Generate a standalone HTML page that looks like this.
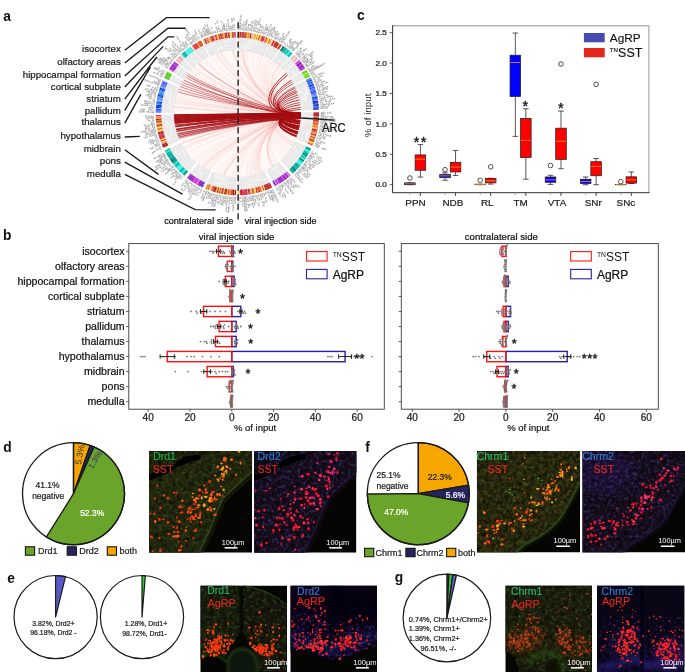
<!DOCTYPE html>
<html><head><meta charset="utf-8"><title>figure</title>
<style>
html,body{margin:0;padding:0;background:#fff;overflow:hidden}
svg{display:block}
text{font-family:"Liberation Sans",sans-serif}
</style></head><body>
<svg width="685" height="672" viewBox="0 0 685 672">
<rect width="685" height="672" fill="#fff"/>
<g opacity="0.999">
<g id="panel_a">
<g font-size="10" fill="#222" opacity="0.85"><text transform="translate(238.56 30.31) rotate(-89.2) scale(0.24)" text-anchor="start" y="3.5">jC3d</text><text transform="translate(238.65 23.91) rotate(-89.2) scale(0.24)" text-anchor="start" y="3.5">zV</text><text transform="translate(240.19 30.35) rotate(-88.08) scale(0.24)" text-anchor="start" y="3.5">ncfEDe</text><text transform="translate(240.49 21.35) rotate(-88.08) scale(0.24)" text-anchor="start" y="3.5">dTho2</text><text transform="translate(242.11 30.43) rotate(-86.76) scale(0.24)" text-anchor="start" y="3.5">TV</text><text transform="translate(242.32 26.64) rotate(-86.76) scale(0.24)" text-anchor="start" y="3.5">cSi</text><text transform="translate(243.85 30.55) rotate(-85.56) scale(0.24)" text-anchor="start" y="3.5">RhT</text><text transform="translate(244.25 25.47) rotate(-85.56) scale(0.24)" text-anchor="start" y="3.5">gVT</text><text transform="translate(245.77 30.72) rotate(-84.24) scale(0.24)" text-anchor="start" y="3.5">gSeT</text><text transform="translate(246.41 24.35) rotate(-84.24) scale(0.24)" text-anchor="start" y="3.5">MRE</text><text transform="translate(247.75 30.95) rotate(-82.86) scale(0.24)" text-anchor="start" y="3.5">VHzup</text><text transform="translate(249.69 31.21) rotate(-81.52) scale(0.24)" text-anchor="start" y="3.5">fTu</text><text transform="translate(250.44 26.17) rotate(-81.52) scale(0.24)" text-anchor="start" y="3.5">Gt-e</text><text transform="translate(251.32 31.47) rotate(-80.38) scale(0.24)" text-anchor="start" y="3.5">kxjMD</text><text transform="translate(252.61 23.88) rotate(-80.38) scale(0.24)" text-anchor="start" y="3.5">ST</text><text transform="translate(253.29 31.83) rotate(-79) scale(0.24)" text-anchor="start" y="3.5">xy-M</text><text transform="translate(254.51 25.55) rotate(-79) scale(0.24)" text-anchor="start" y="3.5">efsL5</text><text transform="translate(254.89 32.16) rotate(-77.88) scale(0.24)" text-anchor="start" y="3.5">3TGt</text><text transform="translate(256.24 25.9) rotate(-77.88) scale(0.24)" text-anchor="start" y="3.5">bHyk</text><text transform="translate(256.76 32.58) rotate(-76.56) scale(0.24)" text-anchor="start" y="3.5">dntip</text><text transform="translate(258.54 25.09) rotate(-76.56) scale(0.24)" text-anchor="start" y="3.5">fkGCS</text><text transform="translate(258.44 33) rotate(-75.37) scale(0.24)" text-anchor="start" y="3.5">ESs</text><text transform="translate(259.73 28.07) rotate(-75.37) scale(0.24)" text-anchor="start" y="3.5">Aojf</text><text transform="translate(260.07 33.45) rotate(-74.21) scale(0.24)" text-anchor="start" y="3.5">5oa</text><text transform="translate(261.46 28.54) rotate(-74.21) scale(0.24)" text-anchor="start" y="3.5">rta</text><text transform="translate(261.68 33.92) rotate(-73.05) scale(0.24)" text-anchor="start" y="3.5">z1TviN</text><text transform="translate(263.52 34.5) rotate(-71.73) scale(0.24)" text-anchor="start" y="3.5">HS</text><text transform="translate(264.71 30.89) rotate(-71.73) scale(0.24)" text-anchor="start" y="3.5">CgL2C</text><text transform="translate(265.06 35.03) rotate(-70.6) scale(0.24)" text-anchor="start" y="3.5">nG</text><text transform="translate(266.33 31.44) rotate(-70.6) scale(0.24)" text-anchor="start" y="3.5">-dga</text><text transform="translate(266.84 35.67) rotate(-69.31) scale(0.24)" text-anchor="start" y="3.5">gz1ben</text><text transform="translate(270.02 27.26) rotate(-69.31) scale(0.24)" text-anchor="start" y="3.5">2ry</text><text transform="translate(268.61 36.37) rotate(-67.99) scale(0.24)" text-anchor="start" y="3.5">hhMHL</text><text transform="translate(271.5 29.23) rotate(-67.99) scale(0.24)" text-anchor="start" y="3.5">jg</text><text transform="translate(270.44 37.13) rotate(-66.63) scale(0.24)" text-anchor="start" y="3.5">LkPb</text><text transform="translate(272.98 31.26) rotate(-66.63) scale(0.24)" text-anchor="start" y="3.5">jRbP</text><text transform="translate(272.04 37.84) rotate(-65.43) scale(0.24)" text-anchor="start" y="3.5">rP</text><text transform="translate(273.62 34.39) rotate(-65.43) scale(0.24)" text-anchor="start" y="3.5">yoR</text><text transform="translate(273.79 38.67) rotate(-64.1) scale(0.24)" text-anchor="start" y="3.5">x2o1mp</text><text transform="translate(275.55 39.55) rotate(-62.74) scale(0.24)" text-anchor="start" y="3.5">mPM</text><text transform="translate(277.89 35.02) rotate(-62.74) scale(0.24)" text-anchor="start" y="3.5">bs</text><text transform="translate(277.18 40.41) rotate(-61.48) scale(0.24)" text-anchor="start" y="3.5">-yG</text><text transform="translate(278.9 41.37) rotate(-60.12) scale(0.24)" text-anchor="start" y="3.5">zfog</text><text transform="translate(282.08 35.82) rotate(-60.12) scale(0.24)" text-anchor="start" y="3.5">xnL</text><text transform="translate(280.55 42.34) rotate(-58.8) scale(0.24)" text-anchor="start" y="3.5">aL3y3f</text><text transform="translate(281.96 43.22) rotate(-57.66) scale(0.24)" text-anchor="start" y="3.5">mLlE2</text><text transform="translate(286.08 36.71) rotate(-57.66) scale(0.24)" text-anchor="start" y="3.5">HCfkk</text><text transform="translate(284.34 44.79) rotate(-55.7) scale(0.24)" text-anchor="start" y="3.5">jV</text><text transform="translate(285.99 45.94) rotate(-54.32) scale(0.24)" text-anchor="start" y="3.5">1-L</text><text transform="translate(288.96 41.8) rotate(-54.32) scale(0.24)" text-anchor="start" y="3.5">jSSi</text><text transform="translate(287.29 46.89) rotate(-53.21) scale(0.24)" text-anchor="start" y="3.5">Pi</text><text transform="translate(289.56 43.85) rotate(-53.21) scale(0.24)" text-anchor="start" y="3.5">nbr</text><text transform="translate(288.64 47.93) rotate(-52.04) scale(0.24)" text-anchor="start" y="3.5">pVvrRD</text><text transform="translate(289.92 48.94) rotate(-50.91) scale(0.24)" text-anchor="start" y="3.5">H5VP</text><text transform="translate(293.95 43.97) rotate(-50.91) scale(0.24)" text-anchor="start" y="3.5">RjP</text><text transform="translate(291.35 50.13) rotate(-49.64) scale(0.24)" text-anchor="start" y="3.5">l-ajl</text><text transform="translate(296.34 44.26) rotate(-49.64) scale(0.24)" text-anchor="start" y="3.5">Sd</text><text transform="translate(292.68 51.29) rotate(-48.42) scale(0.24)" text-anchor="start" y="3.5">PSLgSd</text><text transform="translate(298.65 44.56) rotate(-48.42) scale(0.24)" text-anchor="start" y="3.5">cgNG</text><text transform="translate(295.37 53.78) rotate(-45.9) scale(0.24)" text-anchor="start" y="3.5">Gv</text><text transform="translate(298.01 51.05) rotate(-45.9) scale(0.24)" text-anchor="start" y="3.5">sGN</text><text transform="translate(296.7 55.1) rotate(-44.61) scale(0.24)" text-anchor="start" y="3.5">NpPrS</text><text transform="translate(297.88 56.32) rotate(-43.44) scale(0.24)" text-anchor="start" y="3.5">iDhCG</text><text transform="translate(303.47 51.03) rotate(-43.44) scale(0.24)" text-anchor="start" y="3.5">Een</text><text transform="translate(299.2 57.74) rotate(-42.11) scale(0.24)" text-anchor="start" y="3.5">j3</text><text transform="translate(302.02 55.2) rotate(-42.11) scale(0.24)" text-anchor="start" y="3.5">riH</text><text transform="translate(300.74 59.5) rotate(-40.5) scale(0.24)" text-anchor="start" y="3.5">CM</text><text transform="translate(303.63 57.03) rotate(-40.5) scale(0.24)" text-anchor="start" y="3.5">kEN</text><text transform="translate(301.9 60.89) rotate(-39.26) scale(0.24)" text-anchor="start" y="3.5">myvfz</text><text transform="translate(307.86 56.01) rotate(-39.26) scale(0.24)" text-anchor="start" y="3.5">GbAxP</text><text transform="translate(303.09 62.38) rotate(-37.94) scale(0.24)" text-anchor="start" y="3.5">ehogfr</text><text transform="translate(310.19 56.85) rotate(-37.94) scale(0.24)" text-anchor="start" y="3.5">siE</text><text transform="translate(304.32 64) rotate(-36.54) scale(0.24)" text-anchor="start" y="3.5">CjRN</text><text transform="translate(309.47 60.19) rotate(-36.54) scale(0.24)" text-anchor="start" y="3.5">fsdl</text><text transform="translate(305.39 65.47) rotate(-35.29) scale(0.24)" text-anchor="start" y="3.5">sb</text><text transform="translate(308.49 63.28) rotate(-35.29) scale(0.24)" text-anchor="start" y="3.5">f-oe</text><text transform="translate(306.38 66.9) rotate(-34.1) scale(0.24)" text-anchor="start" y="3.5">Ha</text><text transform="translate(309.52 64.77) rotate(-34.1) scale(0.24)" text-anchor="start" y="3.5">s1icP</text><text transform="translate(307.81 69.09) rotate(-32.3) scale(0.24)" text-anchor="start" y="3.5">kr</text><text transform="translate(311.02 67.06) rotate(-32.3) scale(0.24)" text-anchor="start" y="3.5">u2u</text><text transform="translate(308.79 70.68) rotate(-31.01) scale(0.24)" text-anchor="start" y="3.5">tGN</text><text transform="translate(313.16 68.05) rotate(-31.01) scale(0.24)" text-anchor="start" y="3.5">ybrc</text><text transform="translate(309.61 72.06) rotate(-29.91) scale(0.24)" text-anchor="start" y="3.5">SmNLpG</text><text transform="translate(317.41 67.58) rotate(-29.91) scale(0.24)" text-anchor="start" y="3.5">5MRCN</text><text transform="translate(310.47 73.6) rotate(-28.7) scale(0.24)" text-anchor="start" y="3.5">oxm</text><text transform="translate(311.39 75.33) rotate(-27.35) scale(0.24)" text-anchor="start" y="3.5">Cyd</text><text transform="translate(312.52 77.61) rotate(-25.6) scale(0.24)" text-anchor="start" y="3.5">Ekdf</text><text transform="translate(318.29 74.84) rotate(-25.6) scale(0.24)" text-anchor="start" y="3.5">N5t-p</text><text transform="translate(313.35 79.38) rotate(-24.26) scale(0.24)" text-anchor="start" y="3.5">Hl</text><text transform="translate(316.81 77.82) rotate(-24.26) scale(0.24)" text-anchor="start" y="3.5">arzxS</text><text transform="translate(314.05 80.99) rotate(-23.04) scale(0.24)" text-anchor="start" y="3.5">un</text><text transform="translate(317.55 79.51) rotate(-23.04) scale(0.24)" text-anchor="start" y="3.5">xA</text><text transform="translate(314.68 82.51) rotate(-21.91) scale(0.24)" text-anchor="start" y="3.5">N3mp</text><text transform="translate(320.62 80.12) rotate(-21.91) scale(0.24)" text-anchor="start" y="3.5">fr</text><text transform="translate(315.41 84.39) rotate(-20.53) scale(0.24)" text-anchor="start" y="3.5">CVc</text><text transform="translate(320.19 82.6) rotate(-20.53) scale(0.24)" text-anchor="start" y="3.5">u2of</text><text transform="translate(316.06 86.17) rotate(-19.22) scale(0.24)" text-anchor="start" y="3.5">j5-AvM</text><text transform="translate(324.55 83.21) rotate(-19.22) scale(0.24)" text-anchor="start" y="3.5">cN2</text><text transform="translate(316.63 87.9) rotate(-17.97) scale(0.24)" text-anchor="start" y="3.5">iPNTbV</text><text transform="translate(317.22 89.77) rotate(-16.62) scale(0.24)" text-anchor="start" y="3.5">fbc</text><text transform="translate(322.1 88.31) rotate(-16.62) scale(0.24)" text-anchor="start" y="3.5">gAGS</text><text transform="translate(317.67 91.33) rotate(-15.51) scale(0.24)" text-anchor="start" y="3.5">2R</text><text transform="translate(321.33 90.31) rotate(-15.51) scale(0.24)" text-anchor="start" y="3.5">raHeN</text><text transform="translate(318.19 93.32) rotate(-14.09) scale(0.24)" text-anchor="start" y="3.5">5P</text><text transform="translate(321.88 92.39) rotate(-14.09) scale(0.24)" text-anchor="start" y="3.5">rerpn</text><text transform="translate(318.59 94.99) rotate(-12.91) scale(0.24)" text-anchor="start" y="3.5">MAeLt</text><text transform="translate(319 96.86) rotate(-11.6) scale(0.24)" text-anchor="start" y="3.5">e-j</text><text transform="translate(324 95.83) rotate(-11.6) scale(0.24)" text-anchor="start" y="3.5">1Tia</text><text transform="translate(319.35 98.67) rotate(-10.33) scale(0.24)" text-anchor="start" y="3.5">sgnMt</text><text transform="translate(326.93 97.29) rotate(-10.33) scale(0.24)" text-anchor="start" y="3.5">HHHh</text><text transform="translate(319.7 100.74) rotate(-8.88) scale(0.24)" text-anchor="start" y="3.5">mufLbt</text><text transform="translate(328.59 99.35) rotate(-8.88) scale(0.24)" text-anchor="start" y="3.5">sAnne</text><text transform="translate(319.97 102.62) rotate(-7.58) scale(0.24)" text-anchor="start" y="3.5">Prz</text><text transform="translate(325.03 101.95) rotate(-7.58) scale(0.24)" text-anchor="start" y="3.5">hzoM</text><text transform="translate(320.22 104.66) rotate(-6.16) scale(0.24)" text-anchor="start" y="3.5">CbkaM</text><text transform="translate(327.87 103.83) rotate(-6.16) scale(0.24)" text-anchor="start" y="3.5">ujDyA</text><text transform="translate(320.39 106.41) rotate(-4.95) scale(0.24)" text-anchor="start" y="3.5">avxC</text><text transform="translate(326.77 105.86) rotate(-4.95) scale(0.24)" text-anchor="start" y="3.5">atr</text><text transform="translate(320.52 108.19) rotate(-3.72) scale(0.24)" text-anchor="start" y="3.5">AVezE</text><text transform="translate(320.7 112.73) rotate(-0.6) scale(0.24)" text-anchor="start" y="3.5">gd5t</text><text transform="translate(327.1 112.66) rotate(-0.6) scale(0.24)" text-anchor="start" y="3.5">psE</text><text transform="translate(320.69 114.59) rotate(0.68) scale(0.24)" text-anchor="start" y="3.5">zEb</text><text transform="translate(320.65 116.51) rotate(2) scale(0.24)" text-anchor="start" y="3.5">SnfdDG</text><text transform="translate(329.64 116.82) rotate(2) scale(0.24)" text-anchor="start" y="3.5">3tM</text><text transform="translate(320.58 118.13) rotate(3.12) scale(0.24)" text-anchor="start" y="3.5">ikLDxt</text><text transform="translate(329.56 118.62) rotate(3.12) scale(0.24)" text-anchor="start" y="3.5">C3pu</text><text transform="translate(320.46 119.97) rotate(4.39) scale(0.24)" text-anchor="start" y="3.5">hk3ke</text><text transform="translate(328.13 120.56) rotate(4.39) scale(0.24)" text-anchor="start" y="3.5">SoGxG</text><text transform="translate(320.3 121.78) rotate(5.64) scale(0.24)" text-anchor="start" y="3.5">mpflxS</text><text transform="translate(329.25 122.66) rotate(5.64) scale(0.24)" text-anchor="start" y="3.5">zrT</text><text transform="translate(320.11 123.47) rotate(6.81) scale(0.24)" text-anchor="start" y="3.5">DA</text><text transform="translate(323.89 123.92) rotate(6.81) scale(0.24)" text-anchor="start" y="3.5">Asx</text><text transform="translate(319.85 125.44) rotate(8.17) scale(0.24)" text-anchor="start" y="3.5">sTziN</text><text transform="translate(327.48 126.53) rotate(8.17) scale(0.24)" text-anchor="start" y="3.5">fsp</text><text transform="translate(319.58 127.21) rotate(9.4) scale(0.24)" text-anchor="start" y="3.5">Eubic</text><text transform="translate(327.18 128.47) rotate(9.4) scale(0.24)" text-anchor="start" y="3.5">VMaeC</text><text transform="translate(319.22 129.25) rotate(10.83) scale(0.24)" text-anchor="start" y="3.5">HGpgoj</text><text transform="translate(328.06 130.94) rotate(10.83) scale(0.24)" text-anchor="start" y="3.5">3H</text><text transform="translate(318.89 130.86) rotate(11.96) scale(0.24)" text-anchor="start" y="3.5">ai</text><text transform="translate(322.61 131.65) rotate(11.96) scale(0.24)" text-anchor="start" y="3.5">3u</text><text transform="translate(318.43 132.9) rotate(13.4) scale(0.24)" text-anchor="start" y="3.5">P2Eh</text><text transform="translate(324.66 134.38) rotate(13.4) scale(0.24)" text-anchor="start" y="3.5">PVmA</text><text transform="translate(318.01 134.58) rotate(14.59) scale(0.24)" text-anchor="start" y="3.5">aaRuHs</text><text transform="translate(317.51 136.44) rotate(15.91) scale(0.24)" text-anchor="start" y="3.5">LPp</text><text transform="translate(322.41 137.84) rotate(15.91) scale(0.24)" text-anchor="start" y="3.5">D3</text><text transform="translate(317.01 138.12) rotate(17.12) scale(0.24)" text-anchor="start" y="3.5">mM</text><text transform="translate(316.42 139.96) rotate(18.45) scale(0.24)" text-anchor="start" y="3.5">ro</text><text transform="translate(320.02 141.16) rotate(18.45) scale(0.24)" text-anchor="start" y="3.5">oMcx</text><text transform="translate(315.78 141.82) rotate(19.8) scale(0.24)" text-anchor="start" y="3.5">Cmat</text><text transform="translate(315.13 143.55) rotate(21.08) scale(0.24)" text-anchor="start" y="3.5">Mmu</text><text transform="translate(314.5 145.13) rotate(22.24) scale(0.24)" text-anchor="start" y="3.5">ortg1</text><text transform="translate(321.63 148.05) rotate(22.24) scale(0.24)" text-anchor="start" y="3.5">oMD</text><text transform="translate(312.4 149.85) rotate(25.8) scale(0.24)" text-anchor="start" y="3.5">-j</text><text transform="translate(311.67 151.31) rotate(26.92) scale(0.24)" text-anchor="start" y="3.5">-j</text><text transform="translate(315.06 153.03) rotate(26.92) scale(0.24)" text-anchor="start" y="3.5">lC</text><text transform="translate(310.83 152.93) rotate(28.18) scale(0.24)" text-anchor="start" y="3.5">hfkx</text><text transform="translate(316.47 155.96) rotate(28.18) scale(0.24)" text-anchor="start" y="3.5">cu5Az</text><text transform="translate(309.81 154.77) rotate(29.62) scale(0.24)" text-anchor="start" y="3.5">kgafs</text><text transform="translate(316.51 158.58) rotate(29.62) scale(0.24)" text-anchor="start" y="3.5">hSnAy</text><text transform="translate(308.81 156.49) rotate(30.99) scale(0.24)" text-anchor="start" y="3.5">EfdL</text><text transform="translate(314.3 159.79) rotate(30.99) scale(0.24)" text-anchor="start" y="3.5">mvzLb</text><text transform="translate(307.8 158.13) rotate(32.31) scale(0.24)" text-anchor="start" y="3.5">2Cc</text><text transform="translate(312.11 160.85) rotate(32.31) scale(0.24)" text-anchor="start" y="3.5">edrme</text><text transform="translate(306.68 159.85) rotate(33.73) scale(0.24)" text-anchor="start" y="3.5">zsx1</text><text transform="translate(312 163.4) rotate(33.73) scale(0.24)" text-anchor="start" y="3.5">sua-</text><text transform="translate(305.51 161.55) rotate(35.15) scale(0.24)" text-anchor="start" y="3.5">bo</text><text transform="translate(308.62 163.74) rotate(35.15) scale(0.24)" text-anchor="start" y="3.5">ArEMi</text><text transform="translate(304.3 163.23) rotate(36.57) scale(0.24)" text-anchor="start" y="3.5">auj</text><text transform="translate(308.4 166.27) rotate(36.57) scale(0.24)" text-anchor="start" y="3.5">vHz-</text><text transform="translate(303.31 164.54) rotate(37.7) scale(0.24)" text-anchor="start" y="3.5">Ckp</text><text transform="translate(307.35 167.66) rotate(37.7) scale(0.24)" text-anchor="start" y="3.5">LS</text><text transform="translate(302.15 166.01) rotate(38.99) scale(0.24)" text-anchor="start" y="3.5">Ege</text><text transform="translate(306.11 169.22) rotate(38.99) scale(0.24)" text-anchor="start" y="3.5">ng</text><text transform="translate(300.99 167.41) rotate(40.24) scale(0.24)" text-anchor="start" y="3.5">loiDH</text><text transform="translate(306.87 172.38) rotate(40.24) scale(0.24)" text-anchor="start" y="3.5">R5h</text><text transform="translate(299.68 168.92) rotate(41.61) scale(0.24)" text-anchor="start" y="3.5">tsTs</text><text transform="translate(304.47 173.17) rotate(41.61) scale(0.24)" text-anchor="start" y="3.5">mGpl</text><text transform="translate(298.52 170.19) rotate(42.8) scale(0.24)" text-anchor="start" y="3.5">tVm</text><text transform="translate(302.27 173.66) rotate(42.8) scale(0.24)" text-anchor="start" y="3.5">rpNPo</text><text transform="translate(297.2 171.59) rotate(44.12) scale(0.24)" text-anchor="start" y="3.5">3H</text><text transform="translate(296.04 172.77) rotate(45.26) scale(0.24)" text-anchor="start" y="3.5">oGzct</text><text transform="translate(301.46 178.24) rotate(45.26) scale(0.24)" text-anchor="start" y="3.5">m-</text><text transform="translate(294.53 174.22) rotate(46.7) scale(0.24)" text-anchor="start" y="3.5">mezNlG</text><text transform="translate(300.7 180.77) rotate(46.7) scale(0.24)" text-anchor="start" y="3.5">g2</text><text transform="translate(291.17 177.22) rotate(49.8) scale(0.24)" text-anchor="start" y="3.5">ynczxj</text><text transform="translate(296.98 184.1) rotate(49.8) scale(0.24)" text-anchor="start" y="3.5">c-3n</text><text transform="translate(289.61 178.51) rotate(51.19) scale(0.24)" text-anchor="start" y="3.5">Dzl1</text><text transform="translate(293.62 183.49) rotate(51.19) scale(0.24)" text-anchor="start" y="3.5">cMS</text><text transform="translate(288.16 179.65) rotate(52.45) scale(0.24)" text-anchor="start" y="3.5">gC5Sj</text><text transform="translate(292.85 185.75) rotate(52.45) scale(0.24)" text-anchor="start" y="3.5">3k</text><text transform="translate(286.72 180.73) rotate(53.69) scale(0.24)" text-anchor="start" y="3.5">Dt5u</text><text transform="translate(290.51 185.89) rotate(53.69) scale(0.24)" text-anchor="start" y="3.5">uT</text><text transform="translate(285.06 181.92) rotate(55.1) scale(0.24)" text-anchor="start" y="3.5">Dbz3m</text><text transform="translate(289.46 188.24) rotate(55.1) scale(0.24)" text-anchor="start" y="3.5">naEkE</text><text transform="translate(283.69 182.86) rotate(56.24) scale(0.24)" text-anchor="start" y="3.5">CT</text><text transform="translate(282.15 183.86) rotate(57.5) scale(0.24)" text-anchor="start" y="3.5">iad</text><text transform="translate(284.89 188.16) rotate(57.5) scale(0.24)" text-anchor="start" y="3.5">fT1zN</text><text transform="translate(280.72 184.75) rotate(58.66) scale(0.24)" text-anchor="start" y="3.5">tkPk</text><text transform="translate(279.3 185.6) rotate(59.8) scale(0.24)" text-anchor="start" y="3.5">muicL</text><text transform="translate(283.17 192.25) rotate(59.8) scale(0.24)" text-anchor="start" y="3.5">f1k2o</text><text transform="translate(277.63 186.54) rotate(61.12) scale(0.24)" text-anchor="start" y="3.5">mLlTnc</text><text transform="translate(281.98 194.42) rotate(61.12) scale(0.24)" text-anchor="start" y="3.5">Ayh</text><text transform="translate(276.16 187.33) rotate(62.27) scale(0.24)" text-anchor="start" y="3.5">cSc</text><text transform="translate(278.53 191.85) rotate(62.27) scale(0.24)" text-anchor="start" y="3.5">hA-H</text><text transform="translate(272.34 189.22) rotate(65.2) scale(0.24)" text-anchor="start" y="3.5">3DuV</text><text transform="translate(275.02 195.03) rotate(65.2) scale(0.24)" text-anchor="start" y="3.5">5zGNG</text><text transform="translate(270.8 189.91) rotate(66.36) scale(0.24)" text-anchor="start" y="3.5">1M</text><text transform="translate(272.32 193.39) rotate(66.36) scale(0.24)" text-anchor="start" y="3.5">1HlLC</text><text transform="translate(269.28 190.56) rotate(67.5) scale(0.24)" text-anchor="start" y="3.5">yEz</text><text transform="translate(271.23 195.27) rotate(67.5) scale(0.24)" text-anchor="start" y="3.5">NN5cc</text><text transform="translate(267.49 191.27) rotate(68.82) scale(0.24)" text-anchor="start" y="3.5">vN</text><text transform="translate(268.87 194.82) rotate(68.82) scale(0.24)" text-anchor="start" y="3.5">3ibe1</text><text transform="translate(265.65 191.97) rotate(70.18) scale(0.24)" text-anchor="start" y="3.5">mi</text><text transform="translate(263.9 192.57) rotate(71.45) scale(0.24)" text-anchor="start" y="3.5">oey</text><text transform="translate(265.52 197.41) rotate(71.45) scale(0.24)" text-anchor="start" y="3.5">kv1s</text><text transform="translate(261.94 193.2) rotate(72.87) scale(0.24)" text-anchor="start" y="3.5">jrNLn</text><text transform="translate(264.21 200.56) rotate(72.87) scale(0.24)" text-anchor="start" y="3.5">vzc</text><text transform="translate(260.31 193.69) rotate(74.04) scale(0.24)" text-anchor="start" y="3.5">k2svA</text><text transform="translate(262.43 201.09) rotate(74.04) scale(0.24)" text-anchor="start" y="3.5">hPd2</text><text transform="translate(258.34 194.22) rotate(75.44) scale(0.24)" text-anchor="start" y="3.5">SPVgr</text><text transform="translate(256.48 194.69) rotate(76.76) scale(0.24)" text-anchor="start" y="3.5">zrAzT</text><text transform="translate(258.24 202.18) rotate(76.76) scale(0.24)" text-anchor="start" y="3.5">fGol</text><text transform="translate(254.61 195.1) rotate(78.07) scale(0.24)" text-anchor="start" y="3.5">tP</text><text transform="translate(255.4 198.82) rotate(78.07) scale(0.24)" text-anchor="start" y="3.5">acoj</text><text transform="translate(252.9 195.45) rotate(79.28) scale(0.24)" text-anchor="start" y="3.5">DNzdi</text><text transform="translate(254.33 203.01) rotate(79.28) scale(0.24)" text-anchor="start" y="3.5">bd</text><text transform="translate(251.33 195.73) rotate(80.38) scale(0.24)" text-anchor="start" y="3.5">ugPy</text><text transform="translate(252.4 202.04) rotate(80.38) scale(0.24)" text-anchor="start" y="3.5">VuVin</text><text transform="translate(249.56 196.01) rotate(81.6) scale(0.24)" text-anchor="start" y="3.5">kiapj</text><text transform="translate(250.69 203.62) rotate(81.6) scale(0.24)" text-anchor="start" y="3.5">2j</text><text transform="translate(247.54 196.28) rotate(83.01) scale(0.24)" text-anchor="start" y="3.5">Crad</text><text transform="translate(248.32 202.63) rotate(83.01) scale(0.24)" text-anchor="start" y="3.5">-3VG</text><text transform="translate(245.64 196.49) rotate(84.32) scale(0.24)" text-anchor="start" y="3.5">Mpkacd</text><text transform="translate(246.53 205.45) rotate(84.32) scale(0.24)" text-anchor="start" y="3.5">lpkdg</text><text transform="translate(244.04 196.63) rotate(85.42) scale(0.24)" text-anchor="start" y="3.5">5mjDmP</text><text transform="translate(244.76 205.61) rotate(85.42) scale(0.24)" text-anchor="start" y="3.5">1lNue</text><text transform="translate(242.3 196.76) rotate(86.63) scale(0.24)" text-anchor="start" y="3.5">LR</text><text transform="translate(242.52 200.55) rotate(86.63) scale(0.24)" text-anchor="start" y="3.5">Hf3Gl</text><text transform="translate(240.58 196.84) rotate(87.81) scale(0.24)" text-anchor="start" y="3.5">ro</text><text transform="translate(240.73 200.64) rotate(87.81) scale(0.24)" text-anchor="start" y="3.5">xr</text><text transform="translate(238.62 196.89) rotate(89.16) scale(0.24)" text-anchor="start" y="3.5">2SEP</text><text transform="translate(202.33 38.04) rotate(425.1) scale(0.24)" text-anchor="end" y="3.5">fNa</text><text transform="translate(200.18 33.42) rotate(425.1) scale(0.24)" text-anchor="end" y="3.5">mkv</text><text transform="translate(203.87 37.34) rotate(426.27) scale(0.24)" text-anchor="end" y="3.5">x-pA2</text><text transform="translate(205.81 36.52) rotate(427.71) scale(0.24)" text-anchor="end" y="3.5">LLPabE</text><text transform="translate(207.4 35.89) rotate(428.89) scale(0.24)" text-anchor="end" y="3.5">nC1V</text><text transform="translate(205.1 29.92) rotate(428.89) scale(0.24)" text-anchor="end" y="3.5">jcb</text><text transform="translate(208.95 35.31) rotate(430.03) scale(0.24)" text-anchor="end" y="3.5">kyjbbc</text><text transform="translate(205.88 26.85) rotate(430.03) scale(0.24)" text-anchor="end" y="3.5">ec</text><text transform="translate(210.49 34.77) rotate(431.15) scale(0.24)" text-anchor="end" y="3.5">zmR5eA</text><text transform="translate(207.59 26.25) rotate(431.15) scale(0.24)" text-anchor="end" y="3.5">nhc</text><text transform="translate(212.03 34.26) rotate(432.27) scale(0.24)" text-anchor="end" y="3.5">22</text><text transform="translate(210.87 30.64) rotate(432.27) scale(0.24)" text-anchor="end" y="3.5">ig</text><text transform="translate(213.94 33.67) rotate(433.64) scale(0.24)" text-anchor="end" y="3.5">tvx</text><text transform="translate(212.51 28.78) rotate(433.64) scale(0.24)" text-anchor="end" y="3.5">yr</text><text transform="translate(215.94 33.11) rotate(435.07) scale(0.24)" text-anchor="end" y="3.5">zv</text><text transform="translate(217.78 32.64) rotate(436.38) scale(0.24)" text-anchor="end" y="3.5">t1bDb</text><text transform="translate(215.97 25.16) rotate(436.38) scale(0.24)" text-anchor="end" y="3.5">yL</text><text transform="translate(219.69 32.2) rotate(437.73) scale(0.24)" text-anchor="end" y="3.5">TnfTtk</text><text transform="translate(217.78 23.41) rotate(437.73) scale(0.24)" text-anchor="end" y="3.5">tda</text><text transform="translate(221.43 31.84) rotate(438.95) scale(0.24)" text-anchor="end" y="3.5">Ml</text><text transform="translate(223.3 31.5) rotate(440.26) scale(0.24)" text-anchor="end" y="3.5">rTktno</text><text transform="translate(221.78 22.63) rotate(440.26) scale(0.24)" text-anchor="end" y="3.5">2f</text><text transform="translate(225.13 31.21) rotate(441.53) scale(0.24)" text-anchor="end" y="3.5">g2vygC</text><text transform="translate(227.16 30.93) rotate(442.94) scale(0.24)" text-anchor="end" y="3.5">E3</text><text transform="translate(226.69 27.16) rotate(442.94) scale(0.24)" text-anchor="end" y="3.5">urE</text><text transform="translate(229.21 30.7) rotate(444.36) scale(0.24)" text-anchor="end" y="3.5">kA2oHi</text><text transform="translate(228.32 21.75) rotate(444.36) scale(0.24)" text-anchor="end" y="3.5">yV</text><text transform="translate(230.97 30.55) rotate(445.57) scale(0.24)" text-anchor="end" y="3.5">G5S</text><text transform="translate(232.65 30.44) rotate(446.73) scale(0.24)" text-anchor="end" y="3.5">rVoix</text><text transform="translate(232.21 22.75) rotate(446.73) scale(0.24)" text-anchor="end" y="3.5">Nms</text><text transform="translate(234.4 30.35) rotate(447.93) scale(0.24)" text-anchor="end" y="3.5">jjpv-P</text><text transform="translate(234.07 21.36) rotate(447.93) scale(0.24)" text-anchor="end" y="3.5">vmr</text><text transform="translate(191.06 44.38) rotate(416.2) scale(0.24)" text-anchor="end" y="3.5">k5</text><text transform="translate(188.95 41.22) rotate(416.2) scale(0.24)" text-anchor="end" y="3.5">jjuuE</text><text transform="translate(192.52 43.43) rotate(417.4) scale(0.24)" text-anchor="end" y="3.5">2g</text><text transform="translate(190.47 40.23) rotate(417.4) scale(0.24)" text-anchor="end" y="3.5">HcaCE</text><text transform="translate(194.17 42.39) rotate(418.74) scale(0.24)" text-anchor="end" y="3.5">2tHbjr</text><text transform="translate(189.5 34.7) rotate(418.74) scale(0.24)" text-anchor="end" y="3.5">apETV</text><text transform="translate(195.88 41.39) rotate(420.1) scale(0.24)" text-anchor="end" y="3.5">o533V</text><text transform="translate(197.57 40.44) rotate(421.44) scale(0.24)" text-anchor="end" y="3.5">HE</text><text transform="translate(195.76 37.1) rotate(421.44) scale(0.24)" text-anchor="end" y="3.5">Dp</text><text transform="translate(199.34 39.5) rotate(422.81) scale(0.24)" text-anchor="end" y="3.5">rEL</text><text transform="translate(197.01 34.97) rotate(422.81) scale(0.24)" text-anchor="end" y="3.5">P5l3v</text><text transform="translate(180.06 53.18) rotate(406.5) scale(0.24)" text-anchor="end" y="3.5">MgcrR</text><text transform="translate(174.76 47.59) rotate(406.5) scale(0.24)" text-anchor="end" y="3.5">Pyg</text><text transform="translate(181.55 51.8) rotate(407.9) scale(0.24)" text-anchor="end" y="3.5">RnLNb</text><text transform="translate(176.39 46.08) rotate(407.9) scale(0.24)" text-anchor="end" y="3.5">PxDH</text><text transform="translate(182.83 50.67) rotate(409.07) scale(0.24)" text-anchor="end" y="3.5">CNh</text><text transform="translate(184.29 49.43) rotate(410.38) scale(0.24)" text-anchor="end" y="3.5">rs</text><text transform="translate(181.86 46.5) rotate(410.38) scale(0.24)" text-anchor="end" y="3.5">ae</text><text transform="translate(185.69 48.29) rotate(411.63) scale(0.24)" text-anchor="end" y="3.5">2yVrg</text><text transform="translate(180.91 42.25) rotate(411.63) scale(0.24)" text-anchor="end" y="3.5">PoCHn</text><text transform="translate(187.02 47.26) rotate(412.79) scale(0.24)" text-anchor="end" y="3.5">2m</text><text transform="translate(184.73 44.23) rotate(412.79) scale(0.24)" text-anchor="end" y="3.5">jy5</text><text transform="translate(188.57 46.11) rotate(414.11) scale(0.24)" text-anchor="end" y="3.5">HtS3i</text><text transform="translate(174.63 58.84) rotate(401.1) scale(0.24)" text-anchor="end" y="3.5">sAr</text><text transform="translate(175.92 57.39) rotate(402.44) scale(0.24)" text-anchor="end" y="3.5">asyp3</text><text transform="translate(170.24 52.19) rotate(402.44) scale(0.24)" text-anchor="end" y="3.5">ME12f</text><text transform="translate(177.25 55.98) rotate(403.77) scale(0.24)" text-anchor="end" y="3.5">juAd</text><text transform="translate(172.62 51.55) rotate(403.77) scale(0.24)" text-anchor="end" y="3.5">iPy2</text><text transform="translate(178.57 54.62) rotate(405.07) scale(0.24)" text-anchor="end" y="3.5">ne</text><text transform="translate(175.89 51.93) rotate(405.07) scale(0.24)" text-anchor="end" y="3.5">-gVj</text><text transform="translate(167.62 68.11) rotate(393.1) scale(0.24)" text-anchor="end" y="3.5">Gyj</text><text transform="translate(163.35 65.32) rotate(393.1) scale(0.24)" text-anchor="end" y="3.5">Rk1-f</text><text transform="translate(168.7 66.5) rotate(394.43) scale(0.24)" text-anchor="end" y="3.5">2umMnP</text><text transform="translate(161.27 61.41) rotate(394.43) scale(0.24)" text-anchor="end" y="3.5">5hShr</text><text transform="translate(169.74 65.01) rotate(395.68) scale(0.24)" text-anchor="end" y="3.5">LMS</text><text transform="translate(165.59 62.04) rotate(395.68) scale(0.24)" text-anchor="end" y="3.5">jMpMk</text><text transform="translate(170.85 63.5) rotate(396.97) scale(0.24)" text-anchor="end" y="3.5">kv</text><text transform="translate(167.81 61.22) rotate(396.97) scale(0.24)" text-anchor="end" y="3.5">5tHzE</text><text transform="translate(171.95 62.07) rotate(398.22) scale(0.24)" text-anchor="end" y="3.5">l2</text><text transform="translate(168.97 59.72) rotate(398.22) scale(0.24)" text-anchor="end" y="3.5">b1</text><text transform="translate(172.97 60.8) rotate(399.33) scale(0.24)" text-anchor="end" y="3.5">gNLM</text><text transform="translate(162.66 76.82) rotate(386.2) scale(0.24)" text-anchor="end" y="3.5">D2i</text><text transform="translate(158.08 74.57) rotate(386.2) scale(0.24)" text-anchor="end" y="3.5">xLPS</text><text transform="translate(163.56 75.05) rotate(387.57) scale(0.24)" text-anchor="end" y="3.5">tEx</text><text transform="translate(159.04 72.69) rotate(387.57) scale(0.24)" text-anchor="end" y="3.5">tt</text><text transform="translate(164.4 73.48) rotate(388.79) scale(0.24)" text-anchor="end" y="3.5">CxNsN</text><text transform="translate(157.65 69.77) rotate(388.79) scale(0.24)" text-anchor="end" y="3.5">3Mh</text><text transform="translate(165.27 71.94) rotate(390.01) scale(0.24)" text-anchor="end" y="3.5">uiV2</text><text transform="translate(159.73 68.74) rotate(390.01) scale(0.24)" text-anchor="end" y="3.5">CS</text><text transform="translate(154.12 111.86) rotate(361.2) scale(0.24)" text-anchor="end" y="3.5">TdCuga</text><text transform="translate(145.12 111.67) rotate(361.2) scale(0.24)" text-anchor="end" y="3.5">-5dNR</text><text transform="translate(154.18 109.95) rotate(362.51) scale(0.24)" text-anchor="end" y="3.5">j2-fnc</text><text transform="translate(145.19 109.55) rotate(362.51) scale(0.24)" text-anchor="end" y="3.5">2lg5l</text><text transform="translate(154.29 107.91) rotate(363.92) scale(0.24)" text-anchor="end" y="3.5">g3azi</text><text transform="translate(154.44 106.03) rotate(365.22) scale(0.24)" text-anchor="end" y="3.5">ulDc</text><text transform="translate(148.07 105.45) rotate(365.22) scale(0.24)" text-anchor="end" y="3.5">T3VdM</text><text transform="translate(154.64 104.15) rotate(366.51) scale(0.24)" text-anchor="end" y="3.5">hD</text><text transform="translate(150.86 103.72) rotate(366.51) scale(0.24)" text-anchor="end" y="3.5">GeaA-</text><text transform="translate(154.87 102.26) rotate(367.82) scale(0.24)" text-anchor="end" y="3.5">LDS</text><text transform="translate(149.82 101.57) rotate(367.82) scale(0.24)" text-anchor="end" y="3.5">nj2aE</text><text transform="translate(155.11 100.68) rotate(368.92) scale(0.24)" text-anchor="end" y="3.5">fn</text><text transform="translate(155.38 99.04) rotate(370.07) scale(0.24)" text-anchor="end" y="3.5">sT</text><text transform="translate(151.64 98.37) rotate(370.07) scale(0.24)" text-anchor="end" y="3.5">dzj</text><text transform="translate(155.75 97.1) rotate(371.42) scale(0.24)" text-anchor="end" y="3.5">t2</text><text transform="translate(152.03 96.35) rotate(371.42) scale(0.24)" text-anchor="end" y="3.5">H5rdc</text><text transform="translate(156.08 95.53) rotate(372.53) scale(0.24)" text-anchor="end" y="3.5">31</text><text transform="translate(152.37 94.71) rotate(372.53) scale(0.24)" text-anchor="end" y="3.5">u-kM</text><text transform="translate(156.52 93.67) rotate(373.84) scale(0.24)" text-anchor="end" y="3.5">zTGL</text><text transform="translate(150.3 92.14) rotate(373.84) scale(0.24)" text-anchor="end" y="3.5">hz3</text><text transform="translate(156.94 92.04) rotate(375) scale(0.24)" text-anchor="end" y="3.5">LAGsT</text><text transform="translate(149.5 90.05) rotate(375) scale(0.24)" text-anchor="end" y="3.5">d13-</text><text transform="translate(157.41 90.34) rotate(376.21) scale(0.24)" text-anchor="end" y="3.5">aj-uVE</text><text transform="translate(157.91 88.69) rotate(377.4) scale(0.24)" text-anchor="end" y="3.5">A-oGt</text><text transform="translate(150.56 86.39) rotate(377.4) scale(0.24)" text-anchor="end" y="3.5">rsEk</text><text transform="translate(158.5 86.89) rotate(378.71) scale(0.24)" text-anchor="end" y="3.5">tj</text><text transform="translate(159.18 84.96) rotate(380.11) scale(0.24)" text-anchor="end" y="3.5">jsSMyR</text><text transform="translate(150.73 81.87) rotate(380.11) scale(0.24)" text-anchor="end" y="3.5">Amou-</text><text transform="translate(159.75 83.44) rotate(381.23) scale(0.24)" text-anchor="end" y="3.5">HnrVa</text><text transform="translate(160.44 81.74) rotate(382.49) scale(0.24)" text-anchor="end" y="3.5">Ry</text><text transform="translate(161.11 80.16) rotate(383.67) scale(0.24)" text-anchor="end" y="3.5">PrPvLN</text><text transform="translate(152.87 76.54) rotate(383.67) scale(0.24)" text-anchor="end" y="3.5">nmf</text><text transform="translate(161.6 148.14) rotate(335.5) scale(0.24)" text-anchor="end" y="3.5">zTTy</text><text transform="translate(155.78 150.8) rotate(335.5) scale(0.24)" text-anchor="end" y="3.5">pcM</text><text transform="translate(160.88 146.51) rotate(336.73) scale(0.24)" text-anchor="end" y="3.5">z2</text><text transform="translate(157.38 148.01) rotate(336.73) scale(0.24)" text-anchor="end" y="3.5">jv</text><text transform="translate(160.14 144.75) rotate(338.04) scale(0.24)" text-anchor="end" y="3.5">sP-b</text><text transform="translate(154.21 147.14) rotate(338.04) scale(0.24)" text-anchor="end" y="3.5">TMV</text><text transform="translate(159.46 142.99) rotate(339.34) scale(0.24)" text-anchor="end" y="3.5">sEgG</text><text transform="translate(158.77 141.1) rotate(340.73) scale(0.24)" text-anchor="end" y="3.5">rcx</text><text transform="translate(153.96 142.78) rotate(340.73) scale(0.24)" text-anchor="end" y="3.5">Afb</text><text transform="translate(158.25 139.56) rotate(341.84) scale(0.24)" text-anchor="end" y="3.5">zHMe-2</text><text transform="translate(149.7 142.36) rotate(341.84) scale(0.24)" text-anchor="end" y="3.5">fr</text><text transform="translate(157.72 137.88) rotate(343.05) scale(0.24)" text-anchor="end" y="3.5">3f5</text><text transform="translate(152.84 139.37) rotate(343.05) scale(0.24)" text-anchor="end" y="3.5">Gkz</text><text transform="translate(157.13 135.87) rotate(344.49) scale(0.24)" text-anchor="end" y="3.5">lcr</text><text transform="translate(156.71 134.3) rotate(345.61) scale(0.24)" text-anchor="end" y="3.5">bdrN3L</text><text transform="translate(147.99 136.53) rotate(345.61) scale(0.24)" text-anchor="end" y="3.5">vam</text><text transform="translate(156.25 132.41) rotate(346.95) scale(0.24)" text-anchor="end" y="3.5">VVG3</text><text transform="translate(150.02 133.85) rotate(346.95) scale(0.24)" text-anchor="end" y="3.5">zrAh</text><text transform="translate(155.87 130.66) rotate(348.18) scale(0.24)" text-anchor="end" y="3.5">kGpja</text><text transform="translate(148.33 132.24) rotate(348.18) scale(0.24)" text-anchor="end" y="3.5">cko</text><text transform="translate(155.55 129.05) rotate(349.31) scale(0.24)" text-anchor="end" y="3.5">ziGgAb</text><text transform="translate(146.7 130.72) rotate(349.31) scale(0.24)" text-anchor="end" y="3.5">xvoLh</text><text transform="translate(155.21 127.16) rotate(350.63) scale(0.24)" text-anchor="end" y="3.5">xod</text><text transform="translate(150.18 127.99) rotate(350.63) scale(0.24)" text-anchor="end" y="3.5">SjGjs</text><text transform="translate(154.94 125.37) rotate(351.87) scale(0.24)" text-anchor="end" y="3.5">jbs</text><text transform="translate(149.89 126.09) rotate(351.87) scale(0.24)" text-anchor="end" y="3.5">xkrM</text><text transform="translate(154.72 123.73) rotate(353.01) scale(0.24)" text-anchor="end" y="3.5">LhjNd</text><text transform="translate(147.08 124.67) rotate(353.01) scale(0.24)" text-anchor="end" y="3.5">SLt</text><text transform="translate(154.53 122.08) rotate(354.15) scale(0.24)" text-anchor="end" y="3.5">zEr</text><text transform="translate(154.35 120.02) rotate(355.58) scale(0.24)" text-anchor="end" y="3.5">At</text><text transform="translate(150.56 120.31) rotate(355.58) scale(0.24)" text-anchor="end" y="3.5">dtj</text><text transform="translate(154.21 117.93) rotate(357.02) scale(0.24)" text-anchor="end" y="3.5">GN</text><text transform="translate(150.42 118.13) rotate(357.02) scale(0.24)" text-anchor="end" y="3.5">GaP</text><text transform="translate(154.14 116.19) rotate(358.22) scale(0.24)" text-anchor="end" y="3.5">EcDn</text><text transform="translate(147.74 116.38) rotate(358.22) scale(0.24)" text-anchor="end" y="3.5">ilP</text><text transform="translate(182.97 176.66) rotate(310.8) scale(0.24)" text-anchor="end" y="3.5">m-f</text><text transform="translate(181.43 175.3) rotate(312.21) scale(0.24)" text-anchor="end" y="3.5">slni1</text><text transform="translate(176.26 181) rotate(312.21) scale(0.24)" text-anchor="end" y="3.5">Vum</text><text transform="translate(180.26 174.21) rotate(313.31) scale(0.24)" text-anchor="end" y="3.5">DdPyxt</text><text transform="translate(178.79 172.79) rotate(314.72) scale(0.24)" text-anchor="end" y="3.5">faDLi</text><text transform="translate(177.57 171.56) rotate(315.91) scale(0.24)" text-anchor="end" y="3.5">Tzc</text><text transform="translate(173.91 175.11) rotate(315.91) scale(0.24)" text-anchor="end" y="3.5">T-ay</text><text transform="translate(176.29 170.21) rotate(317.19) scale(0.24)" text-anchor="end" y="3.5">Pehyp</text><text transform="translate(174.92 168.69) rotate(318.6) scale(0.24)" text-anchor="end" y="3.5">ATdt</text><text transform="translate(173.56 167.11) rotate(320.03) scale(0.24)" text-anchor="end" y="3.5">GNbPR</text><text transform="translate(167.66 172.06) rotate(320.03) scale(0.24)" text-anchor="end" y="3.5">fo1</text><text transform="translate(172.49 165.8) rotate(321.19) scale(0.24)" text-anchor="end" y="3.5">ur</text><text transform="translate(169.53 168.19) rotate(321.19) scale(0.24)" text-anchor="end" y="3.5">bg</text><text transform="translate(171.21 164.17) rotate(322.62) scale(0.24)" text-anchor="end" y="3.5">rb-</text><text transform="translate(167.16 167.27) rotate(322.62) scale(0.24)" text-anchor="end" y="3.5">PpGgy</text><text transform="translate(169.99 162.54) rotate(324.02) scale(0.24)" text-anchor="end" y="3.5">csh</text><text transform="translate(165.86 165.53) rotate(324.02) scale(0.24)" text-anchor="end" y="3.5">hhhC</text><text transform="translate(168.81 160.86) rotate(325.43) scale(0.24)" text-anchor="end" y="3.5">Vooj5T</text><text transform="translate(161.4 165.97) rotate(325.43) scale(0.24)" text-anchor="end" y="3.5">kb2AD</text><text transform="translate(167.75 159.28) rotate(326.74) scale(0.24)" text-anchor="end" y="3.5">PcCdzx</text><text transform="translate(160.22 164.22) rotate(326.74) scale(0.24)" text-anchor="end" y="3.5">ETvC</text><text transform="translate(166.65 157.57) rotate(328.14) scale(0.24)" text-anchor="end" y="3.5">vP</text><text transform="translate(163.42 159.58) rotate(328.14) scale(0.24)" text-anchor="end" y="3.5">pE52</text><text transform="translate(165.82 156.2) rotate(329.24) scale(0.24)" text-anchor="end" y="3.5">Pl</text><text transform="translate(162.55 158.15) rotate(329.24) scale(0.24)" text-anchor="end" y="3.5">mN5bo</text><text transform="translate(164.98 154.76) rotate(330.39) scale(0.24)" text-anchor="end" y="3.5">H2ccc</text><text transform="translate(164.05 153.08) rotate(331.71) scale(0.24)" text-anchor="end" y="3.5">s2Rc1g</text><text transform="translate(156.13 157.35) rotate(331.71) scale(0.24)" text-anchor="end" y="3.5">Ep</text><text transform="translate(201.54 188.79) rotate(295.5) scale(0.24)" text-anchor="end" y="3.5">huy3</text><text transform="translate(198.78 194.56) rotate(295.5) scale(0.24)" text-anchor="end" y="3.5">-N</text><text transform="translate(199.69 187.88) rotate(296.92) scale(0.24)" text-anchor="end" y="3.5">HV</text><text transform="translate(197.97 191.26) rotate(296.92) scale(0.24)" text-anchor="end" y="3.5">GhN</text><text transform="translate(198.21 187.11) rotate(298.06) scale(0.24)" text-anchor="end" y="3.5">DTts</text><text transform="translate(195.2 192.76) rotate(298.06) scale(0.24)" text-anchor="end" y="3.5">Rt</text><text transform="translate(196.44 186.13) rotate(299.46) scale(0.24)" text-anchor="end" y="3.5">To3AmS</text><text transform="translate(192.01 193.97) rotate(299.46) scale(0.24)" text-anchor="end" y="3.5">Su1LL</text><text transform="translate(194.69 185.12) rotate(300.84) scale(0.24)" text-anchor="end" y="3.5">px</text><text transform="translate(192.75 188.38) rotate(300.84) scale(0.24)" text-anchor="end" y="3.5">VCayk</text><text transform="translate(192.96 184.05) rotate(302.24) scale(0.24)" text-anchor="end" y="3.5">vSv</text><text transform="translate(190.24 188.37) rotate(302.24) scale(0.24)" text-anchor="end" y="3.5">ntdb</text><text transform="translate(191.55 183.14) rotate(303.4) scale(0.24)" text-anchor="end" y="3.5">-y</text><text transform="translate(189.45 186.32) rotate(303.4) scale(0.24)" text-anchor="end" y="3.5">PA</text><text transform="translate(189.87 182.01) rotate(304.79) scale(0.24)" text-anchor="end" y="3.5">gPoj</text><text transform="translate(186.22 187.26) rotate(304.79) scale(0.24)" text-anchor="end" y="3.5">im11</text><text transform="translate(188.22 180.83) rotate(306.19) scale(0.24)" text-anchor="end" y="3.5">gLs22i</text><text transform="translate(182.9 188.09) rotate(306.19) scale(0.24)" text-anchor="end" y="3.5">aD</text><text transform="translate(186.62 179.64) rotate(307.56) scale(0.24)" text-anchor="end" y="3.5">hMCTjD</text><text transform="translate(235.36 196.88) rotate(271.4) scale(0.24)" text-anchor="end" y="3.5">-hAGHt</text><text transform="translate(233.62 196.81) rotate(272.6) scale(0.24)" text-anchor="end" y="3.5">PS-A3</text><text transform="translate(233.27 204.51) rotate(272.6) scale(0.24)" text-anchor="end" y="3.5">AGulR</text><text transform="translate(231.87 196.72) rotate(273.81) scale(0.24)" text-anchor="end" y="3.5">ETA</text><text transform="translate(231.53 201.8) rotate(273.81) scale(0.24)" text-anchor="end" y="3.5">xv</text><text transform="translate(229.78 196.55) rotate(275.25) scale(0.24)" text-anchor="end" y="3.5">pvnEab</text><text transform="translate(228.96 205.51) rotate(275.25) scale(0.24)" text-anchor="end" y="3.5">uRuR1</text><text transform="translate(227.68 196.33) rotate(276.7) scale(0.24)" text-anchor="end" y="3.5">PEAHyc</text><text transform="translate(226.64 205.27) rotate(276.7) scale(0.24)" text-anchor="end" y="3.5">GaeP</text><text transform="translate(225.98 196.11) rotate(277.88) scale(0.24)" text-anchor="end" y="3.5">zNC3S</text><text transform="translate(224.32 195.87) rotate(279.03) scale(0.24)" text-anchor="end" y="3.5">DMC</text><text transform="translate(223.52 200.9) rotate(279.03) scale(0.24)" text-anchor="end" y="3.5">Pfkz</text><text transform="translate(222.59 195.57) rotate(280.24) scale(0.24)" text-anchor="end" y="3.5">uN</text><text transform="translate(221.91 199.31) rotate(280.24) scale(0.24)" text-anchor="end" y="3.5">xND2</text><text transform="translate(220.94 195.26) rotate(281.4) scale(0.24)" text-anchor="end" y="3.5">NnNm</text><text transform="translate(219.67 201.53) rotate(281.4) scale(0.24)" text-anchor="end" y="3.5">2T</text><text transform="translate(219.07 194.86) rotate(282.71) scale(0.24)" text-anchor="end" y="3.5">T22c</text><text transform="translate(217.67 201.1) rotate(282.71) scale(0.24)" text-anchor="end" y="3.5">au</text><text transform="translate(217.17 194.41) rotate(284.06) scale(0.24)" text-anchor="end" y="3.5">auCgVa</text><text transform="translate(214.98 203.14) rotate(284.06) scale(0.24)" text-anchor="end" y="3.5">lMS</text><text transform="translate(215.34 193.93) rotate(285.36) scale(0.24)" text-anchor="end" y="3.5">NjTmD-</text><text transform="translate(212.96 202.6) rotate(285.36) scale(0.24)" text-anchor="end" y="3.5">PNg</text><text transform="translate(213.79 193.48) rotate(286.47) scale(0.24)" text-anchor="end" y="3.5">kP</text><text transform="translate(212.71 197.13) rotate(286.47) scale(0.24)" text-anchor="end" y="3.5">1Ed3a</text><text transform="translate(211.93 192.91) rotate(287.81) scale(0.24)" text-anchor="end" y="3.5">vjpysk</text><text transform="translate(209.18 201.48) rotate(287.81) scale(0.24)" text-anchor="end" y="3.5">Ve</text><text transform="translate(210.24 192.35) rotate(289.03) scale(0.24)" text-anchor="end" y="3.5">1Abdo</text><text transform="translate(208.46 191.71) rotate(290.33) scale(0.24)" text-anchor="end" y="3.5">Gd</text><text transform="translate(207.14 195.27) rotate(290.33) scale(0.24)" text-anchor="end" y="3.5">ock</text><text transform="translate(206.52 190.97) rotate(291.76) scale(0.24)" text-anchor="end" y="3.5">vaH</text><text transform="translate(204.63 195.7) rotate(291.76) scale(0.24)" text-anchor="end" y="3.5">MepA</text><text transform="translate(204.73 190.22) rotate(293.09) scale(0.24)" text-anchor="end" y="3.5">oDuCMb</text></g>
<circle cx="237.4" cy="113.6" r="63.7" fill="#fff8f6"/>
<path d="M237.8 37.9A75.7 75.7 0 0 1 269.27 44.94L264.09 56.09A63.4 63.4 0 0 0 237.73 50.2ZM269.87 45.22A75.7 75.7 0 0 1 278.74 50.18L272.02 60.49A63.4 63.4 0 0 0 264.59 56.33ZM279.51 50.69A75.7 75.7 0 0 1 288.93 58.15L280.56 67.16A63.4 63.4 0 0 0 272.67 60.92ZM289.6 58.78A75.7 75.7 0 0 1 293.92 63.24L284.74 71.42A63.4 63.4 0 0 0 281.12 67.69ZM294.53 63.94A75.7 75.7 0 0 1 300.38 71.6L290.15 78.42A63.4 63.4 0 0 0 285.25 72.01ZM301.03 72.59A75.7 75.7 0 0 1 304.85 79.23L293.89 84.82A63.4 63.4 0 0 0 290.69 79.26ZM305.38 80.3A75.7 75.7 0 0 1 313.02 110.03L300.73 110.61A63.4 63.4 0 0 0 294.33 85.71ZM313.09 112.15A75.7 75.7 0 0 1 306.93 143.54L295.63 138.68A63.4 63.4 0 0 0 300.79 112.38ZM305.84 145.95A75.7 75.7 0 0 1 288.64 169.32L280.31 160.27A63.4 63.4 0 0 0 294.72 140.69ZM286.76 170.99A75.7 75.7 0 0 1 272 180.93L266.38 169.99A63.4 63.4 0 0 0 278.74 161.67ZM269.75 182.04A75.7 75.7 0 0 1 238.19 189.3L238.06 177A63.4 63.4 0 0 0 264.49 170.92ZM204.93 45.22A75.7 75.7 0 0 1 235.95 37.91L236.18 50.21A63.4 63.4 0 0 0 210.21 56.33ZM194.74 51.06A75.7 75.7 0 0 1 203.74 45.79L209.21 56.81A63.4 63.4 0 0 0 201.67 61.23ZM184.81 59.15A75.7 75.7 0 0 1 194.09 51.51L201.13 61.6A63.4 63.4 0 0 0 193.36 67.99ZM179.92 64.34A75.7 75.7 0 0 1 184.34 59.61L192.96 68.38A63.4 63.4 0 0 0 189.26 72.34ZM173.63 72.82A75.7 75.7 0 0 1 179.16 65.25L188.62 73.1A63.4 63.4 0 0 0 183.99 79.44ZM169.19 80.77A75.7 75.7 0 0 1 172.72 74.27L183.23 80.66A63.4 63.4 0 0 0 180.27 86.11ZM161.71 112.68A75.7 75.7 0 0 1 168.3 82.69L179.53 87.71A63.4 63.4 0 0 0 174 112.83ZM168.79 145.59A75.7 75.7 0 0 1 161.71 114.79L174.01 114.6A63.4 63.4 0 0 0 179.94 140.39ZM188.44 171.33A75.7 75.7 0 0 1 169.95 147.97L180.91 142.38A63.4 63.4 0 0 0 196.39 161.95ZM205.41 182.21A75.7 75.7 0 0 1 190.59 173.09L198.19 163.42A63.4 63.4 0 0 0 210.61 171.06ZM236.21 189.29A75.7 75.7 0 0 1 207.21 183.02L212.12 171.74A63.4 63.4 0 0 0 236.4 176.99Z" fill="#e8e8e8"/>
<path d="M241.24 48.21A65.5 65.5 0 0 1 246.86 50.37M257.13 49.05A67.5 67.5 0 0 1 262.51 50.61M240.26 44.16A69.5 69.5 0 0 1 247.67 45.44M246.47 42.68A71.5 71.5 0 0 1 250.3 45.19M255.81 42.44A73.5 73.5 0 0 1 261.64 45.57M241.59 48.23A65.5 65.5 0 0 1 246.74 50.1M238.57 46.11A67.5 67.5 0 0 1 246.66 47.54M241.11 44.2A69.5 69.5 0 0 1 249.46 47.22M243.64 42.37A71.5 71.5 0 0 1 253.08 45.75M247.59 40.81A73.5 73.5 0 0 1 258.07 41.48M240.96 48.2A65.5 65.5 0 0 1 246.94 47.67M245.44 46.58A67.5 67.5 0 0 1 255.15 49.99M257.3 47.01A69.5 69.5 0 0 1 263.66 50.73M247.51 42.82A71.5 71.5 0 0 1 252.38 42.63M243.62 40.36A73.5 73.5 0 0 1 254.35 41.63M245.03 48.55A65.5 65.5 0 0 1 250.19 48.81M242.14 46.27A67.5 67.5 0 0 1 251.34 49.48M248.47 44.99A69.5 69.5 0 0 1 255.57 47.71M254.19 44.1A71.5 71.5 0 0 1 260.8 45.21M250.28 41.24A73.5 73.5 0 0 1 256.23 43.12M266.06 54.7A65.5 65.5 0 0 1 271.04 55.36M268.24 53.56A67.5 67.5 0 0 1 273.1 58.63M270.51 52.49A69.5 69.5 0 0 1 275.25 55.31M269.93 49.93A71.5 71.5 0 0 1 273.16 52.78M270.41 47.93A73.5 73.5 0 0 1 275.19 49.3M275.58 60.38A65.5 65.5 0 0 1 281.78 62.68M279.63 60.94A67.5 67.5 0 0 1 284.49 62.75M276.99 56.48A69.5 69.5 0 0 1 280 61.7M281.55 57.36A71.5 71.5 0 0 1 285.48 61.68M281.09 54.49A73.5 73.5 0 0 1 288.02 58.94M283.3 66.87A65.5 65.5 0 0 1 285.68 70.43M285.69 66.44A67.5 67.5 0 0 1 286.29 69.89M287.88 65.83A69.5 69.5 0 0 1 290 66.57M286.91 62.02A71.5 71.5 0 0 1 288.51 66.05M288.76 61.02A73.5 73.5 0 0 1 291.75 65.01M287.05 70.88A65.5 65.5 0 0 1 291.06 74.84M289.1 70.21A67.5 67.5 0 0 1 293.78 75.85M292.66 71.45A69.5 69.5 0 0 1 294.88 75.12M294.13 70.07A71.5 71.5 0 0 1 294.74 75.21M296.29 69.62A73.5 73.5 0 0 1 297.59 73.31M292.62 78.38A65.5 65.5 0 0 1 296.19 83.52M294.32 77.32A67.5 67.5 0 0 1 295.26 82.78M297.83 79.27A69.5 69.5 0 0 1 301.11 81M299.47 78.11A71.5 71.5 0 0 1 301.92 80.59M300.3 75.57A73.5 73.5 0 0 1 304.29 79.37M298.37 89.66A65.5 65.5 0 0 1 301.86 92.79M301.18 91.5A67.5 67.5 0 0 1 304.7 101.09M304.83 96.78A69.5 69.5 0 0 1 307.15 106.24M305.15 90.74A71.5 71.5 0 0 1 307.31 94.45M306.88 89.62A73.5 73.5 0 0 1 311.11 96.62M297.27 87.03A65.5 65.5 0 0 1 298.06 95.8M302.72 96.6A67.5 67.5 0 0 1 303.25 105.8M303.82 93.13A69.5 69.5 0 0 1 306.85 103.46M305.71 92.5A71.5 71.5 0 0 1 305.01 98.4M306.38 88.23A73.5 73.5 0 0 1 307.04 95.3M298.57 90.17A65.5 65.5 0 0 1 300.98 93.99M302.57 96A67.5 67.5 0 0 1 302.46 101.32M303.64 92.55A69.5 69.5 0 0 1 307.52 98.75M304.46 88.8A71.5 71.5 0 0 1 308.15 93.98M304.7 84.06A73.5 73.5 0 0 1 306.77 91.97M301.28 99.14A65.5 65.5 0 0 1 303.78 106.07M299.42 86.95A67.5 67.5 0 0 1 302.68 94.57M303.3 91.54A69.5 69.5 0 0 1 307.27 100.13M302.65 84.36A71.5 71.5 0 0 1 304.18 90.08M305.23 85.3A73.5 73.5 0 0 1 305.74 89.69M302.85 116.27A65.5 65.5 0 0 1 301.74 124.42M304.89 114.68A67.5 67.5 0 0 1 304.39 120.48M306.62 119.84A69.5 69.5 0 0 1 303.9 124.32M308.89 112.58A71.5 71.5 0 0 1 309.42 123.9M310.9 114.14A73.5 73.5 0 0 1 312.61 123.8M302.17 123.34A65.5 65.5 0 0 1 301.37 127.43M304.49 121.07A67.5 67.5 0 0 1 303.98 125.93M306.89 112.56A69.5 69.5 0 0 1 307 122.96M307.89 125.57A71.5 71.5 0 0 1 306.03 136.22M310.78 117.78A73.5 73.5 0 0 1 308.44 123.25M302.9 112.99A65.5 65.5 0 0 1 304.08 121.92M304.73 118.33A67.5 67.5 0 0 1 304.9 123.25M305.03 129.62A69.5 69.5 0 0 1 300.35 138.89M307.26 128.82A71.5 71.5 0 0 1 305.61 138.8M310.67 119.41A73.5 73.5 0 0 1 311.67 124.89M302.7 118.65A65.5 65.5 0 0 1 302.23 124.61M304.62 119.78A67.5 67.5 0 0 1 301.84 128.77M306.9 113.23A69.5 69.5 0 0 1 307.14 121.05M307.1 129.55A71.5 71.5 0 0 1 306.44 138.89M308.39 132.63A73.5 73.5 0 0 1 306.03 139.91M295.33 144.16A65.5 65.5 0 0 1 292.92 149.12M297.74 143.86A67.5 67.5 0 0 1 292.12 150.17M296.21 150.63A69.5 69.5 0 0 1 288.29 157.86M301.66 144.96A71.5 71.5 0 0 1 296.95 150.31M296.5 157.3A73.5 73.5 0 0 1 295.43 161.44M288.65 154.39A65.5 65.5 0 0 1 282.45 160.63M296.01 147.09A67.5 67.5 0 0 1 291.57 153.99M296.43 150.28A69.5 69.5 0 0 1 292.74 155.13M295.53 155.23A71.5 71.5 0 0 1 290.67 164.27M302.34 148.02A73.5 73.5 0 0 1 299.01 153.15M291.68 150.26A65.5 65.5 0 0 1 287.03 153.97M297.7 143.93A67.5 67.5 0 0 1 294.7 148.91M290.41 158.54A69.5 69.5 0 0 1 285.77 166.02M291.9 159.88A71.5 71.5 0 0 1 286.29 166.59M295.45 158.68A73.5 73.5 0 0 1 293.37 162.59M291.23 150.92A65.5 65.5 0 0 1 288.2 155.51M289.1 156.99A67.5 67.5 0 0 1 284.89 162.6M297.6 148.34A69.5 69.5 0 0 1 295.87 154.62M301.76 144.75A71.5 71.5 0 0 1 300.12 149.75M299.56 152.83A73.5 73.5 0 0 1 297.69 157.03M276.94 165.82A65.5 65.5 0 0 1 270.58 169.59M276.76 168.44A67.5 67.5 0 0 1 270.16 172.03M281.64 167.2A69.5 69.5 0 0 1 278.84 171.8M278.92 171.81A71.5 71.5 0 0 1 276.06 175.89M282.89 171.33A73.5 73.5 0 0 1 279.3 174.18M277.96 165.03A65.5 65.5 0 0 1 272.57 169.18M279.41 166.43A67.5 67.5 0 0 1 272.2 169.17M278.08 169.95A69.5 69.5 0 0 1 270.38 172.38M280.23 170.85A71.5 71.5 0 0 1 276.55 173.07M276.96 175.55A73.5 73.5 0 0 1 271.6 179.87M251.26 177.62A65.5 65.5 0 0 1 247.48 180.8M252.38 179.42A67.5 67.5 0 0 1 248.47 181.86M259.43 179.52A69.5 69.5 0 0 1 255.32 183.13M256.56 182.48A71.5 71.5 0 0 1 246.97 182.62M252.54 185.52A73.5 73.5 0 0 1 248.12 184.98M258.52 175.6A65.5 65.5 0 0 1 255.28 177.1M262.19 176.38A67.5 67.5 0 0 1 257.15 179.23M258.75 179.74A69.5 69.5 0 0 1 249.05 182.73M250.11 183.96A71.5 71.5 0 0 1 242.36 187.02M250.5 185.92A73.5 73.5 0 0 1 245.55 187.88M259.1 175.4A65.5 65.5 0 0 1 250.94 178.61M250.33 179.85A67.5 67.5 0 0 1 245.9 179.92M252.51 181.44A69.5 69.5 0 0 1 242.16 184.05M267 178.69A71.5 71.5 0 0 1 258.68 179.76M257.4 184.33A73.5 73.5 0 0 1 247.32 184.47M248.02 178.23A65.5 65.5 0 0 1 239.96 177.82M262.56 176.23A67.5 67.5 0 0 1 256.71 180.04M255.66 180.66A69.5 69.5 0 0 1 250.83 179.35M265.69 179.27A71.5 71.5 0 0 1 256.09 180.98M257.28 184.36A73.5 73.5 0 0 1 251.54 186.68M216.21 51.62A65.5 65.5 0 0 1 219.95 48.52M218.55 48.79A67.5 67.5 0 0 1 226.51 45.42M226.18 45.01A69.5 69.5 0 0 1 229.97 45.29M209.75 47.66A71.5 71.5 0 0 1 216.26 43.34M222.37 41.65A73.5 73.5 0 0 1 226.67 42.49M224.35 49.41A65.5 65.5 0 0 1 232.4 48.83M217.36 49.14A67.5 67.5 0 0 1 221.45 46.24M215.16 47.75A69.5 69.5 0 0 1 224.72 44.7M208.3 48.29A71.5 71.5 0 0 1 214.53 47.35M224.36 41.27A73.5 73.5 0 0 1 232.83 42.53M212.4 53.06A65.5 65.5 0 0 1 218 51.21M219.29 48.58A67.5 67.5 0 0 1 225.53 47.89M207.81 50.71A69.5 69.5 0 0 1 215.36 48.57M207.23 48.77A71.5 71.5 0 0 1 213.09 43.78M206.88 46.74A73.5 73.5 0 0 1 211.17 44.03M214.25 52.33A65.5 65.5 0 0 1 219.28 50.66M213.34 50.53A67.5 67.5 0 0 1 220.5 48.1M226.34 44.99A69.5 69.5 0 0 1 235.99 46.44M217.88 44.82A71.5 71.5 0 0 1 226.92 40.99M221.82 41.77A73.5 73.5 0 0 1 230.37 39.76M202.45 58.2A65.5 65.5 0 0 1 206.42 54.22M204.17 54.85A67.5 67.5 0 0 1 206.88 52.38M199.99 55.02A69.5 69.5 0 0 1 205.85 50.33M200.09 52.61A71.5 71.5 0 0 1 205.83 50.28M199.29 50.75A73.5 73.5 0 0 1 205.59 49.79M193.74 64.77A65.5 65.5 0 0 1 196.64 59.24M193.2 62.58A67.5 67.5 0 0 1 198.76 59.82M190.5 62.31A69.5 69.5 0 0 1 196.35 59.79M187.86 62.04A71.5 71.5 0 0 1 195.89 55.67M189.06 58.23A73.5 73.5 0 0 1 195.81 54.2M188.16 70.41A65.5 65.5 0 0 1 191.51 68.26M187.01 68.68A67.5 67.5 0 0 1 189.82 65.36M187.22 65.51A69.5 69.5 0 0 1 187.12 62.61M184.79 65.19A71.5 71.5 0 0 1 188.32 63.83M183.31 63.84A73.5 73.5 0 0 1 186.29 61.78M184.71 74.69A65.5 65.5 0 0 1 185.51 70.67M180.81 76.81A67.5 67.5 0 0 1 183.34 69.93M179.8 74.7A69.5 69.5 0 0 1 184.93 71.75M177.77 74.14A71.5 71.5 0 0 1 180.33 68.85M176.29 72.76A73.5 73.5 0 0 1 181.56 68.14M179.61 82.77A65.5 65.5 0 0 1 180.74 79.29M177.01 83.44A67.5 67.5 0 0 1 177.68 77.43M176.08 80.89A69.5 69.5 0 0 1 176.63 76.8M174.93 78.82A71.5 71.5 0 0 1 177.8 77.5M171.63 80.79A73.5 73.5 0 0 1 172.93 74.55M173.15 100.89A65.5 65.5 0 0 1 177.1 91.97M170.28 106.42A67.5 67.5 0 0 1 171.07 97.55M168.48 104.67A69.5 69.5 0 0 1 170.89 96.45M165.93 111.44A71.5 71.5 0 0 1 168.72 104.9M165.24 99.61A73.5 73.5 0 0 1 166.77 93.38M173 101.65A65.5 65.5 0 0 1 174.32 96.64M169.91 112.4A67.5 67.5 0 0 1 170.52 102.32M170.88 93.47A69.5 69.5 0 0 1 171.63 89.44M167.61 98.05A71.5 71.5 0 0 1 171.16 92.67M164.02 109.32A73.5 73.5 0 0 1 163.15 104.23M171.95 111.02A65.5 65.5 0 0 1 173.3 102.13M170.84 102.4A67.5 67.5 0 0 1 172.28 94.83M169.29 99.77A69.5 69.5 0 0 1 172.14 92.29M167.69 97.72A71.5 71.5 0 0 1 168.16 91.92M165.84 96.82A73.5 73.5 0 0 1 169.61 87.78M173.67 98.48A65.5 65.5 0 0 1 176.98 88.93M170.19 107.34A67.5 67.5 0 0 1 169.08 99.75M167.99 110.03A69.5 69.5 0 0 1 168.4 106.35M167.32 99.41A71.5 71.5 0 0 1 170.48 90.44M167.06 92.27A73.5 73.5 0 0 1 167.7 86.51M177.29 139.61A65.5 65.5 0 0 1 177.66 135.61M175.68 140.94A67.5 67.5 0 0 1 172.9 134.41M172.9 139.48A69.5 69.5 0 0 1 170.4 129.34M171.3 140.85A71.5 71.5 0 0 1 168.4 136.47M164.9 125.71A73.5 73.5 0 0 1 166.58 120.43M173.3 127.09A65.5 65.5 0 0 1 170.06 122.38M172.7 132.83A67.5 67.5 0 0 1 171.64 124.88M169.3 127.46A69.5 69.5 0 0 1 169.13 120.47M166.94 125.75A71.5 71.5 0 0 1 165.15 121.37M170.15 143.27A73.5 73.5 0 0 1 167.56 134.86M172.99 125.47A65.5 65.5 0 0 1 172.08 121.72M173.22 134.51A67.5 67.5 0 0 1 168.64 125.14M170.09 130.89A69.5 69.5 0 0 1 170.19 125.53M170.43 138.65A71.5 71.5 0 0 1 169.6 131.65M169.01 140.54A73.5 73.5 0 0 1 165.37 131.49M175.81 135.9A65.5 65.5 0 0 1 174.48 125.76M172.31 131.49A67.5 67.5 0 0 1 169.46 127.34M169.03 126.1A69.5 69.5 0 0 1 167 120.69M167.25 127.41A71.5 71.5 0 0 1 167.19 121.52M167.03 134.82A73.5 73.5 0 0 1 166.37 124.13M186.39 154.68A65.5 65.5 0 0 1 182.21 148.44M186.06 157.42A67.5 67.5 0 0 1 181.5 148.78M180.95 154.14A69.5 69.5 0 0 1 176.32 149.61M179.56 155.63A71.5 71.5 0 0 1 175.16 152.35M176.42 154.63A73.5 73.5 0 0 1 175.28 148.24M193.44 162.16A65.5 65.5 0 0 1 188.4 153.27M182.27 152.55A67.5 67.5 0 0 1 178.74 149.32M190.95 165.3A69.5 69.5 0 0 1 186.79 162.56M189.72 166.88A71.5 71.5 0 0 1 183.7 163.92M179.73 159.17A73.5 73.5 0 0 1 171.69 151.58M194.5 163.09A65.5 65.5 0 0 1 189.78 160.68M184.75 155.84A67.5 67.5 0 0 1 182.44 152.82M189.08 163.55A69.5 69.5 0 0 1 185.95 157.34M190.76 167.8A71.5 71.5 0 0 1 183.6 159.29M177.76 156.56A73.5 73.5 0 0 1 175.15 152.56M193.12 161.86A65.5 65.5 0 0 1 189.83 156.26M184.8 155.9A67.5 67.5 0 0 1 181.07 152.92M185.52 159.85A69.5 69.5 0 0 1 183.24 155.97M184.08 161.24A71.5 71.5 0 0 1 178.25 152.41M186.54 166.66A73.5 73.5 0 0 1 177.49 159.41M202.93 169.29A65.5 65.5 0 0 1 199.49 165.03M206.22 173.47A67.5 67.5 0 0 1 203.89 169.55M202.93 173.95A69.5 69.5 0 0 1 197.2 170.64M203.39 176.5A71.5 71.5 0 0 1 199.59 175.39M199.5 176.57A73.5 73.5 0 0 1 192.7 172.26M203.29 169.52A65.5 65.5 0 0 1 195.83 166.62M202 171.07A67.5 67.5 0 0 1 197.3 166.76M203.8 174.44A69.5 69.5 0 0 1 195.19 168.11M203.17 176.37A71.5 71.5 0 0 1 198.35 171.35M196.1 174.4A73.5 73.5 0 0 1 192.62 172.56M219.87 176.71A65.5 65.5 0 0 1 214.75 175.65M229.28 180.61A67.5 67.5 0 0 1 224.41 178.3M233.98 183.02A69.5 69.5 0 0 1 224.01 183.25M218.6 182.58A71.5 71.5 0 0 1 214.35 182.31M229.61 186.69A73.5 73.5 0 0 1 220.86 185.47M230.61 178.75A65.5 65.5 0 0 1 221.33 174.52M222.56 179.45A67.5 67.5 0 0 1 213.39 176.74M224.99 181.98A69.5 69.5 0 0 1 214.92 177.96M223.92 183.82A71.5 71.5 0 0 1 215.1 180.9M221.91 185.45A73.5 73.5 0 0 1 215.22 183.81M225.34 177.98A65.5 65.5 0 0 1 217.79 175.16M224.68 179.89A67.5 67.5 0 0 1 217.94 176.79M224.61 181.91A69.5 69.5 0 0 1 218.65 182.64M226.93 184.33A71.5 71.5 0 0 1 217.96 182.52M226.57 186.3A73.5 73.5 0 0 1 221.51 183.53M219.85 176.71A65.5 65.5 0 0 1 213.12 174.56M226.53 180.22A67.5 67.5 0 0 1 217.88 176.85M232.91 182.95A69.5 69.5 0 0 1 223.42 181.48M223.7 183.78A71.5 71.5 0 0 1 213.47 183.06M218.86 184.72A73.5 73.5 0 0 1 215.03 182.99" fill="none" stroke="#fff" stroke-width="0.45" opacity="0.8"/>
<path d="M237.97 31.9A81.7 81.7 0 0 1 239.33 31.92L239.19 37.52A76.1 76.1 0 0 0 237.93 37.5ZM263.77 36.27A81.7 81.7 0 0 1 265.17 36.76L263.27 42.03A76.1 76.1 0 0 0 261.96 41.57ZM273.09 40.11A81.7 81.7 0 0 1 273.93 40.52L271.43 45.53A76.1 76.1 0 0 0 270.64 45.14ZM275.24 41.19A81.7 81.7 0 0 1 276.52 41.88L273.84 46.79A76.1 76.1 0 0 0 272.65 46.15ZM272.19 187.52A81.7 81.7 0 0 1 271.1 188.03L268.79 182.93A76.1 76.1 0 0 0 269.8 182.46ZM210.94 36.3A81.7 81.7 0 0 1 211.87 35.99L213.62 41.31A76.1 76.1 0 0 0 212.76 41.6ZM231.54 32.11A81.7 81.7 0 0 1 232.58 32.04L232.91 37.63A76.1 76.1 0 0 0 231.94 37.7ZM235.32 31.93A81.7 81.7 0 0 1 235.69 31.92L235.81 37.52A76.1 76.1 0 0 0 235.47 37.52ZM198.75 41.62A81.7 81.7 0 0 1 199.88 41.02L202.46 46A76.1 76.1 0 0 0 201.4 46.55ZM159.92 139.53A81.7 81.7 0 0 1 159.54 138.35L164.88 136.65A76.1 76.1 0 0 0 165.23 137.75ZM159.2 137.27A81.7 81.7 0 0 1 158.99 136.56L164.37 134.99A76.1 76.1 0 0 0 164.56 135.64ZM226.66 194.59A81.7 81.7 0 0 1 225.22 194.39L226.06 188.85A76.1 76.1 0 0 0 227.4 189.04ZM222.13 193.86A81.7 81.7 0 0 1 220.9 193.62L222.03 188.13A76.1 76.1 0 0 0 223.17 188.36Z" fill="#e03028"/>
<path d="M239.24 31.92A81.7 81.7 0 0 1 239.94 31.94L239.76 37.54A76.1 76.1 0 0 0 239.11 37.52ZM247.87 32.57A81.7 81.7 0 0 1 249.15 32.75L248.34 38.29A76.1 76.1 0 0 0 247.15 38.13ZM266.89 37.41A81.7 81.7 0 0 1 268.17 37.91L266.06 43.1A76.1 76.1 0 0 0 264.87 42.63ZM318.56 122.99A81.7 81.7 0 0 1 318.47 123.75L312.91 123.06A76.1 76.1 0 0 0 313 122.35ZM316.95 132.21A81.7 81.7 0 0 1 316.73 133.15L311.29 131.81A76.1 76.1 0 0 0 311.5 130.93ZM238.83 195.29A81.7 81.7 0 0 1 238.4 195.29L238.33 189.69A76.1 76.1 0 0 0 238.74 189.69ZM163.29 148A81.7 81.7 0 0 1 163.01 147.38L168.11 145.06A76.1 76.1 0 0 0 168.37 145.64ZM161.8 144.58A81.7 81.7 0 0 1 161.42 143.63L166.63 141.57A76.1 76.1 0 0 0 166.98 142.46ZM157.13 128.83A81.7 81.7 0 0 1 157.01 128.16L162.52 127.16A76.1 76.1 0 0 0 162.63 127.78ZM156.1 121.66A81.7 81.7 0 0 1 155.99 120.44L161.57 119.97A76.1 76.1 0 0 0 161.67 121.1ZM216.29 192.53A81.7 81.7 0 0 1 215.15 192.21L216.68 186.82A76.1 76.1 0 0 0 217.74 187.12Z" fill="#f08020"/>
<path d="M239.85 31.94A81.7 81.7 0 0 1 241.09 31.98L240.84 37.58A76.1 76.1 0 0 0 239.69 37.53ZM266.12 37.11A81.7 81.7 0 0 1 266.97 37.44L264.94 42.66A76.1 76.1 0 0 0 264.15 42.36ZM317.52 129.58A81.7 81.7 0 0 1 317.26 130.86L311.78 129.68A76.1 76.1 0 0 0 312.03 128.48ZM257.89 192.69A81.7 81.7 0 0 1 257.18 192.87L255.82 187.44A76.1 76.1 0 0 0 256.49 187.27ZM249.89 194.34A81.7 81.7 0 0 1 248.41 194.55L247.65 189.01A76.1 76.1 0 0 0 249.03 188.81ZM244.89 194.96A81.7 81.7 0 0 1 243.97 195.04L243.52 189.45A76.1 76.1 0 0 0 244.38 189.38ZM211.79 36.02A81.7 81.7 0 0 1 212.91 35.66L214.59 41A76.1 76.1 0 0 0 213.54 41.34ZM220.81 33.6A81.7 81.7 0 0 1 221.91 33.38L222.98 38.88A76.1 76.1 0 0 0 221.94 39.09ZM225.82 32.73A81.7 81.7 0 0 1 227.25 32.53L227.94 38.09A76.1 76.1 0 0 0 226.61 38.27ZM192.47 45.36A81.7 81.7 0 0 1 193.27 44.85L196.29 49.56A76.1 76.1 0 0 0 195.55 50.04ZM159.56 138.43A81.7 81.7 0 0 1 159.18 137.19L164.54 135.57A76.1 76.1 0 0 0 164.9 136.73ZM158.84 136.05A81.7 81.7 0 0 1 158.66 135.39L164.06 133.89A76.1 76.1 0 0 0 164.23 134.51ZM155.72 115.25A81.7 81.7 0 0 1 155.71 115.03L161.31 114.93A76.1 76.1 0 0 0 161.32 115.14ZM208.06 189.85A81.7 81.7 0 0 1 207.29 189.55L209.36 184.34A76.1 76.1 0 0 0 210.07 184.62Z" fill="#cc1f3a"/>
<path d="M241 31.98A81.7 81.7 0 0 1 241.68 32.01L241.39 37.6A76.1 76.1 0 0 0 240.76 37.57ZM249.06 32.74A81.7 81.7 0 0 1 249.65 32.82L248.81 38.36A76.1 76.1 0 0 0 248.26 38.28ZM259.54 34.96A81.7 81.7 0 0 1 260.65 35.28L259.06 40.65A76.1 76.1 0 0 0 258.02 40.35ZM269.34 38.4A81.7 81.7 0 0 1 270.71 39L268.42 44.11A76.1 76.1 0 0 0 267.15 43.56ZM318.71 121.6A81.7 81.7 0 0 1 318.55 123.08L312.99 122.43A76.1 76.1 0 0 0 313.13 121.06ZM318.33 124.77A81.7 81.7 0 0 1 318.23 125.5L312.69 124.69A76.1 76.1 0 0 0 312.79 124ZM318.1 126.32A81.7 81.7 0 0 1 317.96 127.2L312.44 126.27A76.1 76.1 0 0 0 312.57 125.45ZM316.75 133.07A81.7 81.7 0 0 1 316.51 134.01L311.09 132.61A76.1 76.1 0 0 0 311.31 131.73ZM314.7 140.04A81.7 81.7 0 0 1 314.36 141.03L309.08 139.15A76.1 76.1 0 0 0 309.41 138.22ZM259.23 192.33A81.7 81.7 0 0 1 257.81 192.71L256.41 187.29A76.1 76.1 0 0 0 257.74 186.93ZM212.83 35.68A81.7 81.7 0 0 1 213.83 35.37L215.44 40.74A76.1 76.1 0 0 0 214.52 41.02ZM215.61 34.86A81.7 81.7 0 0 1 216.91 34.51L218.32 39.93A76.1 76.1 0 0 0 217.1 40.26ZM221.83 33.4A81.7 81.7 0 0 1 223.11 33.16L224.09 38.67A76.1 76.1 0 0 0 222.9 38.89ZM196.23 43.03A81.7 81.7 0 0 1 197.02 42.58L199.78 47.45A76.1 76.1 0 0 0 199.05 47.87ZM157.4 130.16A81.7 81.7 0 0 1 157.28 129.58L162.77 128.48A76.1 76.1 0 0 0 162.88 129.02ZM231.28 195.07A81.7 81.7 0 0 1 230.3 194.99L230.79 189.41A76.1 76.1 0 0 0 231.7 189.49ZM212.53 191.42A81.7 81.7 0 0 1 211.51 191.09L213.28 185.78A76.1 76.1 0 0 0 214.24 186.09Z" fill="#f26a1b"/>
<path d="M241.6 32.01A81.7 81.7 0 0 1 242.79 32.08L242.42 37.67A76.1 76.1 0 0 0 241.31 37.6ZM243.62 32.14A81.7 81.7 0 0 1 244.46 32.21L243.98 37.78A76.1 76.1 0 0 0 243.2 37.72ZM258.94 34.79A81.7 81.7 0 0 1 259.62 34.98L258.1 40.37A76.1 76.1 0 0 0 257.47 40.19ZM262.67 35.91A81.7 81.7 0 0 1 263.85 36.3L262.04 41.6A76.1 76.1 0 0 0 260.94 41.23ZM280.82 44.39A81.7 81.7 0 0 1 281.9 45.08L278.85 49.78A76.1 76.1 0 0 0 277.84 49.14ZM319.09 112.17A81.7 81.7 0 0 1 319.1 113.25L313.5 113.27A76.1 76.1 0 0 0 313.49 112.27ZM318.85 120.05A81.7 81.7 0 0 1 318.75 121.16L313.17 120.64A76.1 76.1 0 0 0 313.26 119.6ZM317.97 127.12A81.7 81.7 0 0 1 317.85 127.86L312.33 126.88A76.1 76.1 0 0 0 312.45 126.19ZM314.39 140.95A81.7 81.7 0 0 1 313.88 142.33L308.64 140.36A76.1 76.1 0 0 0 309.11 139.08ZM268.12 189.3A81.7 81.7 0 0 1 267.22 189.66L265.17 184.45A76.1 76.1 0 0 0 266.02 184.12ZM264.72 190.6A81.7 81.7 0 0 1 263.62 190.98L261.82 185.67A76.1 76.1 0 0 0 262.84 185.32ZM245.8 194.87A81.7 81.7 0 0 1 244.81 194.96L244.3 189.39A76.1 76.1 0 0 0 245.22 189.3ZM193.19 44.89A81.7 81.7 0 0 1 194.1 44.32L197.07 49.07A76.1 76.1 0 0 0 196.22 49.6ZM195.76 43.31A81.7 81.7 0 0 1 196.3 42.99L199.12 47.83A76.1 76.1 0 0 0 198.62 48.12ZM219.85 193.39A81.7 81.7 0 0 1 218.73 193.14L220.01 187.69A76.1 76.1 0 0 0 221.05 187.92ZM214.17 191.93A81.7 81.7 0 0 1 213 191.57L214.67 186.23A76.1 76.1 0 0 0 215.77 186.56Z" fill="#d42a2a"/>
<path d="M242.71 32.07A81.7 81.7 0 0 1 243.71 32.14L243.28 37.73A76.1 76.1 0 0 0 242.34 37.66ZM271.14 39.19A81.7 81.7 0 0 1 271.67 39.43L269.32 44.52A76.1 76.1 0 0 0 268.83 44.29ZM277.22 42.26A81.7 81.7 0 0 1 277.87 42.63L275.1 47.49A76.1 76.1 0 0 0 274.49 47.15ZM319.08 115.31A81.7 81.7 0 0 1 319.04 116.72L313.44 116.5A76.1 76.1 0 0 0 313.48 115.19ZM319.02 117.32A81.7 81.7 0 0 1 318.94 118.7L313.35 118.35A76.1 76.1 0 0 0 313.42 117.06ZM316.39 134.47A81.7 81.7 0 0 1 316.15 135.36L310.75 133.87A76.1 76.1 0 0 0 310.97 133.04ZM266.44 189.97A81.7 81.7 0 0 1 265.41 190.35L263.49 185.09A76.1 76.1 0 0 0 264.45 184.73ZM247.87 194.63A81.7 81.7 0 0 1 246.68 194.77L246.05 189.21A76.1 76.1 0 0 0 247.16 189.07ZM162.7 146.69A81.7 81.7 0 0 1 162.29 145.74L167.44 143.54A76.1 76.1 0 0 0 167.82 144.42ZM158.68 135.47A81.7 81.7 0 0 1 158.52 134.88L163.93 133.42A76.1 76.1 0 0 0 164.08 133.97ZM158.3 134.06A81.7 81.7 0 0 1 158.11 133.31L163.55 131.96A76.1 76.1 0 0 0 163.73 132.66ZM156.79 126.89A81.7 81.7 0 0 1 156.63 125.9L162.17 125.05A76.1 76.1 0 0 0 162.31 125.98ZM155.94 119.91A81.7 81.7 0 0 1 155.86 118.78L161.45 118.42A76.1 76.1 0 0 0 161.53 119.48ZM234.12 195.23A81.7 81.7 0 0 1 232.71 195.17L233.04 189.57A76.1 76.1 0 0 0 234.35 189.64ZM225.31 194.4A81.7 81.7 0 0 1 223.88 194.17L224.8 188.65A76.1 76.1 0 0 0 226.14 188.86ZM215.24 192.24A81.7 81.7 0 0 1 214.09 191.9L215.69 186.54A76.1 76.1 0 0 0 216.76 186.85ZM213.08 191.6A81.7 81.7 0 0 1 212.45 191.4L214.16 186.07A76.1 76.1 0 0 0 214.75 186.25Z" fill="#8a2010"/>
<path d="M244.38 32.2A81.7 81.7 0 0 1 245.88 32.34L245.3 37.91A76.1 76.1 0 0 0 243.9 37.78ZM318.76 121.08A81.7 81.7 0 0 1 318.7 121.69L313.13 121.14A76.1 76.1 0 0 0 313.18 120.57ZM317.64 129A81.7 81.7 0 0 1 317.51 129.66L312.02 128.56A76.1 76.1 0 0 0 312.14 127.94ZM317.07 131.69A81.7 81.7 0 0 1 316.93 132.29L311.48 131.01A76.1 76.1 0 0 0 311.61 130.45ZM315.39 137.95A81.7 81.7 0 0 1 315.14 138.74L309.81 137.02A76.1 76.1 0 0 0 310.04 136.28ZM313.08 144.38A81.7 81.7 0 0 1 312.6 145.54L307.44 143.35A76.1 76.1 0 0 0 307.89 142.27ZM270.05 188.49A81.7 81.7 0 0 1 269.25 188.83L267.07 183.68A76.1 76.1 0 0 0 267.81 183.36ZM251.06 194.15A81.7 81.7 0 0 1 249.81 194.35L248.96 188.82A76.1 76.1 0 0 0 250.12 188.63ZM240.4 195.24A81.7 81.7 0 0 1 239.76 195.27L239.6 189.67A76.1 76.1 0 0 0 240.2 189.65ZM194.03 44.36A81.7 81.7 0 0 1 195.2 43.64L198.09 48.44A76.1 76.1 0 0 0 197 49.11ZM197.59 42.25A81.7 81.7 0 0 1 198.82 41.58L201.47 46.52A76.1 76.1 0 0 0 200.32 47.15ZM199.81 41.06A81.7 81.7 0 0 1 200.95 40.48L203.44 45.5A76.1 76.1 0 0 0 202.38 46.03ZM157.29 129.66A81.7 81.7 0 0 1 157.12 128.74L162.62 127.7A76.1 76.1 0 0 0 162.79 128.56ZM232.8 195.17A81.7 81.7 0 0 1 231.72 195.1L232.11 189.52A76.1 76.1 0 0 0 233.11 189.58ZM230.39 195A81.7 81.7 0 0 1 229.75 194.94L230.27 189.37A76.1 76.1 0 0 0 230.87 189.42ZM211.59 191.12A81.7 81.7 0 0 1 210.97 190.91L212.78 185.61A76.1 76.1 0 0 0 213.36 185.8ZM208.68 190.08A81.7 81.7 0 0 1 207.98 189.82L209.99 184.59A76.1 76.1 0 0 0 210.65 184.84ZM206.56 189.25A81.7 81.7 0 0 1 205.64 188.87L207.81 183.71A76.1 76.1 0 0 0 208.67 184.07Z" fill="#e84a1c"/>
<path d="M245.79 32.33A81.7 81.7 0 0 1 246.79 32.44L246.14 38A76.1 76.1 0 0 0 245.22 37.9ZM257.13 34.32A81.7 81.7 0 0 1 257.77 34.48L256.38 39.9A76.1 76.1 0 0 0 255.77 39.75ZM276.45 41.83A81.7 81.7 0 0 1 277.29 42.3L274.56 47.19A76.1 76.1 0 0 0 273.77 46.75ZM277.8 42.59A81.7 81.7 0 0 1 278.66 43.08L275.83 47.92A76.1 76.1 0 0 0 275.03 47.45ZM319.1 114.11A81.7 81.7 0 0 1 319.08 115.39L313.48 115.27A76.1 76.1 0 0 0 313.5 114.08ZM318.95 118.61A81.7 81.7 0 0 1 318.9 119.38L313.31 118.99A76.1 76.1 0 0 0 313.36 118.27ZM316.17 135.28A81.7 81.7 0 0 1 315.93 136.14L310.55 134.59A76.1 76.1 0 0 0 310.77 133.79ZM315.57 137.36A81.7 81.7 0 0 1 315.36 138.03L310.02 136.35A76.1 76.1 0 0 0 310.21 135.74ZM269.33 188.8A81.7 81.7 0 0 1 268.04 189.34L265.94 184.15A76.1 76.1 0 0 0 267.14 183.65ZM242.69 195.13A81.7 81.7 0 0 1 241.27 195.21L241.01 189.61A76.1 76.1 0 0 0 242.33 189.54ZM214.84 35.08A81.7 81.7 0 0 1 215.69 34.84L217.18 40.24A76.1 76.1 0 0 0 216.39 40.46ZM224.4 32.94A81.7 81.7 0 0 1 225.23 32.81L226.06 38.35A76.1 76.1 0 0 0 225.29 38.47ZM228.59 32.38A81.7 81.7 0 0 1 229.52 32.28L230.06 37.85A76.1 76.1 0 0 0 229.19 37.94ZM234.12 31.97A81.7 81.7 0 0 1 235.41 31.92L235.55 37.52A76.1 76.1 0 0 0 234.35 37.56ZM163.04 147.46A81.7 81.7 0 0 1 162.67 146.61L167.79 144.35A76.1 76.1 0 0 0 168.14 145.13ZM156.22 122.81A81.7 81.7 0 0 1 156.09 121.57L161.66 121.03A76.1 76.1 0 0 0 161.79 122.18ZM155.99 120.52A81.7 81.7 0 0 1 155.94 119.83L161.52 119.4A76.1 76.1 0 0 0 161.57 120.05Z" fill="#a81820"/>
<path d="M246.7 32.43A81.7 81.7 0 0 1 247.96 32.58L247.23 38.14A76.1 76.1 0 0 0 246.07 37.99ZM253.78 33.56A81.7 81.7 0 0 1 254.41 33.69L253.24 39.17A76.1 76.1 0 0 0 252.66 39.05ZM316.53 133.92A81.7 81.7 0 0 1 316.37 134.56L310.95 133.12A76.1 76.1 0 0 0 311.11 132.53ZM260.87 191.86A81.7 81.7 0 0 1 259.98 192.12L258.43 186.74A76.1 76.1 0 0 0 259.27 186.49ZM255.15 193.35A81.7 81.7 0 0 1 253.8 193.64L252.68 188.15A76.1 76.1 0 0 0 253.93 187.88ZM253.04 193.79A81.7 81.7 0 0 1 252.46 193.9L251.43 188.4A76.1 76.1 0 0 0 251.97 188.29ZM206.76 37.86A81.7 81.7 0 0 1 208.16 37.31L210.17 42.54A76.1 76.1 0 0 0 208.86 43.05ZM219.07 33.98A81.7 81.7 0 0 1 219.78 33.82L220.99 39.29A76.1 76.1 0 0 0 220.32 39.44ZM223.03 33.17A81.7 81.7 0 0 1 224.48 32.93L225.37 38.46A76.1 76.1 0 0 0 224.01 38.69ZM156.49 124.96A81.7 81.7 0 0 1 156.31 123.59L161.87 122.91A76.1 76.1 0 0 0 162.04 124.19ZM229.83 194.95A81.7 81.7 0 0 1 228.36 194.8L228.98 189.23A76.1 76.1 0 0 0 230.35 189.37ZM220.99 193.63A81.7 81.7 0 0 1 219.77 193.37L220.97 187.91A76.1 76.1 0 0 0 222.11 188.15ZM207.37 189.58A81.7 81.7 0 0 1 206.48 189.22L208.6 184.04A76.1 76.1 0 0 0 209.43 184.37Z" fill="#f0a020"/>
<path d="M249.56 32.81A81.7 81.7 0 0 1 250.59 32.97L249.68 38.5A76.1 76.1 0 0 0 248.73 38.35ZM255.09 33.84A81.7 81.7 0 0 1 256.48 34.16L255.18 39.61A76.1 76.1 0 0 0 253.87 39.3ZM318.9 119.3A81.7 81.7 0 0 1 318.84 120.13L313.26 119.68A76.1 76.1 0 0 0 313.31 118.91ZM318.24 125.42A81.7 81.7 0 0 1 318.09 126.41L312.56 125.53A76.1 76.1 0 0 0 312.7 124.61ZM315.74 136.8A81.7 81.7 0 0 1 315.54 137.45L310.19 135.81A76.1 76.1 0 0 0 310.37 135.21ZM315.16 138.66A81.7 81.7 0 0 1 314.89 139.5L309.57 137.73A76.1 76.1 0 0 0 309.83 136.94ZM313.6 143.06A81.7 81.7 0 0 1 313.05 144.46L307.86 142.34A76.1 76.1 0 0 0 308.38 141.04ZM262.29 191.41A81.7 81.7 0 0 1 261.38 191.7L259.73 186.35A76.1 76.1 0 0 0 260.59 186.08ZM252.55 193.88A81.7 81.7 0 0 1 251.88 194.01L250.89 188.5A76.1 76.1 0 0 0 251.51 188.38ZM209.2 36.92A81.7 81.7 0 0 1 210.3 36.53L212.15 41.81A76.1 76.1 0 0 0 211.13 42.18ZM196.94 42.62A81.7 81.7 0 0 1 197.67 42.21L200.39 47.11A76.1 76.1 0 0 0 199.72 47.49ZM156.32 123.68A81.7 81.7 0 0 1 156.21 122.73L161.78 122.1A76.1 76.1 0 0 0 161.88 122.99ZM155.87 118.86A81.7 81.7 0 0 1 155.8 117.63L161.39 117.36A76.1 76.1 0 0 0 161.46 118.5ZM234.62 195.25A81.7 81.7 0 0 1 234.04 195.23L234.27 189.64A76.1 76.1 0 0 0 234.81 189.66ZM227.75 194.73A81.7 81.7 0 0 1 226.58 194.58L227.32 189.03A76.1 76.1 0 0 0 228.42 189.17ZM218.81 193.16A81.7 81.7 0 0 1 217.56 192.86L218.92 187.42A76.1 76.1 0 0 0 220.08 187.7Z" fill="#e8b020"/>
<path d="M250.5 32.96A81.7 81.7 0 0 1 251.65 33.15L250.67 38.67A76.1 76.1 0 0 0 249.6 38.48ZM267.3 189.63A81.7 81.7 0 0 1 266.36 190L264.37 184.76A76.1 76.1 0 0 0 265.25 184.42ZM260.06 192.09A81.7 81.7 0 0 1 259.15 192.35L257.66 186.95A76.1 76.1 0 0 0 258.51 186.71ZM257.26 192.85A81.7 81.7 0 0 1 256.41 193.06L255.11 187.61A76.1 76.1 0 0 0 255.9 187.42ZM246.77 194.76A81.7 81.7 0 0 1 245.71 194.88L245.14 189.31A76.1 76.1 0 0 0 246.12 189.2ZM203.55 39.24A81.7 81.7 0 0 1 204.11 38.99L206.39 44.1A76.1 76.1 0 0 0 205.87 44.34ZM225.14 32.82A81.7 81.7 0 0 1 225.9 32.71L226.69 38.26A76.1 76.1 0 0 0 225.98 38.36ZM227.76 32.47A81.7 81.7 0 0 1 228.67 32.37L229.27 37.94A76.1 76.1 0 0 0 228.42 38.03ZM232.5 32.05A81.7 81.7 0 0 1 233.67 31.99L233.93 37.58A76.1 76.1 0 0 0 232.83 37.64ZM162.32 145.82A81.7 81.7 0 0 1 161.77 144.5L166.95 142.39A76.1 76.1 0 0 0 167.47 143.61ZM158.13 133.4A81.7 81.7 0 0 1 157.81 132.06L163.27 130.79A76.1 76.1 0 0 0 163.57 132.04ZM235.97 195.29A81.7 81.7 0 0 1 234.54 195.25L234.73 189.65A76.1 76.1 0 0 0 236.07 189.69ZM231.81 195.11A81.7 81.7 0 0 1 231.19 195.06L231.62 189.48A76.1 76.1 0 0 0 232.19 189.52Z" fill="#b81828"/>
<path d="M251.56 33.14A81.7 81.7 0 0 1 252.87 33.38L251.81 38.88A76.1 76.1 0 0 0 250.59 38.65ZM253.29 33.46A81.7 81.7 0 0 1 253.86 33.58L252.74 39.06A76.1 76.1 0 0 0 252.2 38.95ZM254.32 33.67A81.7 81.7 0 0 1 255.17 33.86L253.95 39.32A76.1 76.1 0 0 0 253.16 39.15ZM265.09 36.73A81.7 81.7 0 0 1 266.2 37.14L264.23 42.39A76.1 76.1 0 0 0 263.19 42ZM319.04 116.63A81.7 81.7 0 0 1 319.01 117.4L313.42 117.14A76.1 76.1 0 0 0 313.45 116.42ZM315.95 136.05A81.7 81.7 0 0 1 315.71 136.89L310.34 135.29A76.1 76.1 0 0 0 310.57 134.51ZM263.7 190.95A81.7 81.7 0 0 1 262.85 191.23L261.11 185.91A76.1 76.1 0 0 0 261.9 185.65ZM251.96 193.99A81.7 81.7 0 0 1 250.97 194.16L250.04 188.64A76.1 76.1 0 0 0 250.97 188.48ZM248.49 194.54A81.7 81.7 0 0 1 247.79 194.64L247.08 189.08A76.1 76.1 0 0 0 247.73 189ZM204.9 38.64A81.7 81.7 0 0 1 206.25 38.07L208.39 43.25A76.1 76.1 0 0 0 207.13 43.78ZM208.08 37.34A81.7 81.7 0 0 1 209.28 36.89L211.21 42.15A76.1 76.1 0 0 0 210.09 42.57ZM213.75 35.4A81.7 81.7 0 0 1 214.92 35.05L216.46 40.44A76.1 76.1 0 0 0 215.37 40.76ZM227.16 32.54A81.7 81.7 0 0 1 227.84 32.46L228.5 38.02A76.1 76.1 0 0 0 227.87 38.1ZM233.59 31.99A81.7 81.7 0 0 1 234.21 31.96L234.43 37.56A76.1 76.1 0 0 0 233.85 37.58ZM191.48 46.03A81.7 81.7 0 0 1 192.54 45.32L195.62 50A76.1 76.1 0 0 0 194.63 50.66ZM161.45 143.71A81.7 81.7 0 0 1 160.96 142.43L166.2 140.45A76.1 76.1 0 0 0 166.66 141.65ZM211.05 190.93A81.7 81.7 0 0 1 209.87 190.52L211.75 185.25A76.1 76.1 0 0 0 212.86 185.63Z" fill="#f0a0a0"/>
<path d="M252.78 33.36A81.7 81.7 0 0 1 253.37 33.48L252.28 38.97A76.1 76.1 0 0 0 251.73 38.86ZM257.69 34.46A81.7 81.7 0 0 1 259.03 34.81L257.54 40.21A76.1 76.1 0 0 0 256.3 39.88ZM268.09 37.88A81.7 81.7 0 0 1 269.42 38.44L267.22 43.59A76.1 76.1 0 0 0 265.98 43.07ZM270.63 38.96A81.7 81.7 0 0 1 271.22 39.23L268.9 44.32A76.1 76.1 0 0 0 268.35 44.08ZM279.12 43.36A81.7 81.7 0 0 1 280.15 43.98L277.22 48.75A76.1 76.1 0 0 0 276.26 48.17ZM313.91 142.25A81.7 81.7 0 0 1 313.57 143.14L308.35 141.12A76.1 76.1 0 0 0 308.67 140.28ZM256.5 193.04A81.7 81.7 0 0 1 255.06 193.37L253.85 187.9A76.1 76.1 0 0 0 255.19 187.59ZM216.83 34.53A81.7 81.7 0 0 1 218.2 34.19L219.52 39.63A76.1 76.1 0 0 0 218.24 39.95ZM229.44 32.29A81.7 81.7 0 0 1 230.27 32.21L230.76 37.79A76.1 76.1 0 0 0 229.99 37.86ZM160.99 142.51A81.7 81.7 0 0 1 160.62 141.52L165.88 139.61A76.1 76.1 0 0 0 166.22 140.53ZM160.37 140.82A81.7 81.7 0 0 1 159.9 139.45L165.21 137.68A76.1 76.1 0 0 0 165.65 138.96ZM157.59 131.09A81.7 81.7 0 0 1 157.38 130.08L162.86 128.95A76.1 76.1 0 0 0 163.06 129.89ZM155.78 117.21A81.7 81.7 0 0 1 155.75 116.41L161.34 116.21A76.1 76.1 0 0 0 161.37 116.97ZM223.96 194.19A81.7 81.7 0 0 1 222.79 193.98L223.79 188.47A76.1 76.1 0 0 0 224.88 188.66ZM216.86 192.67A81.7 81.7 0 0 1 216.21 192.5L217.66 187.1A76.1 76.1 0 0 0 218.26 187.25Z" fill="#f0e040"/>
<path d="M256.4 34.14A81.7 81.7 0 0 1 257.21 34.34L255.85 39.77A76.1 76.1 0 0 0 255.1 39.59ZM260.57 35.25A81.7 81.7 0 0 1 261.94 35.67L260.26 41.02A76.1 76.1 0 0 0 258.98 40.62ZM272.57 39.86A81.7 81.7 0 0 1 273.17 40.14L270.71 45.18A76.1 76.1 0 0 0 270.16 44.91ZM274.71 40.92A81.7 81.7 0 0 1 275.32 41.23L272.72 46.19A76.1 76.1 0 0 0 272.15 45.9ZM317.86 127.77A81.7 81.7 0 0 1 317.62 129.08L312.12 128.02A76.1 76.1 0 0 0 312.35 126.8ZM265.49 190.32A81.7 81.7 0 0 1 264.64 190.63L262.77 185.35A76.1 76.1 0 0 0 263.57 185.06ZM262.93 191.21A81.7 81.7 0 0 1 262.21 191.44L260.51 186.11A76.1 76.1 0 0 0 261.18 185.89ZM239.85 195.26A81.7 81.7 0 0 1 238.75 195.29L238.66 189.69A76.1 76.1 0 0 0 239.68 189.67ZM202.48 39.74A81.7 81.7 0 0 1 203.63 39.21L205.94 44.31A76.1 76.1 0 0 0 204.88 44.8ZM230.18 32.22A81.7 81.7 0 0 1 231.62 32.1L232.02 37.69A76.1 76.1 0 0 0 230.68 37.8ZM157.83 132.14A81.7 81.7 0 0 1 157.58 131L163.05 129.81A76.1 76.1 0 0 0 163.29 130.87ZM157.02 128.25A81.7 81.7 0 0 1 156.77 126.81L162.3 125.9A76.1 76.1 0 0 0 162.53 127.24ZM209.95 190.55A81.7 81.7 0 0 1 208.6 190.05L210.57 184.81A76.1 76.1 0 0 0 211.83 185.27ZM205.71 188.91A81.7 81.7 0 0 1 204.95 188.58L207.18 183.44A76.1 76.1 0 0 0 207.89 183.74Z" fill="#f9d84c"/>
<path d="M261.86 35.65A81.7 81.7 0 0 1 262.75 35.93L261.01 41.26A76.1 76.1 0 0 0 260.19 40.99ZM280.08 43.93A81.7 81.7 0 0 1 280.89 44.44L277.91 49.18A76.1 76.1 0 0 0 277.15 48.71ZM318.48 123.67A81.7 81.7 0 0 1 318.32 124.85L312.78 124.08A76.1 76.1 0 0 0 312.92 122.98ZM317.27 130.78A81.7 81.7 0 0 1 317.05 131.77L311.59 130.52A76.1 76.1 0 0 0 311.8 129.6ZM314.91 139.42A81.7 81.7 0 0 1 314.68 140.12L309.38 138.3A76.1 76.1 0 0 0 309.6 137.65ZM312.63 145.46A81.7 81.7 0 0 1 312.49 145.79L307.35 143.58A76.1 76.1 0 0 0 307.47 143.28ZM261.46 191.68A81.7 81.7 0 0 1 260.79 191.88L259.19 186.51A76.1 76.1 0 0 0 259.81 186.33ZM244.06 195.03A81.7 81.7 0 0 1 242.61 195.13L242.25 189.55A76.1 76.1 0 0 0 243.6 189.45ZM206.17 38.1A81.7 81.7 0 0 1 206.84 37.83L208.93 43.02A76.1 76.1 0 0 0 208.31 43.28ZM218.12 34.21A81.7 81.7 0 0 1 219.15 33.96L220.4 39.42A76.1 76.1 0 0 0 219.44 39.65ZM219.7 33.84A81.7 81.7 0 0 1 220.89 33.59L222.02 39.07A76.1 76.1 0 0 0 220.91 39.31ZM158.54 134.96A81.7 81.7 0 0 1 158.28 133.98L163.71 132.58A76.1 76.1 0 0 0 163.95 133.5ZM156.64 125.98A81.7 81.7 0 0 1 156.48 124.88L162.03 124.11A76.1 76.1 0 0 0 162.18 125.13ZM155.8 117.72A81.7 81.7 0 0 1 155.78 117.13L161.37 116.89A76.1 76.1 0 0 0 161.4 117.43ZM155.75 116.49A81.7 81.7 0 0 1 155.71 115.16L161.31 115.06A76.1 76.1 0 0 0 161.35 116.29ZM228.45 194.81A81.7 81.7 0 0 1 227.67 194.72L228.34 189.16A76.1 76.1 0 0 0 229.06 189.24Z" fill="#d8203a"/>
<path d="M273.85 40.48A81.7 81.7 0 0 1 274.78 40.96L272.22 45.93A76.1 76.1 0 0 0 271.35 45.49ZM278.58 43.04A81.7 81.7 0 0 1 279.19 43.4L276.33 48.21A76.1 76.1 0 0 0 275.76 47.88ZM319.1 113.16A81.7 81.7 0 0 1 319.1 114.2L313.5 114.16A76.1 76.1 0 0 0 313.5 113.19ZM271.18 187.99A81.7 81.7 0 0 1 269.97 188.53L267.74 183.39A76.1 76.1 0 0 0 268.86 182.89ZM253.88 193.62A81.7 81.7 0 0 1 252.96 193.81L251.89 188.31A76.1 76.1 0 0 0 252.75 188.13ZM241.36 195.2A81.7 81.7 0 0 1 240.32 195.25L240.12 189.65A76.1 76.1 0 0 0 241.09 189.61ZM204.03 39.02A81.7 81.7 0 0 1 204.98 38.61L207.2 43.75A76.1 76.1 0 0 0 206.32 44.14ZM210.22 36.56A81.7 81.7 0 0 1 211.02 36.27L212.83 41.58A76.1 76.1 0 0 0 212.08 41.84ZM195.13 43.69A81.7 81.7 0 0 1 195.84 43.26L198.68 48.08A76.1 76.1 0 0 0 198.03 48.48ZM160.65 141.6A81.7 81.7 0 0 1 160.34 140.74L165.62 138.88A76.1 76.1 0 0 0 165.91 139.68ZM159.02 136.65A81.7 81.7 0 0 1 158.82 135.97L164.21 134.43A76.1 76.1 0 0 0 164.39 135.07ZM222.88 194A81.7 81.7 0 0 1 222.04 193.84L223.09 188.34A76.1 76.1 0 0 0 223.87 188.49ZM217.65 192.88A81.7 81.7 0 0 1 216.77 192.65L218.19 187.23A76.1 76.1 0 0 0 219 187.44Z" fill="#c01030"/>
<path d="M282.97 45.79A81.7 81.7 0 0 1 284.85 47.09L281.6 51.65A76.1 76.1 0 0 0 279.84 50.44ZM285.87 47.83A81.7 81.7 0 0 1 286.76 48.49L283.37 52.96A76.1 76.1 0 0 0 282.55 52.34ZM304.44 160.3A81.7 81.7 0 0 1 303.5 161.62L298.97 158.33A76.1 76.1 0 0 0 299.84 157.1ZM296.75 169.74A81.7 81.7 0 0 1 295.13 171.41L291.17 167.45A76.1 76.1 0 0 0 292.69 165.9ZM171.89 162.42A81.7 81.7 0 0 1 170.49 160.48L175.08 157.27A76.1 76.1 0 0 0 176.38 159.07Z" fill="#067c74"/>
<path d="M284.78 47.04A81.7 81.7 0 0 1 285.94 47.88L282.61 52.39A76.1 76.1 0 0 0 281.53 51.6ZM308.92 153.1A81.7 81.7 0 0 1 307.9 154.89L303.06 152.06A76.1 76.1 0 0 0 304.01 150.39ZM298.18 168.19A81.7 81.7 0 0 1 296.69 169.81L292.63 165.95A76.1 76.1 0 0 0 294.02 164.45ZM293.89 172.62A81.7 81.7 0 0 1 292.81 173.64L289.01 169.53A76.1 76.1 0 0 0 290.02 168.58ZM181.66 53.87A81.7 81.7 0 0 1 183.2 52.47L186.91 56.66A76.1 76.1 0 0 0 185.48 57.96ZM180.91 172.63A81.7 81.7 0 0 1 179.07 170.81L183.07 166.89A76.1 76.1 0 0 0 184.78 168.58ZM175.89 167.37A81.7 81.7 0 0 1 174.36 165.56L178.68 162A76.1 76.1 0 0 0 180.11 163.69ZM169.35 158.81A81.7 81.7 0 0 1 167.93 156.6L172.69 153.65A76.1 76.1 0 0 0 174.02 155.71ZM167.17 155.35A81.7 81.7 0 0 1 165.97 153.26L170.87 150.54A76.1 76.1 0 0 0 171.99 152.49ZM164.76 150.99A81.7 81.7 0 0 1 164.67 150.82L169.65 148.27A76.1 76.1 0 0 0 169.74 148.43Z" fill="#0fb8a8"/>
<path d="M286.69 48.44A81.7 81.7 0 0 1 288.48 49.83L284.98 54.2A76.1 76.1 0 0 0 283.31 52.91ZM290.26 51.3A81.7 81.7 0 0 1 291.25 52.15L287.56 56.37A76.1 76.1 0 0 0 286.64 55.57ZM309.59 151.86A81.7 81.7 0 0 1 308.88 153.18L303.98 150.46A76.1 76.1 0 0 0 304.64 149.24ZM306.7 156.87A81.7 81.7 0 0 1 305.61 158.57L300.94 155.48A76.1 76.1 0 0 0 301.95 153.9ZM181.81 173.48A81.7 81.7 0 0 1 180.85 172.57L184.73 168.52A76.1 76.1 0 0 0 185.62 169.37ZM176.55 168.12A81.7 81.7 0 0 1 175.83 167.31L180.05 163.63A76.1 76.1 0 0 0 180.73 164.39Z" fill="#19d8c6"/>
<path d="M288.41 49.78A81.7 81.7 0 0 1 289.49 50.66L285.92 54.98A76.1 76.1 0 0 0 284.91 54.15ZM291.18 52.1A81.7 81.7 0 0 1 292.16 52.97L288.41 57.13A76.1 76.1 0 0 0 287.5 56.31ZM305.66 158.5A81.7 81.7 0 0 1 304.99 159.49L300.36 156.35A76.1 76.1 0 0 0 300.98 155.42ZM303.55 161.55A81.7 81.7 0 0 1 302.74 162.65L298.26 159.29A76.1 76.1 0 0 0 299.02 158.26ZM300.39 165.63A81.7 81.7 0 0 1 299 167.27L294.78 163.59A76.1 76.1 0 0 0 296.07 162.06ZM295.19 171.35A81.7 81.7 0 0 1 293.83 172.68L289.96 168.63A76.1 76.1 0 0 0 291.23 167.39ZM183.14 52.52A81.7 81.7 0 0 1 184.42 51.41L188.05 55.67A76.1 76.1 0 0 0 186.86 56.71ZM165.33 152.08A81.7 81.7 0 0 1 164.72 150.91L169.7 148.35A76.1 76.1 0 0 0 170.27 149.44Z" fill="#0aa89a"/>
<path d="M289.43 50.61A81.7 81.7 0 0 1 290.32 51.36L286.7 55.63A76.1 76.1 0 0 0 285.86 54.93ZM302.79 162.58A81.7 81.7 0 0 1 301.74 163.96L297.33 160.5A76.1 76.1 0 0 0 298.31 159.23ZM185.72 50.32A81.7 81.7 0 0 1 186.74 49.5L190.22 53.89A76.1 76.1 0 0 0 189.27 54.66ZM188.59 48.08A81.7 81.7 0 0 1 190.33 46.82L193.56 51.4A76.1 76.1 0 0 0 191.93 52.57ZM182.6 174.2A81.7 81.7 0 0 1 181.75 173.42L185.57 169.32A76.1 76.1 0 0 0 186.36 170.04ZM177.57 169.23A81.7 81.7 0 0 1 176.5 168.06L180.67 164.33A76.1 76.1 0 0 0 181.67 165.42Z" fill="#35f5e8"/>
<path d="M292.1 52.91A81.7 81.7 0 0 1 292.91 53.65L289.11 57.76A76.1 76.1 0 0 0 288.35 57.07ZM310.21 150.65A81.7 81.7 0 0 1 309.55 151.93L304.6 149.31A76.1 76.1 0 0 0 305.22 148.11ZM305.04 159.42A81.7 81.7 0 0 1 304.39 160.37L299.8 157.16A76.1 76.1 0 0 0 300.4 156.28ZM301.79 163.89A81.7 81.7 0 0 1 300.33 165.7L296.02 162.13A76.1 76.1 0 0 0 297.38 160.44ZM180.75 54.73A81.7 81.7 0 0 1 181.73 53.81L185.54 57.91A76.1 76.1 0 0 0 184.63 58.77ZM184.36 51.46A81.7 81.7 0 0 1 185.79 50.27L189.33 54.61A76.1 76.1 0 0 0 187.99 55.72ZM186.68 49.55A81.7 81.7 0 0 1 188.66 48.03L192 52.53A76.1 76.1 0 0 0 190.15 53.94ZM179.13 170.87A81.7 81.7 0 0 1 177.51 169.17L181.62 165.36A76.1 76.1 0 0 0 183.13 166.95Z" fill="#4af0e2"/>
<path d="M293.85 54.53A81.7 81.7 0 0 1 294.92 55.58L290.98 59.56A76.1 76.1 0 0 0 289.98 58.58ZM295.55 56.21A81.7 81.7 0 0 1 296.16 56.84L292.14 60.73A76.1 76.1 0 0 0 291.57 60.15ZM297.46 58.22A81.7 81.7 0 0 1 298.28 59.12L294.11 62.85A76.1 76.1 0 0 0 293.35 62.01ZM176.14 59.54A81.7 81.7 0 0 1 176.66 58.96L180.82 62.7A76.1 76.1 0 0 0 180.34 63.25ZM177.87 57.65A81.7 81.7 0 0 1 178.35 57.14L182.4 61.01A76.1 76.1 0 0 0 181.95 61.48Z" fill="#f9c4d4"/>
<path d="M294.86 55.52A81.7 81.7 0 0 1 295.61 56.28L291.62 60.2A76.1 76.1 0 0 0 290.92 59.5Z" fill="#f6a8c2"/>
<path d="M296.1 56.78A81.7 81.7 0 0 1 296.93 57.65L292.85 61.48A76.1 76.1 0 0 0 292.08 60.67ZM177.43 58.12A81.7 81.7 0 0 1 177.92 57.59L182 61.43A76.1 76.1 0 0 0 181.54 61.92Z" fill="#f0d8a0"/>
<path d="M296.87 57.58A81.7 81.7 0 0 1 297.52 58.28L293.4 62.07A76.1 76.1 0 0 0 292.8 61.42ZM298.22 59.05A81.7 81.7 0 0 1 298.31 59.14L294.13 62.88A76.1 76.1 0 0 0 294.06 62.79ZM175.46 60.32A81.7 81.7 0 0 1 176.2 59.48L180.39 63.19A76.1 76.1 0 0 0 179.71 63.98ZM178.29 57.2A81.7 81.7 0 0 1 179.28 56.18L183.26 60.12A76.1 76.1 0 0 0 182.34 61.07Z" fill="#eea0b0"/>
<path d="M299.15 60.11A81.7 81.7 0 0 1 300.01 61.12L295.72 64.72A76.1 76.1 0 0 0 294.92 63.77ZM304.77 67.39A81.7 81.7 0 0 1 305.29 68.15L300.64 71.27A76.1 76.1 0 0 0 300.15 70.55ZM286.9 178.59A81.7 81.7 0 0 1 286.24 179.09L282.9 174.6A76.1 76.1 0 0 0 283.51 174.14ZM284.2 180.57A81.7 81.7 0 0 1 283.39 181.13L280.23 176.5A76.1 76.1 0 0 0 280.99 175.98ZM282.47 181.75A81.7 81.7 0 0 1 281.93 182.1L278.87 177.41A76.1 76.1 0 0 0 279.38 177.07ZM169.25 68.54A81.7 81.7 0 0 1 169.89 67.58L174.52 70.74A76.1 76.1 0 0 0 173.92 71.63ZM170.5 66.7A81.7 81.7 0 0 1 171.33 65.54L175.86 68.84A76.1 76.1 0 0 0 175.09 69.92ZM194.55 183.16A81.7 81.7 0 0 1 193.91 182.76L196.89 178.02A76.1 76.1 0 0 0 197.49 178.39ZM193.22 182.32A81.7 81.7 0 0 1 192.53 181.88L195.61 177.2A76.1 76.1 0 0 0 196.25 177.61Z" fill="#c820d8"/>
<path d="M299.96 61.05A81.7 81.7 0 0 1 300.51 61.72L296.19 65.28A76.1 76.1 0 0 0 295.67 64.65ZM301.66 63.14A81.7 81.7 0 0 1 302.42 64.13L297.96 67.52A76.1 76.1 0 0 0 297.25 66.6ZM287.79 177.91A81.7 81.7 0 0 1 286.84 178.65L283.45 174.19A76.1 76.1 0 0 0 284.34 173.5ZM285.24 179.83A81.7 81.7 0 0 1 284.13 180.62L280.93 176.02A76.1 76.1 0 0 0 281.96 175.29ZM172.54 63.91A81.7 81.7 0 0 1 173.26 62.99L177.66 66.46A76.1 76.1 0 0 0 176.99 67.32ZM197.74 185.03A81.7 81.7 0 0 1 196.65 184.41L199.44 179.56A76.1 76.1 0 0 0 200.45 180.13ZM193.98 182.81A81.7 81.7 0 0 1 193.14 182.28L196.18 177.57A76.1 76.1 0 0 0 196.96 178.07ZM190.87 180.76A81.7 81.7 0 0 1 190.27 180.34L193.5 175.76A76.1 76.1 0 0 0 194.06 176.16Z" fill="#dc3ee6"/>
<path d="M300.46 61.65A81.7 81.7 0 0 1 300.86 62.14L296.51 65.67A76.1 76.1 0 0 0 296.14 65.21ZM302.37 64.06A81.7 81.7 0 0 1 302.92 64.8L298.43 68.14A76.1 76.1 0 0 0 297.91 67.45ZM303.97 66.23A81.7 81.7 0 0 1 304.52 67.02L299.92 70.21A76.1 76.1 0 0 0 299.4 69.48ZM289.06 176.89A81.7 81.7 0 0 1 288.54 177.32L285.03 172.95A76.1 76.1 0 0 0 285.52 172.56ZM278.77 184.05A81.7 81.7 0 0 1 277.62 184.71L274.87 179.84A76.1 76.1 0 0 0 275.93 179.22ZM275.38 185.94A81.7 81.7 0 0 1 274.87 186.2L272.3 181.22A76.1 76.1 0 0 0 272.78 180.98ZM171.62 65.14A81.7 81.7 0 0 1 172.17 64.4L176.64 67.78A76.1 76.1 0 0 0 176.13 68.46ZM189.2 179.57A81.7 81.7 0 0 1 188.16 178.8L191.54 174.33A76.1 76.1 0 0 0 192.5 175.04ZM187.23 178.08A81.7 81.7 0 0 1 186.99 177.89L190.44 173.49A76.1 76.1 0 0 0 190.67 173.66Z" fill="#9a28c0"/>
<path d="M300.81 62.08A81.7 81.7 0 0 1 301.71 63.21L297.3 66.66A76.1 76.1 0 0 0 296.46 65.61ZM288.61 177.26A81.7 81.7 0 0 1 287.72 177.96L284.27 173.55A76.1 76.1 0 0 0 285.1 172.9ZM286.31 179.04A81.7 81.7 0 0 1 285.17 179.88L281.89 175.34A76.1 76.1 0 0 0 282.96 174.55ZM280.99 182.7A81.7 81.7 0 0 1 280.31 183.13L277.37 178.36A76.1 76.1 0 0 0 278 177.96ZM172.12 64.47A81.7 81.7 0 0 1 172.6 63.85L177.04 67.26A76.1 76.1 0 0 0 176.6 67.84ZM173.78 62.34A81.7 81.7 0 0 1 174.45 61.52L178.76 65.09A76.1 76.1 0 0 0 178.14 65.86ZM202.26 187.35A81.7 81.7 0 0 1 201.3 186.89L203.77 181.87A76.1 76.1 0 0 0 204.66 182.3ZM190.34 180.39A81.7 81.7 0 0 1 189.13 179.52L192.44 175A76.1 76.1 0 0 0 193.57 175.81Z" fill="#7020a8"/>
<path d="M302.87 64.73A81.7 81.7 0 0 1 303.33 65.35L298.81 68.65A76.1 76.1 0 0 0 298.38 68.08ZM290.57 175.63A81.7 81.7 0 0 1 289.98 176.13L286.38 171.84A76.1 76.1 0 0 0 286.92 171.38ZM280.38 183.08A81.7 81.7 0 0 1 279.44 183.66L276.55 178.85A76.1 76.1 0 0 0 277.43 178.32ZM173.21 63.06A81.7 81.7 0 0 1 173.83 62.28L178.19 65.8A76.1 76.1 0 0 0 177.61 66.52ZM198.92 185.67A81.7 81.7 0 0 1 197.66 184.98L200.38 180.09A76.1 76.1 0 0 0 201.55 180.73ZM195.61 183.8A81.7 81.7 0 0 1 194.48 183.12L197.42 178.35A76.1 76.1 0 0 0 198.48 178.99ZM192.6 181.92A81.7 81.7 0 0 1 191.46 181.16L194.61 176.53A76.1 76.1 0 0 0 195.67 177.24ZM187.63 178.39A81.7 81.7 0 0 1 187.16 178.03L190.6 173.61A76.1 76.1 0 0 0 191.04 173.95Z" fill="#b818cc"/>
<path d="M303.28 65.28A81.7 81.7 0 0 1 304.01 66.3L299.45 69.54A76.1 76.1 0 0 0 298.76 68.59ZM283.46 181.08A81.7 81.7 0 0 1 282.4 181.79L279.31 177.12A76.1 76.1 0 0 0 280.3 176.46ZM171.28 65.61A81.7 81.7 0 0 1 171.67 65.07L176.18 68.4A76.1 76.1 0 0 0 175.81 68.9ZM200.11 186.29A81.7 81.7 0 0 1 198.84 185.63L201.48 180.69A76.1 76.1 0 0 0 202.67 181.31ZM191.53 181.21A81.7 81.7 0 0 1 190.8 180.71L194 176.11A76.1 76.1 0 0 0 194.68 176.58Z" fill="#8a12b4"/>
<path d="M304.47 66.95A81.7 81.7 0 0 1 304.82 67.46L300.2 70.62A76.1 76.1 0 0 0 299.87 70.15ZM282 182.05A81.7 81.7 0 0 1 280.92 182.74L277.94 178.01A76.1 76.1 0 0 0 278.94 177.36ZM276.59 185.29A81.7 81.7 0 0 1 275.3 185.98L272.7 181.01A76.1 76.1 0 0 0 273.91 180.37ZM169.84 67.66A81.7 81.7 0 0 1 170.55 66.63L175.13 69.85A76.1 76.1 0 0 0 174.47 70.8ZM202.74 187.58A81.7 81.7 0 0 1 202.18 187.32L204.59 182.26A76.1 76.1 0 0 0 205.12 182.51ZM201.37 186.93A81.7 81.7 0 0 1 200.04 186.26L202.6 181.27A76.1 76.1 0 0 0 203.84 181.9ZM188.23 178.85A81.7 81.7 0 0 1 187.56 178.34L190.98 173.9A76.1 76.1 0 0 0 191.6 174.37Z" fill="#6a38c0"/>
<path d="M306.15 69.46A81.7 81.7 0 0 1 306.56 70.11L301.82 73.09A76.1 76.1 0 0 0 301.44 72.49ZM307.72 72.01A81.7 81.7 0 0 1 308.45 73.27L303.58 76.03A76.1 76.1 0 0 0 302.9 74.86ZM309.05 74.34A81.7 81.7 0 0 1 309.41 75L304.47 77.64A76.1 76.1 0 0 0 304.14 77.03ZM163.84 78.04A81.7 81.7 0 0 1 164.15 77.42L169.17 79.9A76.1 76.1 0 0 0 168.89 80.48ZM165.09 75.57A81.7 81.7 0 0 1 165.61 74.59L170.53 77.27A76.1 76.1 0 0 0 170.05 78.18ZM167.2 71.81A81.7 81.7 0 0 1 167.52 71.28L172.31 74.18A76.1 76.1 0 0 0 172.01 74.67Z" fill="#a2ee3a"/>
<path d="M306.52 70.04A81.7 81.7 0 0 1 307.22 71.17L302.43 74.08A76.1 76.1 0 0 0 301.78 73.03ZM164.45 76.81A81.7 81.7 0 0 1 165.13 75.5L170.08 78.11A76.1 76.1 0 0 0 169.45 79.33ZM166.06 73.78A81.7 81.7 0 0 1 166.74 72.59L171.58 75.4A76.1 76.1 0 0 0 170.95 76.51Z" fill="#52c428"/>
<path d="M307.17 71.1A81.7 81.7 0 0 1 307.77 72.08L302.94 74.93A76.1 76.1 0 0 0 302.39 74.01ZM309.97 76.07A81.7 81.7 0 0 1 310.13 76.38L305.15 78.93A76.1 76.1 0 0 0 305 78.64Z" fill="#86e02c"/>
<path d="M308.41 73.19A81.7 81.7 0 0 1 309.09 74.41L304.17 77.1A76.1 76.1 0 0 0 303.54 75.96ZM309.37 74.92A81.7 81.7 0 0 1 310.01 76.15L305.03 78.71A76.1 76.1 0 0 0 304.43 77.57ZM166.69 72.67A81.7 81.7 0 0 1 167.24 71.73L172.05 74.6A76.1 76.1 0 0 0 171.54 75.47Z" fill="#68d41e"/>
<path d="M310.83 77.79A81.7 81.7 0 0 1 311.16 78.46L306.1 80.87A76.1 76.1 0 0 0 305.8 80.24ZM312.49 81.4A81.7 81.7 0 0 1 313 82.62L307.82 84.75A76.1 76.1 0 0 0 307.34 83.61ZM318.17 101.3A81.7 81.7 0 0 1 318.29 102.15L312.75 102.93A76.1 76.1 0 0 0 312.63 102.14ZM318.92 108.24A81.7 81.7 0 0 1 319 109.61L313.41 109.88A76.1 76.1 0 0 0 313.34 108.61ZM155.71 112.46A81.7 81.7 0 0 1 155.72 111.85L161.32 111.97A76.1 76.1 0 0 0 161.31 112.54ZM156.07 105.8A81.7 81.7 0 0 1 156.21 104.48L161.78 105.11A76.1 76.1 0 0 0 161.65 106.34ZM157.62 95.98A81.7 81.7 0 0 1 157.9 94.75L163.35 96.04A76.1 76.1 0 0 0 163.09 97.19ZM159.56 88.78A81.7 81.7 0 0 1 159.95 87.58L165.26 89.37A76.1 76.1 0 0 0 164.9 90.48Z" fill="#1430d0"/>
<path d="M311.12 78.38A81.7 81.7 0 0 1 311.66 79.53L306.57 81.87A76.1 76.1 0 0 0 306.07 80.8ZM312.97 82.55A81.7 81.7 0 0 1 313.47 83.81L308.26 85.85A76.1 76.1 0 0 0 307.79 84.67ZM315.44 89.41A81.7 81.7 0 0 1 315.79 90.58L310.42 92.16A76.1 76.1 0 0 0 310.09 91.07ZM316.81 94.39A81.7 81.7 0 0 1 317.09 95.6L311.63 96.83A76.1 76.1 0 0 0 311.37 95.71ZM318.43 103.19A81.7 81.7 0 0 1 318.56 104.2L312.99 104.84A76.1 76.1 0 0 0 312.88 103.91Z" fill="#5a8cff"/>
<path d="M311.62 79.46A81.7 81.7 0 0 1 312.05 80.41L306.94 82.68A76.1 76.1 0 0 0 306.54 81.8ZM317.41 97.07A81.7 81.7 0 0 1 317.55 97.78L312.06 98.86A76.1 76.1 0 0 0 311.93 98.2ZM318.04 100.46A81.7 81.7 0 0 1 318.18 101.38L312.64 102.22A76.1 76.1 0 0 0 312.51 101.36ZM318.55 104.12A81.7 81.7 0 0 1 318.66 105.09L313.09 105.68A76.1 76.1 0 0 0 312.99 104.77ZM155.74 111.19A81.7 81.7 0 0 1 155.76 110.54L161.35 110.75A76.1 76.1 0 0 0 161.33 111.35ZM155.89 107.98A81.7 81.7 0 0 1 155.97 107.02L161.55 107.47A76.1 76.1 0 0 0 161.48 108.36ZM156.5 102.18A81.7 81.7 0 0 1 156.65 101.19L162.18 102.04A76.1 76.1 0 0 0 162.05 102.97ZM159.41 89.26A81.7 81.7 0 0 1 159.59 88.69L164.92 90.4A76.1 76.1 0 0 0 164.75 90.93Z" fill="#0818a8"/>
<path d="M312.02 80.33A81.7 81.7 0 0 1 312.52 81.48L307.37 83.68A76.1 76.1 0 0 0 306.9 82.61ZM314.87 87.64A81.7 81.7 0 0 1 315.11 88.4L309.79 90.12A76.1 76.1 0 0 0 309.56 89.42ZM317.07 95.52A81.7 81.7 0 0 1 317.26 96.37L311.79 97.55A76.1 76.1 0 0 0 311.61 96.76ZM156.2 104.57A81.7 81.7 0 0 1 156.3 103.68L161.86 104.36A76.1 76.1 0 0 0 161.77 105.19ZM157.2 98.02A81.7 81.7 0 0 1 157.39 97.08L162.87 98.21A76.1 76.1 0 0 0 162.7 99.08ZM158 94.33A81.7 81.7 0 0 1 158.33 93.06L163.75 94.46A76.1 76.1 0 0 0 163.45 95.65Z" fill="#2fa6ea"/>
<path d="M313.44 83.73A81.7 81.7 0 0 1 313.91 84.95L308.67 86.91A76.1 76.1 0 0 0 308.23 85.78ZM316.3 92.38A81.7 81.7 0 0 1 316.51 93.21L311.09 94.6A76.1 76.1 0 0 0 310.89 93.83ZM317.24 96.29A81.7 81.7 0 0 1 317.43 97.15L311.94 98.28A76.1 76.1 0 0 0 311.77 97.47ZM318.28 102.06A81.7 81.7 0 0 1 318.45 103.28L312.89 103.99A76.1 76.1 0 0 0 312.74 102.85ZM318.84 107.14A81.7 81.7 0 0 1 318.93 108.33L313.34 108.69A76.1 76.1 0 0 0 313.26 107.58ZM157.88 94.83A81.7 81.7 0 0 1 158.02 94.25L163.47 95.58A76.1 76.1 0 0 0 163.33 96.12Z" fill="#0c22c4"/>
<path d="M313.88 84.87A81.7 81.7 0 0 1 314.25 85.87L308.98 87.77A76.1 76.1 0 0 0 308.64 86.84ZM315.09 88.31A81.7 81.7 0 0 1 315.46 89.5L310.11 91.15A76.1 76.1 0 0 0 309.76 90.05ZM316.12 91.75A81.7 81.7 0 0 1 316.32 92.46L310.91 93.91A76.1 76.1 0 0 0 310.73 93.25ZM156.29 103.77A81.7 81.7 0 0 1 156.37 103.12L161.93 103.84A76.1 76.1 0 0 0 161.85 104.44ZM161.95 82.27A81.7 81.7 0 0 1 162.47 81.04L167.6 83.27A76.1 76.1 0 0 0 167.12 84.41Z" fill="#4a60f8"/>
<path d="M314.22 85.78A81.7 81.7 0 0 1 314.45 86.42L309.16 88.28A76.1 76.1 0 0 0 308.95 87.69ZM318.73 105.87A81.7 81.7 0 0 1 318.85 107.22L313.27 107.66A76.1 76.1 0 0 0 313.16 106.4ZM155.75 110.63A81.7 81.7 0 0 1 155.79 109.79L161.38 110.05A76.1 76.1 0 0 0 161.35 110.83ZM157 99.07A81.7 81.7 0 0 1 157.22 97.93L162.71 99.01A76.1 76.1 0 0 0 162.51 100.06ZM157.37 97.16A81.7 81.7 0 0 1 157.64 95.9L163.11 97.11A76.1 76.1 0 0 0 162.86 98.29ZM158.84 91.17A81.7 81.7 0 0 1 159.19 89.97L164.55 91.59A76.1 76.1 0 0 0 164.22 92.71Z" fill="#3f70f6"/>
<path d="M314.42 86.34A81.7 81.7 0 0 1 314.89 87.72L309.58 89.5A76.1 76.1 0 0 0 309.14 88.21ZM317.54 97.69A81.7 81.7 0 0 1 317.81 99.16L312.3 100.15A76.1 76.1 0 0 0 312.04 98.78ZM155.78 109.88A81.7 81.7 0 0 1 155.84 108.75L161.43 109.08A76.1 76.1 0 0 0 161.38 110.13ZM156.36 103.21A81.7 81.7 0 0 1 156.51 102.1L162.06 102.89A76.1 76.1 0 0 0 161.92 103.92ZM159.17 90.05A81.7 81.7 0 0 1 159.43 89.18L164.78 90.85A76.1 76.1 0 0 0 164.53 91.67Z" fill="#2858f0"/>
<path d="M315.77 90.5A81.7 81.7 0 0 1 316.15 91.84L310.75 93.33A76.1 76.1 0 0 0 310.39 92.08ZM318.65 105.01A81.7 81.7 0 0 1 318.74 105.96L313.17 106.48A76.1 76.1 0 0 0 313.08 105.6ZM155.96 107.1A81.7 81.7 0 0 1 156.08 105.72L161.65 106.26A76.1 76.1 0 0 0 161.54 107.55ZM158.3 93.14A81.7 81.7 0 0 1 158.5 92.39L163.91 93.85A76.1 76.1 0 0 0 163.73 94.54ZM160.9 84.92A81.7 81.7 0 0 1 161.21 84.11L166.43 86.13A76.1 76.1 0 0 0 166.14 86.89ZM161.61 83.09A81.7 81.7 0 0 1 161.98 82.19L167.15 84.34A76.1 76.1 0 0 0 166.81 85.18Z" fill="#1f40e2"/>
<path d="M316.49 93.12A81.7 81.7 0 0 1 316.83 94.48L311.39 95.79A76.1 76.1 0 0 0 311.07 94.53ZM317.8 99.08A81.7 81.7 0 0 1 318.05 100.54L312.52 101.44A76.1 76.1 0 0 0 312.29 100.07ZM155.72 111.93A81.7 81.7 0 0 1 155.74 111.1L161.34 111.27A76.1 76.1 0 0 0 161.32 112.05ZM156.84 99.97A81.7 81.7 0 0 1 157.02 98.98L162.53 99.99A76.1 76.1 0 0 0 162.37 100.91ZM159.93 87.66A81.7 81.7 0 0 1 160.19 86.88L165.48 88.71A76.1 76.1 0 0 0 165.24 89.44ZM160.52 85.94A81.7 81.7 0 0 1 160.93 84.84L166.17 86.81A76.1 76.1 0 0 0 165.79 87.84ZM161.18 84.19A81.7 81.7 0 0 1 161.64 83.01L166.84 85.11A76.1 76.1 0 0 0 166.4 86.21ZM162.43 81.12A81.7 81.7 0 0 1 162.76 80.37L167.88 82.65A76.1 76.1 0 0 0 167.57 83.35Z" fill="#7878f2"/>
<path d="M311.2 148.64A81.7 81.7 0 0 1 310.18 150.73L305.19 148.18A76.1 76.1 0 0 0 306.14 146.24ZM307.94 154.82A81.7 81.7 0 0 1 306.66 156.94L301.91 153.97A76.1 76.1 0 0 0 303.1 151.99ZM299.06 167.2A81.7 81.7 0 0 1 298.13 168.26L293.96 164.51A76.1 76.1 0 0 0 294.83 163.53ZM190.26 46.87A81.7 81.7 0 0 1 190.54 46.68L193.75 51.26A76.1 76.1 0 0 0 193.49 51.44ZM184.45 175.82A81.7 81.7 0 0 1 182.54 174.14L186.3 169.99A76.1 76.1 0 0 0 188.08 171.55ZM173.13 164.05A81.7 81.7 0 0 1 171.84 162.35L176.33 159.01A76.1 76.1 0 0 0 177.54 160.59ZM170.54 160.55A81.7 81.7 0 0 1 169.3 158.74L173.97 155.65A76.1 76.1 0 0 0 175.12 157.34ZM167.98 156.68A81.7 81.7 0 0 1 167.13 155.28L171.95 152.42A76.1 76.1 0 0 0 172.74 153.72Z" fill="#089a8e"/>
<path d="M290.05 176.08A81.7 81.7 0 0 1 288.99 176.95L285.46 172.61A76.1 76.1 0 0 0 286.44 171.79ZM279.51 183.61A81.7 81.7 0 0 1 278.69 184.1L275.86 179.26A76.1 76.1 0 0 0 276.62 178.81ZM277.7 184.67A81.7 81.7 0 0 1 276.52 185.33L273.84 180.41A76.1 76.1 0 0 0 274.94 179.8ZM168.65 69.46A81.7 81.7 0 0 1 169.3 68.47L173.96 71.56A76.1 76.1 0 0 0 173.36 72.49ZM196.72 184.45A81.7 81.7 0 0 1 195.54 183.76L198.41 178.95A76.1 76.1 0 0 0 199.51 179.6Z" fill="#e868e0"/>
<path d="M176.6 59.02A81.7 81.7 0 0 1 177.49 58.05L181.59 61.86A76.1 76.1 0 0 0 180.77 62.76ZM179.22 56.25A81.7 81.7 0 0 1 180.03 55.43L183.97 59.41A76.1 76.1 0 0 0 183.2 60.18Z" fill="#f3b8b0"/>
<path d="M164.11 77.5A81.7 81.7 0 0 1 164.49 76.73L169.49 79.26A76.1 76.1 0 0 0 169.13 79.98ZM165.57 74.67A81.7 81.7 0 0 1 166.1 73.7L170.99 76.44A76.1 76.1 0 0 0 170.5 77.34Z" fill="#3cab20"/>
<path d="M155.84 108.84A81.7 81.7 0 0 1 155.9 107.89L161.49 108.28A76.1 76.1 0 0 0 161.43 109.16ZM156.64 101.27A81.7 81.7 0 0 1 156.86 99.89L162.38 100.83A76.1 76.1 0 0 0 162.17 102.12ZM158.48 92.48A81.7 81.7 0 0 1 158.86 91.09L164.25 92.63A76.1 76.1 0 0 0 163.89 93.92ZM160.16 86.96A81.7 81.7 0 0 1 160.55 85.86L165.82 87.76A76.1 76.1 0 0 0 165.46 88.79Z" fill="#38b8f0"/>
<path d="M174.41 165.63A81.7 81.7 0 0 1 173.08 163.98L177.49 160.52A76.1 76.1 0 0 0 178.73 162.06ZM166.01 153.33A81.7 81.7 0 0 1 165.29 152L170.23 149.37A76.1 76.1 0 0 0 170.9 150.61Z" fill="#22e6d6"/>
<path d="M300.69 117.32C274.11 115.76 243.32 76.02 247.26 50.97M300.69 117.3C274.11 115.74 238.72 64.17 239.09 50.22M300.68 117.44C274.1 115.83 241.5 75.78 244.23 50.57M300.74 116.42C274.14 115.24 250.35 77.83 258.99 53.99M300.79 112.77C274.17 113.12 242.3 75.88 245.57 50.73M300.67 117.72C274.09 115.99 240.93 75.72 243.28 50.47M300.74 116.36C274.14 115.2 240.43 75.68 242.44 50.4M300.74 116.37C274.14 115.21 247.1 76.82 253.56 52.29M300.8 113.51C274.17 113.55 240.78 75.71 243.03 50.45M300.64 118.15C274.08 116.24 240.08 64.22 240.84 50.29M300.74 116.32C274.14 115.18 255.5 80.14 267.57 57.84M300.8 113.95C274.17 113.8 256.27 80.57 268.85 58.55M300.79 112.8C274.17 113.13 254.17 79.46 265.35 56.69M300.8 113.43C274.17 113.5 262.53 85.04 279.28 66M300.79 114.73C274.17 114.25 262.99 85.46 280.06 66.7M300.8 113.48C274.17 113.53 261.97 84.56 278.36 65.21M300.8 114.11C274.17 113.89 262.26 84.8 278.83 65.6M300.77 115.61C274.15 114.76 264.52 86.92 282.59 69.13M300.8 114.09C274.17 113.88 264.04 86.44 281.79 68.34M300.8 114.29C266.82 113.92 262.42 95.84 289.1 76.9M300.71 116.94C264.81 115.05 259.98 95.86 287.26 74.44M300.8 113.79C269.01 113.69 265.75 130.24 292.07 145.7M300.79 114.84C269.4 114.23 266.13 130.39 292.13 145.6M300.74 116.26C268.67 114.91 264.57 131.55 290.3 148.55M300.68 117.52C268.21 115.51 263.48 132.37 288.86 150.64M300.74 116.39C271.29 115.09 268.84 129.4 294.05 142.07M300.8 114.01C264.07 113.77 257.64 132.86 283.33 157.31M300.78 115.14C271.05 114.42 268.73 129.04 294.27 141.62M300.78 115.26C270.39 114.46 267.63 129.73 293.33 143.45M300.8 113.23C264.83 113.44 259.09 132.39 285.32 155.11M300.78 115.37C270.41 114.52 267.64 129.77 293.31 143.49M300.8 113.99C269.49 113.8 266.48 129.94 292.67 144.66M300.8 113.37C274.17 113.47 259.07 144.87 273.51 165.71M300.79 114.71C274.17 114.25 261.61 142.94 277.75 162.5M300.65 117.89C274.09 116.09 258.86 145.01 273.17 165.94M300.8 113.11C274.17 113.32 258.25 145.41 272.16 166.62M300.72 116.83C274.12 115.47 260.57 143.77 276.02 163.88M300.68 117.53C274.1 115.88 258.2 145.45 272.06 166.69M300.68 117.46C274.1 115.84 238.66 151.62 239.5 176.97M300.65 117.93C274.09 116.11 251.87 148.78 261.52 172.23M300.8 114.04C274.17 113.86 245.57 150.75 251.02 175.52M300.68 117.5C274.1 115.86 250.97 149.14 260.02 172.83M300.8 113.17C274.17 113.35 250.35 149.37 258.98 173.21M300.66 117.82C274.09 116.05 249.55 149.65 257.66 173.68M300.72 116.76C274.13 115.43 246.56 150.52 252.67 175.13M300.78 115.22C274.16 114.54 252.39 148.56 262.39 171.87M300.8 113.85C274.17 113.75 248.76 149.9 256.33 174.11M300.79 114.71C274.17 114.25 243.41 151.16 247.42 176.2M300.64 118.16C274.08 116.24 234.86 151.55 233.16 176.86M300.8 113.71C274.17 113.66 227.29 162.01 224.44 175.66M300.74 116.33C274.14 115.18 236.44 151.63 235.81 176.98M300.8 112.85C274.17 113.17 226.68 161.88 223.65 175.49M300.72 116.81C274.12 115.46 227.5 162.05 224.71 175.72M300.8 114.01C274.17 113.84 226.26 161.78 223.12 175.37M300.75 116.06C274.14 115.03 226.97 161.94 224.03 175.57M300.8 113.52C274.17 113.55 224.16 161.25 220.43 174.69M300.65 117.94C274.09 116.12 221.4 160.39 216.88 173.59M300.68 117.46C274.1 115.84 209.33 154.32 201.42 165.8M300.67 117.71C274.09 115.98 212.7 156.44 205.74 168.53M300.8 113.97C274.17 113.81 214.45 157.4 207.97 169.76M300.67 117.7C274.1 115.98 210.6 155.16 203.04 166.88M300.8 113.92C274.17 113.78 215.4 157.89 209.19 170.38M300.78 115.14C274.16 114.5 204.7 150.7 195.48 161.16M300.8 113.77C274.17 113.7 203.23 149.35 193.59 159.43M300.76 115.94C274.15 114.96 195.86 140.42 184.14 147.99M300.79 114.94C274.16 114.38 194 137.3 181.76 143.99M300.79 112.78C274.17 113.13 196.59 141.53 185.08 149.41M300.8 114C274.17 113.83 193.92 137.15 181.65 143.79M300.77 115.55C274.15 114.73 198.89 144.63 188.03 153.38M300.77 115.44C274.16 114.67 193.92 137.15 181.65 143.8M300.75 116.15C274.14 115.08 193.53 136.42 181.15 142.86M300.69 117.33C274.11 115.76 188.21 108.49 174.34 107.05M300.63 118.24C274.07 116.29 188.18 108.77 174.3 107.41M300.8 113.97C274.17 113.81 188.93 103.82 175.25 101.06M300.79 114.5C274.17 114.12 191.85 94.34 179 88.91M300.79 114.61C274.17 114.19 188.74 104.78 175.02 102.29M300.8 112.84C274.17 113.16 189.92 99.77 176.53 95.86M300.8 113.61C274.17 113.61 188.63 105.42 174.87 103.11M300.79 112.72C274.17 113.09 194.63 88.77 182.57 81.77M300.8 114.14C274.17 113.91 194.16 89.6 181.97 82.83M300.76 115.82C274.15 114.89 197.32 84.64 186.01 76.47M300.8 113.48C274.17 113.53 198.18 83.48 187.12 74.98M300.8 113.38C274.17 113.47 200.61 80.55 190.24 71.23M300.8 113.54C274.17 113.57 202.45 78.61 192.59 68.75M300.77 115.6C274.15 114.76 203.97 77.16 194.54 66.88M300.67 117.62C274.1 115.93 206.44 75.04 197.71 64.16M300.8 114.01C274.17 113.84 203.54 77.56 193.99 67.4M300.76 115.95C274.15 114.97 210.63 72.02 203.08 60.29M300.79 114.98C274.16 114.4 212.15 71.08 205.03 59.08M300.74 116.37C274.14 115.21 233.91 64.27 232.93 50.36M300.65 118.01C274.08 116.16 233.34 64.32 232.19 50.41M300.65 117.92C274.09 116.11 221.52 66.77 217.05 53.56M300.8 113C274.17 113.25 224.24 65.93 220.52 52.49M300.8 113.29C274.17 113.42 234.45 64.24 233.62 50.31M300.8 114.32C274.17 114.02 216.75 68.67 210.92 55.99M300.64 118.06C274.08 116.19 221.91 66.64 217.54 53.39M300.78 115.04C274.16 114.43 233.55 64.3 232.46 50.39M300.69 117.41C274.11 115.81 226.65 65.33 223.62 51.72" fill="none" stroke="#f0a099" stroke-width="0.4" opacity="0.42"/>
<path d="M300.74 116.33C274.14 115.18 190.76 97.17 177.6 92.54M300.8 113.36C274.17 113.46 189.16 102.73 175.55 99.67M300.74 116.36C274.14 115.2 188.27 107.95 174.41 106.36M300.7 117.14C274.11 115.66 189.49 101.33 175.98 97.87M300.64 118.04C274.08 116.17 191.39 95.48 178.41 90.37M300.8 113.14C274.17 113.33 211.1 155.48 203.68 167.29M300.76 115.87C274.15 114.92 195.37 139.65 183.51 147M300.73 116.54C274.13 115.31 211.4 155.67 204.07 167.53M300.8 114.02C274.17 113.85 209.42 154.37 201.53 165.88M300.77 115.61C274.15 114.77 206.58 152.27 197.89 163.18M300.8 113.12C274.17 113.32 257.43 81.26 270.78 59.7M300.75 116.17C274.14 115.09 258.89 82.21 273.21 61.28M300.74 116.43C274.14 115.24 252.47 78.67 262.52 55.39M300.79 112.77C274.17 113.12 260.18 83.13 275.36 62.82M300.74 116.46C274.13 115.26 258.91 144.98 273.25 165.89M300.74 116.3C274.14 115.16 250.95 149.14 259.99 172.84M300.65 118.01C267.33 115.69 261.89 133.05 287.05 153.03M300.8 114C274.17 113.83 248.16 150.09 255.33 174.41M300.65 118.01C274.08 116.16 224.64 65.82 221.04 52.35M300.79 114.98C274.16 114.4 220.77 67.03 216.08 53.89" fill="none" stroke="#dc6b65" stroke-width="0.4" stroke-dasharray="1.4 1.2" opacity="0.6"/>
<path d="M300.73 116.56C274.13 115.32 207.23 74.42 198.72 63.37" fill="none" stroke="#b3272b" stroke-width="0.45"/>
<path d="M300.8 113.99C274.17 113.82 198.97 82.48 188.13 73.7" fill="none" stroke="#b3272b" stroke-width="0.52"/>
<path d="M300.73 116.65C274.13 115.37 198.01 83.7 186.9 75.27" fill="none" stroke="#b3272b" stroke-width="0.7"/>
<path d="M300.8 112.82C274.17 113.15 196.89 85.24 185.47 77.24" fill="none" stroke="#b3272b" stroke-width="0.48"/>
<path d="M300.66 117.88C274.09 116.08 195.55 87.25 183.75 79.82" fill="none" stroke="#b3272b" stroke-width="0.69"/>
<path d="M300.8 113.54C274.17 113.56 194.57 88.87 182.49 81.9" fill="none" stroke="#b3272b" stroke-width="0.53"/>
<path d="M300.77 115.6C274.15 114.76 193.58 90.69 181.21 84.23" fill="none" stroke="#b3272b" stroke-width="0.53"/>
<path d="M300.78 115.02C274.16 114.43 192.73 92.39 180.13 86.41" fill="none" stroke="#b3272b" stroke-width="0.57"/>
<path d="M300.8 114.15C274.17 113.92 191.81 94.44 178.95 89.03" fill="none" stroke="#b3272b" stroke-width="0.46"/>
<path d="M300.8 113.18C274.17 113.36 190.99 96.52 177.9 91.71" fill="none" stroke="#b3272b" stroke-width="0.49"/>
<path d="M300.64 118.03C263.9 115.46 258.87 95.9 286.32 73.27" fill="none" stroke="#a30d12" stroke-width="0.92"/>
<path d="M300.8 114C266.11 113.78 261.18 95.35 287.7 75" fill="none" stroke="#a30d12" stroke-width="0.86"/>
<path d="M300.79 114.7C268.03 114.13 264.51 96.79 291.28 80.19" fill="none" stroke="#a30d12" stroke-width="0.83"/>
<path d="M300.71 116.96C267.83 115.21 264.83 97.64 292.2 81.71" fill="none" stroke="#a30d12" stroke-width="0.64"/>
<path d="M300.8 113.95C269.67 113.78 266.95 97.75 293.27 83.64" fill="none" stroke="#a30d12" stroke-width="0.68"/>
<path d="M300.8 114.19C270.8 113.91 268.82 98.95 294.86 86.81" fill="none" stroke="#a30d12" stroke-width="0.61"/>
<path d="M300.8 113.47C271.5 113.53 269.76 99.33 295.41 88.02" fill="none" stroke="#a30d12" stroke-width="0.74"/>
<path d="M300.78 115.04C271.64 114.38 270.33 100.3 296.18 89.85" fill="none" stroke="#a30d12" stroke-width="0.63"/>
<path d="M300.76 115.94C271.89 114.87 270.91 101.07 296.79 91.4" fill="none" stroke="#a30d12" stroke-width="0.93"/>
<path d="M300.76 115.91C272.47 114.88 271.78 101.76 297.35 92.96" fill="none" stroke="#a30d12" stroke-width="0.72"/>
<path d="M300.73 116.61C272.97 115.29 272.67 102.82 298.03 95.06" fill="none" stroke="#a30d12" stroke-width="0.75"/>
<path d="M300.8 113.69C274.78 113.65 274.73 103.6 298.64 97.19" fill="none" stroke="#a30d12" stroke-width="0.77"/>
<path d="M300.8 112.81C276.02 113.12 276.35 104.96 299.3 99.88" fill="none" stroke="#a30d12" stroke-width="0.84"/>
<path d="M300.8 113.61C276.71 113.6 277.36 106.55 299.84 102.59" fill="none" stroke="#a30d12" stroke-width="0.73"/>
<path d="M300.64 118.04C275.85 116.3 276.82 108.06 300.18 104.78" fill="none" stroke="#a30d12" stroke-width="0.87"/>
<path d="M300.69 117.34C277.07 115.94 278.21 109.67 300.51 107.52" fill="none" stroke="#a30d12" stroke-width="0.82"/>
<path d="M300.75 116.22C278.17 115.29 279.38 110.89 300.67 109.51" fill="none" stroke="#a30d12" stroke-width="0.85"/>
<path d="M300.64 118.14C279.61 116.63 280.73 118.31 300.43 120.45" fill="none" stroke="#a30d12" stroke-width="1.2"/>
<path d="M300.76 115.85C278.63 115.06 279.62 118.71 300.34 121.22" fill="none" stroke="#a30d12" stroke-width="1.2"/>
<path d="M300.68 117.55C278.9 116.19 279.87 119.27 300.24 121.99" fill="none" stroke="#a30d12" stroke-width="1.2"/>
<path d="M300.75 116.16C278.2 115.25 279.06 119.68 300.14 122.75" fill="none" stroke="#a30d12" stroke-width="1.2"/>
<path d="M300.75 116.02C277.89 115.15 278.68 120.14 300.02 123.52" fill="none" stroke="#a30d12" stroke-width="1.2"/>
<path d="M300.67 117.71C278.15 116.25 278.9 120.69 299.89 124.28" fill="none" stroke="#a30d12" stroke-width="1.2"/>
<path d="M300.71 117.05C277.38 115.78 277.92 121.62 299.59 125.91" fill="none" stroke="#a30d12" stroke-width="1.2"/>
<path d="M300.66 117.8C277.34 116.25 277.81 122.12 299.44 126.67" fill="none" stroke="#a30d12" stroke-width="1.2"/>
<path d="M300.66 117.87C277.1 116.28 277.47 122.56 299.27 127.43" fill="none" stroke="#a30d12" stroke-width="1.2"/>
<path d="M300.71 117.02C276.57 115.71 276.81 122.92 299.1 128.19" fill="none" stroke="#a30d12" stroke-width="1.2"/>
<path d="M300.76 115.85C275.94 114.97 276.05 123.24 298.92 128.94" fill="none" stroke="#a30d12" stroke-width="1.2"/>
<path d="M300.78 115.3C275.49 114.62 275.49 123.59 298.72 129.69" fill="none" stroke="#a30d12" stroke-width="1.2"/>
<path d="M300.72 116.86C275.19 115.54 274.84 124.9 298.09 131.92" fill="none" stroke="#a30d12" stroke-width="1.2"/>
<path d="M300.68 117.43C275.1 115.88 274.63 125.34 297.87 132.66" fill="none" stroke="#a30d12" stroke-width="1.2"/>
<path d="M300.75 116.07C274.41 115.04 273.79 125.56 297.63 133.4" fill="none" stroke="#a30d12" stroke-width="1.2"/>
<path d="M300.77 115.47C273.95 114.68 273.19 125.85 297.38 134.14" fill="none" stroke="#a30d12" stroke-width="1.2"/>
<path d="M300.78 115.27C273.24 114.55 272.15 126.66 296.75 135.91" fill="none" stroke="#a30d12" stroke-width="1.2"/>
<path d="M300.76 115.78C273.14 114.83 271.9 127.05 296.47 136.63" fill="none" stroke="#a30d12" stroke-width="1.2"/>
<path d="M300.8 113.16Q237.4 113.8 174.01 114.71" fill="none" stroke="#a30d12" stroke-width="0.95"/>
<path d="M300.8 113.27Q237.41 114 174.02 115.26" fill="none" stroke="#a30d12" stroke-width="0.95"/>
<path d="M300.8 113.38Q237.42 114.2 174.04 115.81" fill="none" stroke="#a30d12" stroke-width="0.95"/>
<path d="M300.8 113.49Q237.43 114.4 174.06 116.37" fill="none" stroke="#a30d12" stroke-width="0.95"/>
<path d="M300.8 113.6Q237.44 114.6 174.09 116.92" fill="none" stroke="#a30d12" stroke-width="0.95"/>
<path d="M300.8 113.71Q237.46 114.79 174.12 117.47" fill="none" stroke="#a30d12" stroke-width="0.95"/>
<path d="M300.8 113.82Q237.48 114.99 174.15 118.02" fill="none" stroke="#a30d12" stroke-width="0.95"/>
<path d="M300.8 113.93Q237.5 115.19 174.2 118.57" fill="none" stroke="#a30d12" stroke-width="0.95"/>
<path d="M300.8 114.04Q237.52 115.39 174.24 119.13" fill="none" stroke="#a30d12" stroke-width="0.95"/>
<path d="M300.8 114.15Q237.54 115.59 174.29 119.68" fill="none" stroke="#a30d12" stroke-width="0.95"/>
<path d="M300.8 114.26Q237.57 115.79 174.35 120.23" fill="none" stroke="#a30d12" stroke-width="0.95"/>
<path d="M300.8 114.37Q237.6 115.99 174.41 120.78" fill="none" stroke="#a30d12" stroke-width="0.95"/>
<path d="M300.79 114.49Q237.63 116.18 174.47 121.33" fill="none" stroke="#a30d12" stroke-width="0.95"/>
<path d="M300.79 114.6Q237.67 116.38 174.54 121.88" fill="none" stroke="#a30d12" stroke-width="0.95"/>
<path d="M300.79 114.71Q237.7 116.58 174.62 122.42" fill="none" stroke="#a30d12" stroke-width="0.95"/>
<path d="M300.79 114.82Q237.74 116.78 174.7 122.97" fill="none" stroke="#a30d12" stroke-width="0.95"/>
<path d="M300.79 114.93Q237.78 116.97 174.78 123.52" fill="none" stroke="#a30d12" stroke-width="0.95"/>
<path d="M300.78 115.24Q237.91 117.52 175.04 125.04" fill="none" stroke="#a30d12" stroke-width="0.8"/>
<path d="M300.78 115.37Q237.97 117.76 175.16 125.7" fill="none" stroke="#a30d12" stroke-width="0.8"/>
<path d="M300.77 115.5Q238.03 118 175.29 126.35" fill="none" stroke="#a30d12" stroke-width="0.8"/>
<path d="M300.77 115.64Q238.1 118.23 175.43 127" fill="none" stroke="#a30d12" stroke-width="0.8"/>
<path d="M300.75 116.06Q238.33 118.97 175.91 129.05" fill="none" stroke="#a30d12" stroke-width="0.75"/>
<path d="M300.75 116.16Q238.39 119.14 176.03 129.53" fill="none" stroke="#a30d12" stroke-width="0.75"/>
<path d="M300.74 116.25Q238.45 119.32 176.16 130.01" fill="none" stroke="#a30d12" stroke-width="0.75"/>
<path d="M300.73 116.48Q238.6 119.71 176.46 131.08" fill="none" stroke="#a30d12" stroke-width="0.7"/>
<path d="M300.73 116.6Q238.68 119.92 176.63 131.66" fill="none" stroke="#a30d12" stroke-width="0.7"/>
<path d="M300.71 117.01Q238.97 120.63 177.24 133.61" fill="none" stroke="#a30d12" stroke-width="0.65"/>
<path d="M300.7 117.14Q239.08 120.85 177.45 134.24" fill="none" stroke="#a30d12" stroke-width="0.65"/>
<path d="M300.69 117.36Q239.26 121.23 177.82 135.28" fill="none" stroke="#a30d12" stroke-width="0.55"/>
<path d="M300.68 117.47Q239.35 121.42 178.01 135.8" fill="none" stroke="#a30d12" stroke-width="0.55"/>
<path d="M300.67 117.71Q239.56 121.84 178.45 136.94" fill="none" stroke="#a30d12" stroke-width="0.5"/>
<path d="M300.66 117.8Q239.64 121.99 178.62 137.35" fill="none" stroke="#a30d12" stroke-width="0.5"/>
<path d="M300.65 118.02Q239.84 122.36 179.04 138.37" fill="none" stroke="#a30d12" stroke-width="0.45"/>
<path d="M300.99 112.38A63.6 63.6 0 0 1 300.8 118.59L293.63 118.03A56.4 56.4 0 0 0 293.79 112.52Z" fill="#a30d12"/>
<line x1="238.1" y1="22.3" x2="238.1" y2="222.4" stroke="#1a1a1a" stroke-width="1.35" stroke-dasharray="6.2 3.35"/>
<path d="M124.8 50.2L166.4 17.6L209.6 17.6M124.8 63L168 28.2L185.6 28.2M124.8 76.1L168 36.8L174.4 36.8M124.8 87L163.2 46.4M124.8 99.2L156.8 57M124.8 110.4L150.4 67.2M124.8 123.2L140.8 94.4M124.8 137L139.8 136.3M124.8 149.7L158.4 174.4M124.8 162.2L182.4 194.2M124.8 174.4L195.2 209.6L215.6 209.8" fill="none" stroke="#1a1a1a" stroke-width="1.35" stroke-linejoin="miter"/>
<text x="120.8" y="52.4" font-size="9.7" fill="#1a1a1a" stroke="#1a1a1a" stroke-width="0.22" text-anchor="end">isocortex</text>
<text x="120.8" y="65.4" font-size="9.7" fill="#1a1a1a" stroke="#1a1a1a" stroke-width="0.22" text-anchor="end">olfactory areas</text>
<text x="120.8" y="78.2" font-size="9.7" fill="#1a1a1a" stroke="#1a1a1a" stroke-width="0.22" text-anchor="end">hippocampal formation</text>
<text x="120.8" y="89.5" font-size="9.7" fill="#1a1a1a" stroke="#1a1a1a" stroke-width="0.22" text-anchor="end">cortical subplate</text>
<text x="120.8" y="102.2" font-size="9.7" fill="#1a1a1a" stroke="#1a1a1a" stroke-width="0.22" text-anchor="end">striatum</text>
<text x="120.8" y="113.5" font-size="9.7" fill="#1a1a1a" stroke="#1a1a1a" stroke-width="0.22" text-anchor="end">pallidum</text>
<text x="120.8" y="124.7" font-size="9.7" fill="#1a1a1a" stroke="#1a1a1a" stroke-width="0.22" text-anchor="end">thalamus</text>
<text x="120.8" y="139" font-size="9.7" fill="#1a1a1a" stroke="#1a1a1a" stroke-width="0.22" text-anchor="end">hypothalamus</text>
<text x="120.8" y="151.8" font-size="9.7" fill="#1a1a1a" stroke="#1a1a1a" stroke-width="0.22" text-anchor="end">midbrain</text>
<text x="120.8" y="164" font-size="9.7" fill="#1a1a1a" stroke="#1a1a1a" stroke-width="0.22" text-anchor="end">pons</text>
<text x="120.8" y="176.8" font-size="9.7" fill="#1a1a1a" stroke="#1a1a1a" stroke-width="0.22" text-anchor="end">medulla</text>
<path d="M301.2 118L334.5 120.2" stroke="#1a1a1a" stroke-width="1.35"/>
<text x="322" y="132.2" font-size="12.6" fill="#111" stroke="#111" stroke-width="0.22" textLength="23.6" lengthAdjust="spacingAndGlyphs">ARC</text>
<text x="233.4" y="224.3" font-size="9.1" fill="#111" stroke="#111" stroke-width="0.22" text-anchor="end">contralateral side</text>
<text x="244.8" y="224.3" font-size="9.1" fill="#111" stroke="#111" stroke-width="0.22">viral injection side</text>
<text x="3.2" y="20.8" font-size="13.8" fill="#111" font-weight="bold">a</text>
</g>
<g id="panel_c">
<path d="M392.6 25.7L648.9 25.7L648.9 192.7" fill="none" stroke="#b4b4b4" stroke-width="1.4"/>
<path d="M392.6 25.1L392.6 192.7L649.5 192.7" fill="none" stroke="#1a1a1a" stroke-width="0.9"/>
<line x1="389.6" y1="184.7" x2="392.6" y2="184.7" stroke="#1a1a1a" stroke-width="0.7"/>
<text x="386.8" y="187.4" font-size="7.6" fill="#222" stroke="#222" stroke-width="0.22" text-anchor="end" textLength="11.4" lengthAdjust="spacingAndGlyphs">0.0</text>
<line x1="389.6" y1="154.3" x2="392.6" y2="154.3" stroke="#1a1a1a" stroke-width="0.7"/>
<text x="386.8" y="157" font-size="7.6" fill="#222" stroke="#222" stroke-width="0.22" text-anchor="end" textLength="11.4" lengthAdjust="spacingAndGlyphs">0.5</text>
<line x1="389.6" y1="123.9" x2="392.6" y2="123.9" stroke="#1a1a1a" stroke-width="0.7"/>
<text x="386.8" y="126.6" font-size="7.6" fill="#222" stroke="#222" stroke-width="0.22" text-anchor="end" textLength="11.4" lengthAdjust="spacingAndGlyphs">1.0</text>
<line x1="389.6" y1="93.5" x2="392.6" y2="93.5" stroke="#1a1a1a" stroke-width="0.7"/>
<text x="386.8" y="96.2" font-size="7.6" fill="#222" stroke="#222" stroke-width="0.22" text-anchor="end" textLength="11.4" lengthAdjust="spacingAndGlyphs">1.5</text>
<line x1="389.6" y1="63.1" x2="392.6" y2="63.1" stroke="#1a1a1a" stroke-width="0.7"/>
<text x="386.8" y="65.8" font-size="7.6" fill="#222" stroke="#222" stroke-width="0.22" text-anchor="end" textLength="11.4" lengthAdjust="spacingAndGlyphs">2.0</text>
<line x1="389.6" y1="32.7" x2="392.6" y2="32.7" stroke="#1a1a1a" stroke-width="0.7"/>
<text x="386.8" y="35.4" font-size="7.6" fill="#222" stroke="#222" stroke-width="0.22" text-anchor="end" textLength="11.4" lengthAdjust="spacingAndGlyphs">2.5</text>
<text transform="translate(370.6 115.4) rotate(-90)" font-size="8.7" text-anchor="middle" fill="#222" textLength="43.6" lengthAdjust="spacingAndGlyphs">% of input</text>
<path d="M409.9 192.7v2.4" stroke="#999" stroke-width="0.8"/><path d="M420.4 192.7v3.3" stroke="#1a1a1a" stroke-width="0.8"/>
<path d="M409.9 182.88V182.88M409.9 184.7V184.7M407.1 182.88H412.7M407.1 184.7H412.7" stroke="#222" stroke-width="0.75" fill="none"/><rect x="404.6" y="182.88" width="10.6" height="1.82" fill="#0000ff" stroke="#1a1a1a" stroke-width="0.7"/><line x1="404.9" y1="183.79" x2="414.9" y2="183.79" stroke="#ff9a1f" stroke-width="0.8"/><circle cx="409.9" cy="178.01" r="2.3" fill="#fff" stroke="#1a1a1a" stroke-width="0.75"/>
<path d="M420.4 144.57V154.91M420.4 170.29V177.1M417.6 144.57H423.2M417.6 177.1H423.2" stroke="#222" stroke-width="0.75" fill="none"/><rect x="415.1" y="154.91" width="10.6" height="15.38" fill="#ff0000" stroke="#1a1a1a" stroke-width="0.7"/><line x1="415.4" y1="159.16" x2="425.4" y2="159.16" stroke="#ff9a1f" stroke-width="0.8"/>
<text x="415.5" y="206.2" font-size="9.9" fill="#222" stroke="#222" stroke-width="0.22" text-anchor="middle">PPN</text>
<path d="M445.05 192.7v2.4" stroke="#999" stroke-width="0.8"/><path d="M455.55 192.7v3.3" stroke="#1a1a1a" stroke-width="0.8"/>
<path d="M445.05 172.84V174.49M445.05 177.71V180.26M442.25 172.84H447.85M442.25 180.26H447.85" stroke="#222" stroke-width="0.75" fill="none"/><rect x="439.75" y="174.49" width="10.6" height="3.22" fill="#0000ff" stroke="#1a1a1a" stroke-width="0.7"/><line x1="440.05" y1="175.88" x2="450.05" y2="175.88" stroke="#ff9a1f" stroke-width="0.8"/><circle cx="445.05" cy="169.68" r="2.3" fill="#fff" stroke="#1a1a1a" stroke-width="0.75"/>
<path d="M455.55 150.47V162.33M455.55 171.93V175.46M452.75 150.47H458.35M452.75 175.46H458.35" stroke="#222" stroke-width="0.75" fill="none"/><rect x="450.25" y="162.33" width="10.6" height="9.61" fill="#ff0000" stroke="#1a1a1a" stroke-width="0.7"/><line x1="450.55" y1="167.07" x2="460.55" y2="167.07" stroke="#ff9a1f" stroke-width="0.8"/>
<text x="452.9" y="206.2" font-size="9.9" fill="#222" stroke="#222" stroke-width="0.22" text-anchor="middle">NDB</text>
<path d="M480.2 192.7v2.4" stroke="#999" stroke-width="0.8"/><path d="M490.7 192.7v3.3" stroke="#1a1a1a" stroke-width="0.8"/>
<path d="M480.2 184.21V184.21M480.2 184.7V184.7M477.4 184.21H483M477.4 184.7H483" stroke="#222" stroke-width="0.75" fill="none"/><rect x="474.9" y="184.21" width="10.6" height="0.49" fill="#0000ff" stroke="#1a1a1a" stroke-width="0.7"/><line x1="475.2" y1="184.46" x2="485.2" y2="184.46" stroke="#ff9a1f" stroke-width="0.8"/><circle cx="480.2" cy="180.26" r="2.3" fill="#fff" stroke="#1a1a1a" stroke-width="0.75"/>
<path d="M490.7 178.32V178.32M490.7 182.88V184.09M487.9 178.32H493.5M487.9 184.09H493.5" stroke="#222" stroke-width="0.75" fill="none"/><rect x="485.4" y="178.32" width="10.6" height="4.56" fill="#ff0000" stroke="#1a1a1a" stroke-width="0.7"/><line x1="485.7" y1="180.93" x2="495.7" y2="180.93" stroke="#ff9a1f" stroke-width="0.8"/><circle cx="490.7" cy="166.76" r="2.3" fill="#fff" stroke="#1a1a1a" stroke-width="0.75"/>
<text x="487.2" y="206.2" font-size="9.9" fill="#222" stroke="#222" stroke-width="0.22" text-anchor="middle">RL</text>
<path d="M515.35 192.7v2.4" stroke="#999" stroke-width="0.8"/><path d="M525.85 192.7v3.3" stroke="#1a1a1a" stroke-width="0.8"/>
<path d="M515.35 33V55.2M515.35 96.54V136.36M512.55 33H518.15M512.55 136.36H518.15" stroke="#222" stroke-width="0.75" fill="none"/><rect x="510.05" y="55.2" width="10.6" height="41.34" fill="#0000ff" stroke="#1a1a1a" stroke-width="0.7"/><line x1="510.35" y1="62.49" x2="520.35" y2="62.49" stroke="#ff9a1f" stroke-width="0.8"/>
<path d="M525.85 108.7V118.43M525.85 157.52V179.23M523.05 108.7H528.65M523.05 179.23H528.65" stroke="#222" stroke-width="0.75" fill="none"/><rect x="520.55" y="118.43" width="10.6" height="39.09" fill="#ff0000" stroke="#1a1a1a" stroke-width="0.7"/><line x1="520.85" y1="140.32" x2="530.85" y2="140.32" stroke="#ff9a1f" stroke-width="0.8"/>
<text x="520.6" y="206.2" font-size="9.9" fill="#222" stroke="#222" stroke-width="0.22" text-anchor="middle">TM</text>
<path d="M550.5 192.7v2.4" stroke="#999" stroke-width="0.8"/><path d="M561 192.7v3.3" stroke="#1a1a1a" stroke-width="0.8"/>
<path d="M550.5 175.28V176.98M550.5 182.27V184.4M547.7 175.28H553.3M547.7 184.4H553.3" stroke="#222" stroke-width="0.75" fill="none"/><rect x="545.2" y="176.98" width="10.6" height="5.29" fill="#0000ff" stroke="#1a1a1a" stroke-width="0.7"/><line x1="545.5" y1="179.84" x2="555.5" y2="179.84" stroke="#ff9a1f" stroke-width="0.8"/><circle cx="550.5" cy="165.55" r="2.3" fill="#fff" stroke="#1a1a1a" stroke-width="0.75"/>
<path d="M561 111.13V128.16M561 159.41V168.71M558.2 111.13H563.8M558.2 168.71H563.8" stroke="#222" stroke-width="0.75" fill="none"/><rect x="555.7" y="128.16" width="10.6" height="31.25" fill="#ff0000" stroke="#1a1a1a" stroke-width="0.7"/><line x1="556" y1="141.23" x2="566" y2="141.23" stroke="#ff9a1f" stroke-width="0.8"/><circle cx="561" cy="64.01" r="2.3" fill="#fff" stroke="#1a1a1a" stroke-width="0.75"/>
<text x="557" y="206.2" font-size="9.9" fill="#222" stroke="#222" stroke-width="0.22" text-anchor="middle">VTA</text>
<path d="M585.65 192.7v2.4" stroke="#999" stroke-width="0.8"/><path d="M596.15 192.7v3.3" stroke="#1a1a1a" stroke-width="0.8"/>
<path d="M585.65 176.98V179.23M585.65 183.48V184.7M582.85 176.98H588.45M582.85 184.7H588.45" stroke="#222" stroke-width="0.75" fill="none"/><rect x="580.35" y="179.23" width="10.6" height="4.26" fill="#0000ff" stroke="#1a1a1a" stroke-width="0.7"/><line x1="580.65" y1="181.54" x2="590.65" y2="181.54" stroke="#ff9a1f" stroke-width="0.8"/>
<path d="M596.15 158.56V161.72M596.15 175.76V184.7M593.35 158.56H598.95M593.35 184.7H598.95" stroke="#222" stroke-width="0.75" fill="none"/><rect x="590.85" y="161.72" width="10.6" height="14.04" fill="#ff0000" stroke="#1a1a1a" stroke-width="0.7"/><line x1="591.15" y1="166.46" x2="601.15" y2="166.46" stroke="#ff9a1f" stroke-width="0.8"/><circle cx="596.15" cy="84.38" r="2.3" fill="#fff" stroke="#1a1a1a" stroke-width="0.75"/>
<text x="593.3" y="206.2" font-size="9.9" fill="#222" stroke="#222" stroke-width="0.22" text-anchor="middle">SNr</text>
<path d="M620.8 192.7v2.4" stroke="#999" stroke-width="0.8"/><path d="M631.3 192.7v3.3" stroke="#1a1a1a" stroke-width="0.8"/>
<path d="M620.8 184.34V184.34M620.8 184.7V184.7M618 184.34H623.6M618 184.7H623.6" stroke="#222" stroke-width="0.75" fill="none"/><rect x="615.5" y="184.34" width="10.6" height="0.4" fill="#0000ff" stroke="#1a1a1a" stroke-width="0.7"/><line x1="615.8" y1="184.58" x2="625.8" y2="184.58" stroke="#ff9a1f" stroke-width="0.8"/><circle cx="620.8" cy="181.66" r="2.3" fill="#fff" stroke="#1a1a1a" stroke-width="0.75"/>
<path d="M631.3 171.93V176.8M631.3 183.12V183.48M628.5 171.93H634.1M628.5 183.48H634.1" stroke="#222" stroke-width="0.75" fill="none"/><rect x="626" y="176.8" width="10.6" height="6.32" fill="#ff0000" stroke="#1a1a1a" stroke-width="0.7"/><line x1="626.3" y1="179.84" x2="636.3" y2="179.84" stroke="#ff9a1f" stroke-width="0.8"/>
<text x="625.9" y="206.2" font-size="9.9" fill="#222" stroke="#222" stroke-width="0.22" text-anchor="middle">SNc</text>
<text x="413.71" y="147" font-size="14.5" fill="#111" stroke="#111" stroke-width="0.35">*</text><text x="420.71" y="147" font-size="14.5" fill="#111" stroke="#111" stroke-width="0.35">*</text>
<text x="522.61" y="111.1" font-size="14.5" fill="#111" stroke="#111" stroke-width="0.35">*</text>
<text x="558.11" y="113.3" font-size="14.5" fill="#111" stroke="#111" stroke-width="0.35">*</text>
<rect x="583.9" y="33" width="20.8" height="9.3" fill="#464bb2"/>
<rect x="583.9" y="48" width="20.8" height="9.3" fill="#e2281d"/>
<text x="609.8" y="42.1" font-size="11.8" fill="#111" stroke="#111" stroke-width="0.15">AgRP</text>
<text x="609.8" y="56.9" font-size="12.5" fill="#111" stroke="#111" stroke-width="0.15"><tspan font-size="6.2" dy="-4.6">TN</tspan><tspan dy="4.6">SST</tspan></text>
<text x="357" y="19.9" font-size="13.8" fill="#111" font-weight="bold">c</text>
</g>
<g id="panel_b">
<rect x="231.8" y="246.15" width="1.46" height="10.3" fill="none" stroke="#24229e" stroke-width="1.4"/><rect x="218.42" y="246.15" width="13.38" height="10.3" fill="none" stroke="#ff1010" stroke-width="1.4"/><rect x="231.8" y="261.19" width="1.04" height="10.3" fill="none" stroke="#24229e" stroke-width="1.4"/><rect x="227.41" y="261.19" width="4.39" height="10.3" fill="none" stroke="#ff1010" stroke-width="1.4"/><rect x="231.8" y="276.23" width="2.3" height="10.3" fill="none" stroke="#24229e" stroke-width="1.4"/><rect x="225.32" y="276.23" width="6.48" height="10.3" fill="none" stroke="#ff1010" stroke-width="1.4"/><rect x="230.13" y="291.27" width="1.67" height="10.3" fill="none" stroke="#ff1010" stroke-width="1.4"/><rect x="231.8" y="306.31" width="8.99" height="10.3" fill="none" stroke="#24229e" stroke-width="1.4"/><rect x="203.59" y="306.31" width="28.21" height="10.3" fill="none" stroke="#ff1010" stroke-width="1.4"/><rect x="231.8" y="321.35" width="4.39" height="10.3" fill="none" stroke="#24229e" stroke-width="1.4"/><rect x="219.05" y="321.35" width="12.75" height="10.3" fill="none" stroke="#ff1010" stroke-width="1.4"/><rect x="231.8" y="336.39" width="4.39" height="10.3" fill="none" stroke="#24229e" stroke-width="1.4"/><rect x="215.5" y="336.39" width="16.3" height="10.3" fill="none" stroke="#ff1010" stroke-width="1.4"/><rect x="231.8" y="351.43" width="113.28" height="10.3" fill="none" stroke="#24229e" stroke-width="1.4"/><rect x="167.22" y="351.43" width="64.58" height="10.3" fill="none" stroke="#ff1010" stroke-width="1.4"/><rect x="231.8" y="366.47" width="1.46" height="10.3" fill="none" stroke="#24229e" stroke-width="1.4"/><rect x="207.14" y="366.47" width="24.66" height="10.3" fill="none" stroke="#ff1010" stroke-width="1.4"/><rect x="229.29" y="381.51" width="2.51" height="10.3" fill="none" stroke="#ff1010" stroke-width="1.4"/><rect x="230.76" y="396.55" width="1.04" height="10.3" fill="none" stroke="#ff1010" stroke-width="1.4"/><g fill="#7a7474"><circle cx="209.86" cy="251.3" r="0.9"/><circle cx="211.95" cy="251.3" r="0.9"/><circle cx="212.99" cy="253" r="0.9"/><circle cx="214.04" cy="251.3" r="0.9"/><circle cx="216.12" cy="251.3" r="0.9"/><circle cx="219.26" cy="251.3" r="0.9"/><circle cx="221.35" cy="251.3" r="0.9"/><circle cx="222.4" cy="253" r="0.9"/><circle cx="223.44" cy="251.3" r="0.9"/><circle cx="224.49" cy="253" r="0.9"/><circle cx="229.71" cy="251.3" r="0.9"/><circle cx="230.76" cy="253" r="0.9"/><circle cx="232.5" cy="251.3" r="0.9"/><circle cx="232.74" cy="253" r="0.9"/><circle cx="233.07" cy="249.6" r="0.9"/><circle cx="233.08" cy="254.7" r="0.9"/><circle cx="233.19" cy="247.9" r="0.9"/><circle cx="233.92" cy="256.3" r="0.9"/><circle cx="234.29" cy="251.3" r="0.9"/><circle cx="234.98" cy="253" r="0.9"/><circle cx="225.21" cy="266.34" r="0.9"/><circle cx="226" cy="268.04" r="0.9"/><circle cx="226.02" cy="264.64" r="0.9"/><circle cx="226.86" cy="266.34" r="0.9"/><circle cx="226.99" cy="269.74" r="0.9"/><circle cx="227.12" cy="262.94" r="0.9"/><circle cx="227.22" cy="271.34" r="0.9"/><circle cx="227.54" cy="268.04" r="0.9"/><circle cx="227.75" cy="264.64" r="0.9"/><circle cx="228.1" cy="261.34" r="0.9"/><circle cx="230.26" cy="266.34" r="0.9"/><circle cx="231" cy="268.04" r="0.9"/><circle cx="231.86" cy="266.34" r="0.9"/><circle cx="231.96" cy="268.04" r="0.9"/><circle cx="232.32" cy="264.64" r="0.9"/><circle cx="232.81" cy="269.74" r="0.9"/><circle cx="232.85" cy="262.94" r="0.9"/><circle cx="232.99" cy="271.34" r="0.9"/><circle cx="233.41" cy="266.34" r="0.9"/><circle cx="235.05" cy="266.34" r="0.9"/><circle cx="219.06" cy="281.38" r="0.9"/><circle cx="223.03" cy="281.38" r="0.9"/><circle cx="223.11" cy="283.08" r="0.9"/><circle cx="223.44" cy="279.68" r="0.9"/><circle cx="224.08" cy="284.78" r="0.9"/><circle cx="224.98" cy="281.38" r="0.9"/><circle cx="225.31" cy="283.08" r="0.9"/><circle cx="225.63" cy="279.68" r="0.9"/><circle cx="226.28" cy="284.78" r="0.9"/><circle cx="227.01" cy="281.38" r="0.9"/><circle cx="228.04" cy="283.08" r="0.9"/><circle cx="228.69" cy="281.38" r="0.9"/><circle cx="233.06" cy="281.38" r="0.9"/><circle cx="233.29" cy="283.08" r="0.9"/><circle cx="233.93" cy="279.68" r="0.9"/><circle cx="234.29" cy="284.78" r="0.9"/><circle cx="234.93" cy="281.38" r="0.9"/><circle cx="235.37" cy="283.08" r="0.9"/><circle cx="235.44" cy="279.68" r="0.9"/><circle cx="235.79" cy="284.78" r="0.9"/><circle cx="229.03" cy="296.42" r="0.9"/><circle cx="229.61" cy="298.12" r="0.9"/><circle cx="229.76" cy="294.72" r="0.9"/><circle cx="229.79" cy="299.82" r="0.9"/><circle cx="229.81" cy="293.02" r="0.9"/><circle cx="229.94" cy="301.42" r="0.9"/><circle cx="229.99" cy="291.42" r="0.9"/><circle cx="230.01" cy="290.22" r="0.9"/><circle cx="230.38" cy="290.22" r="0.9"/><circle cx="230.39" cy="290.22" r="0.9"/><circle cx="230.53" cy="290.22" r="0.9"/><circle cx="230.81" cy="296.42" r="0.9"/><circle cx="232.49" cy="296.42" r="0.9"/><circle cx="232.62" cy="298.12" r="0.9"/><circle cx="232.66" cy="294.72" r="0.9"/><circle cx="232.68" cy="299.82" r="0.9"/><circle cx="232.69" cy="293.02" r="0.9"/><circle cx="232.75" cy="301.42" r="0.9"/><circle cx="232.78" cy="291.42" r="0.9"/><circle cx="232.93" cy="290.22" r="0.9"/><circle cx="191.05" cy="311.46" r="0.9"/><circle cx="196.27" cy="311.46" r="0.9"/><circle cx="197.31" cy="313.16" r="0.9"/><circle cx="200.45" cy="311.46" r="0.9"/><circle cx="201.5" cy="313.16" r="0.9"/><circle cx="202.54" cy="311.46" r="0.9"/><circle cx="204.63" cy="311.46" r="0.9"/><circle cx="206.72" cy="311.46" r="0.9"/><circle cx="209.86" cy="311.46" r="0.9"/><circle cx="215.08" cy="311.46" r="0.9"/><circle cx="220.31" cy="311.46" r="0.9"/><circle cx="225.53" cy="311.46" r="0.9"/><circle cx="237.83" cy="311.46" r="0.9"/><circle cx="240.41" cy="311.46" r="0.9"/><circle cx="240.99" cy="313.16" r="0.9"/><circle cx="241.21" cy="309.76" r="0.9"/><circle cx="242.04" cy="311.46" r="0.9"/><circle cx="243.16" cy="313.16" r="0.9"/><circle cx="244.52" cy="311.46" r="0.9"/><circle cx="245.32" cy="313.16" r="0.9"/><circle cx="210.77" cy="326.5" r="0.9"/><circle cx="213.1" cy="326.5" r="0.9"/><circle cx="214.81" cy="326.5" r="0.9"/><circle cx="215.58" cy="328.2" r="0.9"/><circle cx="216.23" cy="324.8" r="0.9"/><circle cx="217.78" cy="326.5" r="0.9"/><circle cx="219.04" cy="328.2" r="0.9"/><circle cx="220.61" cy="326.5" r="0.9"/><circle cx="223.12" cy="326.5" r="0.9"/><circle cx="223.9" cy="328.2" r="0.9"/><circle cx="224.42" cy="324.8" r="0.9"/><circle cx="228.63" cy="326.5" r="0.9"/><circle cx="232.17" cy="326.5" r="0.9"/><circle cx="234.35" cy="326.5" r="0.9"/><circle cx="235.36" cy="328.2" r="0.9"/><circle cx="235.87" cy="326.5" r="0.9"/><circle cx="236.63" cy="324.8" r="0.9"/><circle cx="237.81" cy="326.5" r="0.9"/><circle cx="238.2" cy="328.2" r="0.9"/><circle cx="240.83" cy="326.5" r="0.9"/><circle cx="200.52" cy="341.54" r="0.9"/><circle cx="204.29" cy="341.54" r="0.9"/><circle cx="206.12" cy="341.54" r="0.9"/><circle cx="206.92" cy="343.24" r="0.9"/><circle cx="211.16" cy="341.54" r="0.9"/><circle cx="211.56" cy="343.24" r="0.9"/><circle cx="211.78" cy="339.84" r="0.9"/><circle cx="213.68" cy="341.54" r="0.9"/><circle cx="214.81" cy="343.24" r="0.9"/><circle cx="215.99" cy="341.54" r="0.9"/><circle cx="218.36" cy="341.54" r="0.9"/><circle cx="219.62" cy="343.24" r="0.9"/><circle cx="232.53" cy="341.54" r="0.9"/><circle cx="234.76" cy="341.54" r="0.9"/><circle cx="234.96" cy="343.24" r="0.9"/><circle cx="235.12" cy="339.84" r="0.9"/><circle cx="235.52" cy="344.94" r="0.9"/><circle cx="236.35" cy="341.54" r="0.9"/><circle cx="237.37" cy="343.24" r="0.9"/><circle cx="237.77" cy="339.84" r="0.9"/><circle cx="140.89" cy="356.58" r="0.9"/><circle cx="142.98" cy="356.58" r="0.9"/><circle cx="145.06" cy="356.58" r="0.9"/><circle cx="162.83" cy="356.58" r="0.9"/><circle cx="168.06" cy="356.58" r="0.9"/><circle cx="175.37" cy="356.58" r="0.9"/><circle cx="186.87" cy="356.58" r="0.9"/><circle cx="191.05" cy="356.58" r="0.9"/><circle cx="194.18" cy="356.58" r="0.9"/><circle cx="202.54" cy="356.58" r="0.9"/><circle cx="210.9" cy="356.58" r="0.9"/><circle cx="219.26" cy="356.58" r="0.9"/><circle cx="327.94" cy="356.58" r="0.9"/><circle cx="330.03" cy="356.58" r="0.9"/><circle cx="332.12" cy="356.58" r="0.9"/><circle cx="350.93" cy="356.58" r="0.9"/><circle cx="354.06" cy="356.58" r="0.9"/><circle cx="356.15" cy="356.58" r="0.9"/><circle cx="359.29" cy="356.58" r="0.9"/><circle cx="371.83" cy="356.58" r="0.9"/><circle cx="175.37" cy="371.62" r="0.9"/><circle cx="187.91" cy="371.62" r="0.9"/><circle cx="201.5" cy="371.62" r="0.9"/><circle cx="204.63" cy="371.62" r="0.9"/><circle cx="209.86" cy="371.62" r="0.9"/><circle cx="211.95" cy="371.62" r="0.9"/><circle cx="215.08" cy="371.62" r="0.9"/><circle cx="216.12" cy="373.32" r="0.9"/><circle cx="219.26" cy="371.62" r="0.9"/><circle cx="222.4" cy="371.62" r="0.9"/><circle cx="225.53" cy="371.62" r="0.9"/><circle cx="227.62" cy="371.62" r="0.9"/><circle cx="231.88" cy="371.62" r="0.9"/><circle cx="232.08" cy="373.32" r="0.9"/><circle cx="232.27" cy="369.92" r="0.9"/><circle cx="232.35" cy="375.02" r="0.9"/><circle cx="234.12" cy="371.62" r="0.9"/><circle cx="234.15" cy="373.32" r="0.9"/><circle cx="234.49" cy="369.92" r="0.9"/><circle cx="234.91" cy="375.02" r="0.9"/><circle cx="226.54" cy="386.66" r="0.9"/><circle cx="227.62" cy="388.36" r="0.9"/><circle cx="228.37" cy="386.66" r="0.9"/><circle cx="229.41" cy="388.36" r="0.9"/><circle cx="229.46" cy="384.96" r="0.9"/><circle cx="229.47" cy="390.06" r="0.9"/><circle cx="230.2" cy="386.66" r="0.9"/><circle cx="230.22" cy="383.26" r="0.9"/><circle cx="230.22" cy="391.66" r="0.9"/><circle cx="230.61" cy="381.66" r="0.9"/><circle cx="230.88" cy="380.46" r="0.9"/><circle cx="231.05" cy="388.36" r="0.9"/><circle cx="231.83" cy="386.66" r="0.9"/><circle cx="232.19" cy="388.36" r="0.9"/><circle cx="232.46" cy="384.96" r="0.9"/><circle cx="232.51" cy="390.06" r="0.9"/><circle cx="232.66" cy="383.26" r="0.9"/><circle cx="232.71" cy="391.66" r="0.9"/><circle cx="232.87" cy="381.66" r="0.9"/><circle cx="232.91" cy="380.46" r="0.9"/><circle cx="229.8" cy="401.7" r="0.9"/><circle cx="229.94" cy="403.4" r="0.9"/><circle cx="230.37" cy="400" r="0.9"/><circle cx="230.64" cy="405.1" r="0.9"/><circle cx="230.65" cy="398.3" r="0.9"/><circle cx="230.76" cy="406.7" r="0.9"/><circle cx="231.01" cy="396.7" r="0.9"/><circle cx="231.07" cy="395.5" r="0.9"/><circle cx="231.3" cy="401.7" r="0.9"/><circle cx="231.5" cy="403.4" r="0.9"/><circle cx="231.71" cy="395.5" r="0.9"/><circle cx="231.75" cy="395.5" r="0.9"/><circle cx="231.99" cy="401.7" r="0.9"/><circle cx="232.04" cy="403.4" r="0.9"/><circle cx="232.08" cy="400" r="0.9"/><circle cx="232.33" cy="405.1" r="0.9"/><circle cx="232.47" cy="398.3" r="0.9"/><circle cx="232.47" cy="406.7" r="0.9"/><circle cx="232.55" cy="396.7" r="0.9"/><circle cx="232.66" cy="395.5" r="0.9"/></g><path d="M220.31 251.3H216.54M220.31 249v4.6M216.54 249v4.6" stroke="#111" stroke-width="0.9" fill="none"/><path d="M226.37 281.38H224.28M226.37 279.08v4.6M224.28 279.08v4.6" stroke="#111" stroke-width="0.9" fill="none"/><path d="M206.72 311.46H200.45M206.72 309.16v4.6M200.45 309.16v4.6" stroke="#111" stroke-width="0.9" fill="none"/><path d="M239.74 311.46H241.83M239.74 309.16v4.6M241.83 309.16v4.6" stroke="#111" stroke-width="0.9" fill="none"/><path d="M220.72 326.5H217.38M220.72 324.2v4.6M217.38 324.2v4.6" stroke="#111" stroke-width="0.9" fill="none"/><path d="M217.38 341.54H213.62M217.38 339.24v4.6M213.62 339.24v4.6" stroke="#111" stroke-width="0.9" fill="none"/><path d="M174.33 356.58H160.11M174.33 354.28v4.6M160.11 354.28v4.6" stroke="#111" stroke-width="0.9" fill="none"/><path d="M338.6 356.58H351.56M338.6 354.28v4.6M351.56 354.28v4.6" stroke="#111" stroke-width="0.9" fill="none"/><path d="M210.48 371.62H203.79M210.48 369.32v4.6M203.79 369.32v4.6" stroke="#111" stroke-width="0.9" fill="none"/><rect x="128.8" y="243.6" width="255.5" height="165.6" fill="none" stroke="#3a3a3a" stroke-width="0.9"/><line x1="126.2" y1="251.3" x2="128.8" y2="251.3" stroke="#333" stroke-width="0.8"/><line x1="126.2" y1="266.34" x2="128.8" y2="266.34" stroke="#333" stroke-width="0.8"/><line x1="126.2" y1="281.38" x2="128.8" y2="281.38" stroke="#333" stroke-width="0.8"/><line x1="126.2" y1="296.42" x2="128.8" y2="296.42" stroke="#333" stroke-width="0.8"/><line x1="126.2" y1="311.46" x2="128.8" y2="311.46" stroke="#333" stroke-width="0.8"/><line x1="126.2" y1="326.5" x2="128.8" y2="326.5" stroke="#333" stroke-width="0.8"/><line x1="126.2" y1="341.54" x2="128.8" y2="341.54" stroke="#333" stroke-width="0.8"/><line x1="126.2" y1="356.58" x2="128.8" y2="356.58" stroke="#333" stroke-width="0.8"/><line x1="126.2" y1="371.62" x2="128.8" y2="371.62" stroke="#333" stroke-width="0.8"/><line x1="126.2" y1="386.66" x2="128.8" y2="386.66" stroke="#333" stroke-width="0.8"/><line x1="126.2" y1="401.7" x2="128.8" y2="401.7" stroke="#333" stroke-width="0.8"/><line x1="148.2" y1="409.2" x2="148.2" y2="411.8" stroke="#333" stroke-width="0.8"/><text x="148.2" y="420.8" font-size="10.1" fill="#1a1a1a" stroke="#1a1a1a" stroke-width="0.22" text-anchor="middle">40</text><line x1="190" y1="409.2" x2="190" y2="411.8" stroke="#333" stroke-width="0.8"/><text x="190" y="420.8" font-size="10.1" fill="#1a1a1a" stroke="#1a1a1a" stroke-width="0.22" text-anchor="middle">20</text><line x1="231.8" y1="409.2" x2="231.8" y2="411.8" stroke="#333" stroke-width="0.8"/><text x="231.8" y="420.8" font-size="10.1" fill="#1a1a1a" stroke="#1a1a1a" stroke-width="0.22" text-anchor="middle">0</text><line x1="273.6" y1="409.2" x2="273.6" y2="411.8" stroke="#333" stroke-width="0.8"/><text x="273.6" y="420.8" font-size="10.1" fill="#1a1a1a" stroke="#1a1a1a" stroke-width="0.22" text-anchor="middle">20</text><line x1="315.4" y1="409.2" x2="315.4" y2="411.8" stroke="#333" stroke-width="0.8"/><text x="315.4" y="420.8" font-size="10.1" fill="#1a1a1a" stroke="#1a1a1a" stroke-width="0.22" text-anchor="middle">40</text><line x1="357.2" y1="409.2" x2="357.2" y2="411.8" stroke="#333" stroke-width="0.8"/><text x="357.2" y="420.8" font-size="10.1" fill="#1a1a1a" stroke="#1a1a1a" stroke-width="0.22" text-anchor="middle">60</text><text x="255.05" y="431.3" font-size="9.5" fill="#1a1a1a" stroke="#1a1a1a" stroke-width="0.22" text-anchor="middle">% of input</text><text x="237.95" y="258.1" font-size="12.75" fill="#111" stroke="#111" stroke-width="0.35">*</text><text x="240.05" y="303.22" font-size="12.75" fill="#111" stroke="#111" stroke-width="0.35">*</text><text x="255.55" y="318.26" font-size="12.75" fill="#111" stroke="#111" stroke-width="0.35">*</text><text x="248.05" y="333.3" font-size="12.75" fill="#111" stroke="#111" stroke-width="0.35">*</text><text x="248.35" y="348.34" font-size="12.75" fill="#111" stroke="#111" stroke-width="0.35">*</text><text x="354.3" y="363.38" font-size="12.75" fill="#111" stroke="#111" stroke-width="0.35">*</text><text x="359.6" y="363.38" font-size="12.75" fill="#111" stroke="#111" stroke-width="0.35">*</text><text x="245.45" y="378.42" font-size="12.75" fill="#111" stroke="#111" stroke-width="0.35">*</text>
<rect x="501.92" y="246.15" width="3.98" height="10.3" fill="none" stroke="#ff1010" stroke-width="1.4"/><rect x="505.9" y="276.23" width="2.34" height="10.3" fill="none" stroke="#24229e" stroke-width="1.4"/><rect x="504.03" y="276.23" width="1.87" height="10.3" fill="none" stroke="#ff1010" stroke-width="1.4"/><rect x="505.9" y="306.31" width="4.68" height="10.3" fill="none" stroke="#24229e" stroke-width="1.4"/><rect x="503.09" y="306.31" width="2.81" height="10.3" fill="none" stroke="#ff1010" stroke-width="1.4"/><rect x="505.9" y="321.35" width="2.34" height="10.3" fill="none" stroke="#24229e" stroke-width="1.4"/><rect x="504.03" y="321.35" width="1.87" height="10.3" fill="none" stroke="#ff1010" stroke-width="1.4"/><rect x="502.39" y="336.39" width="3.51" height="10.3" fill="none" stroke="#ff1010" stroke-width="1.4"/><rect x="505.9" y="351.43" width="61.31" height="10.3" fill="none" stroke="#24229e" stroke-width="1.4"/><rect x="486.71" y="351.43" width="19.19" height="10.3" fill="none" stroke="#ff1010" stroke-width="1.4"/><rect x="505.9" y="366.47" width="2.34" height="10.3" fill="none" stroke="#24229e" stroke-width="1.4"/><rect x="497.01" y="366.47" width="8.89" height="10.3" fill="none" stroke="#ff1010" stroke-width="1.4"/><rect x="504.73" y="381.51" width="1.17" height="10.3" fill="none" stroke="#ff1010" stroke-width="1.4"/><rect x="505.9" y="396.55" width="0.94" height="10.3" fill="none" stroke="#24229e" stroke-width="1.4"/><rect x="504.03" y="396.55" width="1.87" height="10.3" fill="none" stroke="#ff1010" stroke-width="1.4"/><g fill="#7a7474"><circle cx="499.65" cy="251.3" r="0.9"/><circle cx="499.94" cy="253" r="0.9"/><circle cx="500.2" cy="249.6" r="0.9"/><circle cx="500.31" cy="254.7" r="0.9"/><circle cx="500.57" cy="247.9" r="0.9"/><circle cx="502.15" cy="251.3" r="0.9"/><circle cx="502.9" cy="253" r="0.9"/><circle cx="503.25" cy="249.6" r="0.9"/><circle cx="503.43" cy="254.7" r="0.9"/><circle cx="503.62" cy="247.9" r="0.9"/><circle cx="504.54" cy="251.3" r="0.9"/><circle cx="505.65" cy="253" r="0.9"/><circle cx="506.06" cy="251.3" r="0.9"/><circle cx="506.06" cy="253" r="0.9"/><circle cx="506.08" cy="249.6" r="0.9"/><circle cx="506.08" cy="254.7" r="0.9"/><circle cx="506.45" cy="247.9" r="0.9"/><circle cx="506.46" cy="256.3" r="0.9"/><circle cx="506.75" cy="246.3" r="0.9"/><circle cx="507.02" cy="245.1" r="0.9"/><circle cx="503.96" cy="266.34" r="0.9"/><circle cx="504.38" cy="268.04" r="0.9"/><circle cx="504.8" cy="264.64" r="0.9"/><circle cx="505.03" cy="269.74" r="0.9"/><circle cx="505.05" cy="262.94" r="0.9"/><circle cx="505.11" cy="271.34" r="0.9"/><circle cx="505.15" cy="261.34" r="0.9"/><circle cx="505.29" cy="260.14" r="0.9"/><circle cx="505.35" cy="260.14" r="0.9"/><circle cx="505.45" cy="260.14" r="0.9"/><circle cx="505.66" cy="266.34" r="0.9"/><circle cx="505.68" cy="260.14" r="0.9"/><circle cx="505.91" cy="266.34" r="0.9"/><circle cx="505.92" cy="268.04" r="0.9"/><circle cx="505.95" cy="264.64" r="0.9"/><circle cx="506.07" cy="269.74" r="0.9"/><circle cx="506.15" cy="262.94" r="0.9"/><circle cx="506.19" cy="271.34" r="0.9"/><circle cx="506.2" cy="261.34" r="0.9"/><circle cx="506.23" cy="260.14" r="0.9"/><circle cx="502.34" cy="281.38" r="0.9"/><circle cx="502.7" cy="283.08" r="0.9"/><circle cx="503.88" cy="281.38" r="0.9"/><circle cx="503.91" cy="279.68" r="0.9"/><circle cx="504.24" cy="283.08" r="0.9"/><circle cx="504.24" cy="284.78" r="0.9"/><circle cx="504.43" cy="277.98" r="0.9"/><circle cx="504.94" cy="286.38" r="0.9"/><circle cx="504.95" cy="276.38" r="0.9"/><circle cx="504.96" cy="275.18" r="0.9"/><circle cx="505.52" cy="281.38" r="0.9"/><circle cx="505.62" cy="279.68" r="0.9"/><circle cx="506.16" cy="281.38" r="0.9"/><circle cx="506.35" cy="283.08" r="0.9"/><circle cx="506.52" cy="279.68" r="0.9"/><circle cx="506.58" cy="284.78" r="0.9"/><circle cx="507.65" cy="277.98" r="0.9"/><circle cx="508.05" cy="281.38" r="0.9"/><circle cx="509.61" cy="281.38" r="0.9"/><circle cx="509.89" cy="283.08" r="0.9"/><circle cx="505.26" cy="296.42" r="0.9"/><circle cx="505.3" cy="298.12" r="0.9"/><circle cx="505.41" cy="294.72" r="0.9"/><circle cx="505.44" cy="299.82" r="0.9"/><circle cx="505.45" cy="293.02" r="0.9"/><circle cx="505.57" cy="301.42" r="0.9"/><circle cx="505.7" cy="291.42" r="0.9"/><circle cx="505.7" cy="290.22" r="0.9"/><circle cx="505.73" cy="290.22" r="0.9"/><circle cx="505.79" cy="290.22" r="0.9"/><circle cx="505.85" cy="290.22" r="0.9"/><circle cx="505.87" cy="290.22" r="0.9"/><circle cx="505.91" cy="296.42" r="0.9"/><circle cx="505.91" cy="298.12" r="0.9"/><circle cx="505.93" cy="294.72" r="0.9"/><circle cx="505.94" cy="299.82" r="0.9"/><circle cx="506.06" cy="293.02" r="0.9"/><circle cx="506.13" cy="301.42" r="0.9"/><circle cx="506.29" cy="291.42" r="0.9"/><circle cx="506.31" cy="290.22" r="0.9"/><circle cx="496.96" cy="311.46" r="0.9"/><circle cx="498.4" cy="313.16" r="0.9"/><circle cx="498.64" cy="311.46" r="0.9"/><circle cx="500.99" cy="311.46" r="0.9"/><circle cx="501.81" cy="313.16" r="0.9"/><circle cx="501.89" cy="309.76" r="0.9"/><circle cx="501.99" cy="314.86" r="0.9"/><circle cx="503.85" cy="311.46" r="0.9"/><circle cx="504.01" cy="313.16" r="0.9"/><circle cx="504.73" cy="309.76" r="0.9"/><circle cx="504.84" cy="314.86" r="0.9"/><circle cx="505.2" cy="308.06" r="0.9"/><circle cx="506.93" cy="311.46" r="0.9"/><circle cx="509.26" cy="311.46" r="0.9"/><circle cx="509.39" cy="313.16" r="0.9"/><circle cx="509.82" cy="309.76" r="0.9"/><circle cx="510.04" cy="314.86" r="0.9"/><circle cx="510.62" cy="308.06" r="0.9"/><circle cx="510.88" cy="311.46" r="0.9"/><circle cx="511.01" cy="313.16" r="0.9"/><circle cx="501.76" cy="326.5" r="0.9"/><circle cx="502.38" cy="328.2" r="0.9"/><circle cx="502.8" cy="324.8" r="0.9"/><circle cx="503.37" cy="326.5" r="0.9"/><circle cx="503.42" cy="329.9" r="0.9"/><circle cx="503.49" cy="323.1" r="0.9"/><circle cx="504.23" cy="328.2" r="0.9"/><circle cx="504.28" cy="331.5" r="0.9"/><circle cx="504.61" cy="324.8" r="0.9"/><circle cx="505.37" cy="326.5" r="0.9"/><circle cx="505.38" cy="329.9" r="0.9"/><circle cx="505.84" cy="328.2" r="0.9"/><circle cx="506.64" cy="326.5" r="0.9"/><circle cx="506.84" cy="328.2" r="0.9"/><circle cx="507.07" cy="324.8" r="0.9"/><circle cx="507.64" cy="329.9" r="0.9"/><circle cx="508.57" cy="326.5" r="0.9"/><circle cx="509.3" cy="328.2" r="0.9"/><circle cx="510.04" cy="324.8" r="0.9"/><circle cx="510.58" cy="326.5" r="0.9"/><circle cx="498.86" cy="341.54" r="0.9"/><circle cx="500.12" cy="343.24" r="0.9"/><circle cx="500.15" cy="339.84" r="0.9"/><circle cx="500.69" cy="341.54" r="0.9"/><circle cx="501.44" cy="344.94" r="0.9"/><circle cx="502.84" cy="341.54" r="0.9"/><circle cx="502.89" cy="343.24" r="0.9"/><circle cx="502.95" cy="339.84" r="0.9"/><circle cx="503.08" cy="344.94" r="0.9"/><circle cx="503.51" cy="338.14" r="0.9"/><circle cx="504.55" cy="341.54" r="0.9"/><circle cx="505.71" cy="343.24" r="0.9"/><circle cx="505.96" cy="341.54" r="0.9"/><circle cx="506.07" cy="343.24" r="0.9"/><circle cx="506.33" cy="339.84" r="0.9"/><circle cx="506.46" cy="344.94" r="0.9"/><circle cx="506.49" cy="338.14" r="0.9"/><circle cx="506.51" cy="346.54" r="0.9"/><circle cx="507.23" cy="336.54" r="0.9"/><circle cx="507.31" cy="335.34" r="0.9"/><circle cx="473.14" cy="356.58" r="0.9"/><circle cx="475.48" cy="356.58" r="0.9"/><circle cx="478.99" cy="356.58" r="0.9"/><circle cx="484.84" cy="356.58" r="0.9"/><circle cx="487.18" cy="356.58" r="0.9"/><circle cx="489.52" cy="356.58" r="0.9"/><circle cx="490.69" cy="358.28" r="0.9"/><circle cx="494.2" cy="356.58" r="0.9"/><circle cx="495.37" cy="358.28" r="0.9"/><circle cx="498.88" cy="356.58" r="0.9"/><circle cx="500.05" cy="358.28" r="0.9"/><circle cx="502.39" cy="356.58" r="0.9"/><circle cx="559.72" cy="356.58" r="0.9"/><circle cx="560.89" cy="358.28" r="0.9"/><circle cx="562.06" cy="356.58" r="0.9"/><circle cx="569.08" cy="356.58" r="0.9"/><circle cx="571.42" cy="356.58" r="0.9"/><circle cx="573.76" cy="356.58" r="0.9"/><circle cx="577.27" cy="356.58" r="0.9"/><circle cx="579.61" cy="356.58" r="0.9"/><circle cx="490.69" cy="371.62" r="0.9"/><circle cx="493.03" cy="371.62" r="0.9"/><circle cx="494.2" cy="373.32" r="0.9"/><circle cx="495.37" cy="371.62" r="0.9"/><circle cx="496.54" cy="373.32" r="0.9"/><circle cx="497.71" cy="371.62" r="0.9"/><circle cx="498.88" cy="373.32" r="0.9"/><circle cx="500.05" cy="371.62" r="0.9"/><circle cx="501.22" cy="373.32" r="0.9"/><circle cx="502.39" cy="371.62" r="0.9"/><circle cx="503.56" cy="373.32" r="0.9"/><circle cx="504.73" cy="371.62" r="0.9"/><circle cx="506.66" cy="371.62" r="0.9"/><circle cx="507.14" cy="373.32" r="0.9"/><circle cx="507.37" cy="369.92" r="0.9"/><circle cx="507.94" cy="375.02" r="0.9"/><circle cx="508.08" cy="368.22" r="0.9"/><circle cx="508.84" cy="371.62" r="0.9"/><circle cx="509.33" cy="373.32" r="0.9"/><circle cx="510.27" cy="369.92" r="0.9"/><circle cx="503.17" cy="386.66" r="0.9"/><circle cx="504.12" cy="388.36" r="0.9"/><circle cx="504.2" cy="384.96" r="0.9"/><circle cx="504.39" cy="390.06" r="0.9"/><circle cx="504.81" cy="386.66" r="0.9"/><circle cx="505.1" cy="383.26" r="0.9"/><circle cx="505.16" cy="391.66" r="0.9"/><circle cx="505.32" cy="381.66" r="0.9"/><circle cx="505.4" cy="380.46" r="0.9"/><circle cx="505.43" cy="380.46" r="0.9"/><circle cx="505.56" cy="380.46" r="0.9"/><circle cx="505.71" cy="388.36" r="0.9"/><circle cx="506.24" cy="386.66" r="0.9"/><circle cx="506.36" cy="388.36" r="0.9"/><circle cx="506.41" cy="384.96" r="0.9"/><circle cx="506.52" cy="390.06" r="0.9"/><circle cx="506.54" cy="383.26" r="0.9"/><circle cx="506.63" cy="391.66" r="0.9"/><circle cx="506.97" cy="381.66" r="0.9"/><circle cx="507.68" cy="380.46" r="0.9"/><circle cx="503.05" cy="401.7" r="0.9"/><circle cx="503.28" cy="403.4" r="0.9"/><circle cx="503.45" cy="400" r="0.9"/><circle cx="503.48" cy="405.1" r="0.9"/><circle cx="503.88" cy="398.3" r="0.9"/><circle cx="503.94" cy="406.7" r="0.9"/><circle cx="504.14" cy="396.7" r="0.9"/><circle cx="504.59" cy="401.7" r="0.9"/><circle cx="505.05" cy="403.4" r="0.9"/><circle cx="505.05" cy="400" r="0.9"/><circle cx="505.43" cy="405.1" r="0.9"/><circle cx="505.52" cy="398.3" r="0.9"/><circle cx="505.92" cy="401.7" r="0.9"/><circle cx="505.97" cy="403.4" r="0.9"/><circle cx="506.8" cy="400" r="0.9"/><circle cx="506.82" cy="405.1" r="0.9"/><circle cx="506.92" cy="398.3" r="0.9"/><circle cx="506.94" cy="406.7" r="0.9"/><circle cx="506.97" cy="396.7" r="0.9"/><circle cx="507.05" cy="395.5" r="0.9"/></g><path d="M489.75 356.58H483.67M489.75 354.28v4.6M483.67 354.28v4.6" stroke="#111" stroke-width="0.9" fill="none"/><path d="M563.7 356.58H570.72M563.7 354.28v4.6M570.72 354.28v4.6" stroke="#111" stroke-width="0.9" fill="none"/><path d="M498.41 371.62H495.6M498.41 369.32v4.6M495.6 369.32v4.6" stroke="#111" stroke-width="0.9" fill="none"/><rect x="401.3" y="243.6" width="257" height="165.6" fill="none" stroke="#3a3a3a" stroke-width="0.9"/><line x1="398.7" y1="251.3" x2="401.3" y2="251.3" stroke="#333" stroke-width="0.8"/><line x1="398.7" y1="266.34" x2="401.3" y2="266.34" stroke="#333" stroke-width="0.8"/><line x1="398.7" y1="281.38" x2="401.3" y2="281.38" stroke="#333" stroke-width="0.8"/><line x1="398.7" y1="296.42" x2="401.3" y2="296.42" stroke="#333" stroke-width="0.8"/><line x1="398.7" y1="311.46" x2="401.3" y2="311.46" stroke="#333" stroke-width="0.8"/><line x1="398.7" y1="326.5" x2="401.3" y2="326.5" stroke="#333" stroke-width="0.8"/><line x1="398.7" y1="341.54" x2="401.3" y2="341.54" stroke="#333" stroke-width="0.8"/><line x1="398.7" y1="356.58" x2="401.3" y2="356.58" stroke="#333" stroke-width="0.8"/><line x1="398.7" y1="371.62" x2="401.3" y2="371.62" stroke="#333" stroke-width="0.8"/><line x1="398.7" y1="386.66" x2="401.3" y2="386.66" stroke="#333" stroke-width="0.8"/><line x1="398.7" y1="401.7" x2="401.3" y2="401.7" stroke="#333" stroke-width="0.8"/><line x1="412.3" y1="409.2" x2="412.3" y2="411.8" stroke="#333" stroke-width="0.8"/><text x="412.3" y="420.8" font-size="10.1" fill="#1a1a1a" stroke="#1a1a1a" stroke-width="0.22" text-anchor="middle">40</text><line x1="459.1" y1="409.2" x2="459.1" y2="411.8" stroke="#333" stroke-width="0.8"/><text x="459.1" y="420.8" font-size="10.1" fill="#1a1a1a" stroke="#1a1a1a" stroke-width="0.22" text-anchor="middle">20</text><line x1="505.9" y1="409.2" x2="505.9" y2="411.8" stroke="#333" stroke-width="0.8"/><text x="505.9" y="420.8" font-size="10.1" fill="#1a1a1a" stroke="#1a1a1a" stroke-width="0.22" text-anchor="middle">0</text><line x1="552.7" y1="409.2" x2="552.7" y2="411.8" stroke="#333" stroke-width="0.8"/><text x="552.7" y="420.8" font-size="10.1" fill="#1a1a1a" stroke="#1a1a1a" stroke-width="0.22" text-anchor="middle">20</text><line x1="599.5" y1="409.2" x2="599.5" y2="411.8" stroke="#333" stroke-width="0.8"/><text x="599.5" y="420.8" font-size="10.1" fill="#1a1a1a" stroke="#1a1a1a" stroke-width="0.22" text-anchor="middle">40</text><line x1="646.3" y1="409.2" x2="646.3" y2="411.8" stroke="#333" stroke-width="0.8"/><text x="646.3" y="420.8" font-size="10.1" fill="#1a1a1a" stroke="#1a1a1a" stroke-width="0.22" text-anchor="middle">60</text><text x="528.3" y="431.3" font-size="9.5" fill="#1a1a1a" stroke="#1a1a1a" stroke-width="0.22" text-anchor="middle">% of input</text><text x="511.85" y="348.34" font-size="12.75" fill="#111" stroke="#111" stroke-width="0.35">*</text><text x="581.85" y="363.38" font-size="12.75" fill="#111" stroke="#111" stroke-width="0.35">*</text><text x="587.15" y="363.38" font-size="12.75" fill="#111" stroke="#111" stroke-width="0.35">*</text><text x="592.45" y="363.38" font-size="12.75" fill="#111" stroke="#111" stroke-width="0.35">*</text><text x="513.85" y="378.42" font-size="12.75" fill="#111" stroke="#111" stroke-width="0.35">*</text><text x="511.45" y="393.46" font-size="12.75" fill="#111" stroke="#111" stroke-width="0.35">*</text>
<text x="124.6" y="254.8" font-size="10.6" fill="#111" stroke="#111" stroke-width="0.22" text-anchor="end">isocortex</text>
<text x="124.6" y="269.84" font-size="10.6" fill="#111" stroke="#111" stroke-width="0.22" text-anchor="end">olfactory areas</text>
<text x="124.6" y="284.88" font-size="10.6" fill="#111" stroke="#111" stroke-width="0.22" text-anchor="end">hippocampal formation</text>
<text x="124.6" y="299.92" font-size="10.6" fill="#111" stroke="#111" stroke-width="0.22" text-anchor="end">cortical subplate</text>
<text x="124.6" y="314.96" font-size="10.6" fill="#111" stroke="#111" stroke-width="0.22" text-anchor="end">striatum</text>
<text x="124.6" y="330" font-size="10.6" fill="#111" stroke="#111" stroke-width="0.22" text-anchor="end">pallidum</text>
<text x="124.6" y="345.04" font-size="10.6" fill="#111" stroke="#111" stroke-width="0.22" text-anchor="end">thalamus</text>
<text x="124.6" y="360.08" font-size="10.6" fill="#111" stroke="#111" stroke-width="0.22" text-anchor="end">hypothalamus</text>
<text x="124.6" y="375.12" font-size="10.6" fill="#111" stroke="#111" stroke-width="0.22" text-anchor="end">midbrain</text>
<text x="124.6" y="390.16" font-size="10.6" fill="#111" stroke="#111" stroke-width="0.22" text-anchor="end">pons</text>
<text x="124.6" y="405.2" font-size="10.6" fill="#111" stroke="#111" stroke-width="0.22" text-anchor="end">medulla</text>
<text x="236.6" y="239.7" font-size="9.6" fill="#111" stroke="#111" stroke-width="0.22" text-anchor="middle">viral injection side</text>
<text x="501.3" y="239.5" font-size="9.6" fill="#111" stroke="#111" stroke-width="0.22" text-anchor="middle">contralateral side</text>
<rect x="306.5" y="251.6" width="20.6" height="9.4" fill="#fff" stroke="#ff1414" stroke-width="1.1"/>
<rect x="306.5" y="269.4" width="20.6" height="9.4" fill="#fff" stroke="#26249c" stroke-width="1.1"/>
<text x="332.7" y="260.9" font-size="12" fill="#111"><tspan font-size="6.8" dy="-4.4">TN</tspan><tspan dy="4.4">SST</tspan></text>
<text x="332.7" y="278.6" font-size="12" fill="#111" stroke="#111" stroke-width="0.22">AgRP</text>
<rect x="570.7" y="251.6" width="20.6" height="9.4" fill="#fff" stroke="#ff1414" stroke-width="1.1"/>
<rect x="570.7" y="269.4" width="20.6" height="9.4" fill="#fff" stroke="#26249c" stroke-width="1.1"/>
<text x="596.9" y="260.9" font-size="12" fill="#111"><tspan font-size="6.8" dy="-4.4">TN</tspan><tspan dy="4.4">SST</tspan></text>
<text x="596.9" y="278.6" font-size="12" fill="#111" stroke="#111" stroke-width="0.22">AgRP</text>
<text x="3" y="239.9" font-size="13.8" fill="#111" font-weight="bold">b</text>
</g>
<g id="pies">
<circle cx="73.5" cy="493.7" r="51" fill="#fff"/><path d="M73.5 493.7L73.5 442.7A51 51 0 0 1 90.17 445.5Z" fill="#f7a600" stroke="#1a1a1a" stroke-width="1.3" stroke-linejoin="round"/><path d="M73.5 493.7L90.17 445.5A51 51 0 0 1 94.05 447.02Z" fill="#26245e" stroke="#1a1a1a" stroke-width="1.3" stroke-linejoin="round"/><path d="M73.5 493.7L94.05 447.02A51 51 0 1 1 46.44 536.93Z" fill="#6ba42b" stroke="#1a1a1a" stroke-width="1.3" stroke-linejoin="round"/><circle cx="73.5" cy="493.7" r="51" fill="none" stroke="#1a1a1a" stroke-width="1.3"/>
<line x1="73.5" y1="493.7" x2="73.5" y2="442.7" stroke="#1a1a1a" stroke-width="1.3"/>
<text x="47.6" y="488.2" font-size="8.5" fill="#222" stroke="#222" stroke-width="0.22" text-anchor="middle">41.1%</text>
<text x="48.2" y="498.9" font-size="8.5" fill="#222" stroke="#222" stroke-width="0.22" text-anchor="middle">negative</text>
<text x="92.2" y="515.6" font-size="8.5" fill="#fff" stroke="#fff" stroke-width="0.22" text-anchor="middle">52.3%</text>
<text transform="translate(82.8 455.1) rotate(-79)" font-size="8.8" text-anchor="middle" fill="#2a2a2a">5.3%</text>
<text transform="translate(97.6 461.2) rotate(-60)" font-size="8.4" text-anchor="middle" fill="#2a2f66">1.3%</text>
<rect x="25.4" y="546.8" width="9.2" height="8.4" fill="#6ba42b" stroke="#151515" stroke-width="1.1"/><text x="38" y="553.6" font-size="9" fill="#222" stroke="#222" stroke-width="0.22">Drd1</text><rect x="67.2" y="546.8" width="9.2" height="8.4" fill="#26245e" stroke="#151515" stroke-width="1.1"/><text x="79.2" y="553.6" font-size="9" fill="#222" stroke="#222" stroke-width="0.22">Drd2</text><rect x="107.3" y="546.8" width="9.2" height="8.4" fill="#f7a600" stroke="#151515" stroke-width="1.1"/><text x="119.4" y="553.6" font-size="9" fill="#222" stroke="#222" stroke-width="0.22">both</text>
<text x="3.3" y="452.4" font-size="13.8" fill="#111" font-weight="bold">d</text>
<circle cx="418.3" cy="493.7" r="51" fill="#fff"/><path d="M418.3 493.7L418.3 442.7A51 51 0 0 1 468.57 485.09Z" fill="#f7a600" stroke="#1a1a1a" stroke-width="1.3" stroke-linejoin="round"/><path d="M418.3 493.7L468.57 485.09A51 51 0 0 1 468.46 502.94Z" fill="#26245e" stroke="#1a1a1a" stroke-width="1.3" stroke-linejoin="round"/><path d="M418.3 493.7L468.46 502.94A51 51 0 0 1 367.3 494.02Z" fill="#6ba42b" stroke="#1a1a1a" stroke-width="1.3" stroke-linejoin="round"/><circle cx="418.3" cy="493.7" r="51" fill="none" stroke="#1a1a1a" stroke-width="1.3"/>
<line x1="418.3" y1="493.7" x2="418.3" y2="442.7" stroke="#1a1a1a" stroke-width="1.3"/>
<text x="439.8" y="479.9" font-size="8.5" fill="#222" stroke="#222" stroke-width="0.22" text-anchor="middle">22.3%</text>
<text x="455.4" y="498.2" font-size="8.5" fill="#fff" stroke="#fff" stroke-width="0.22" text-anchor="middle">5.6%</text>
<text x="396.3" y="515.4" font-size="8.5" fill="#fff" stroke="#fff" stroke-width="0.22" text-anchor="middle">47.0%</text>
<text x="388.5" y="477.7" font-size="8.5" fill="#222" stroke="#222" stroke-width="0.22" text-anchor="middle">25.1%</text>
<text x="392.5" y="488.6" font-size="8.5" fill="#222" stroke="#222" stroke-width="0.22" text-anchor="middle">negative</text>
<rect x="364.6" y="548.3" width="9.2" height="8.4" fill="#6ba42b" stroke="#151515" stroke-width="1.1"/><text x="375.5" y="555.7" font-size="9" fill="#222" stroke="#222" stroke-width="0.22">Chrm1</text><rect x="405.9" y="548.3" width="9.2" height="8.4" fill="#26245e" stroke="#151515" stroke-width="1.1"/><text x="416.4" y="555.7" font-size="9" fill="#222" stroke="#222" stroke-width="0.22">Chrm2</text><rect x="446.6" y="548.3" width="9.2" height="8.4" fill="#f7a600" stroke="#151515" stroke-width="1.1"/><text x="458.1" y="555.7" font-size="9" fill="#222" stroke="#222" stroke-width="0.22">both</text>
<text x="365.3" y="452" font-size="13.8" fill="#111" font-weight="bold">f</text>
<circle cx="55.6" cy="617.1" r="41.6" fill="#fff"/><path d="M55.6 617.1L55.6 575.5A41.6 41.6 0 0 1 65.49 576.69Z" fill="#5a5ac6" stroke="#1a1a1a" stroke-width="1.2" stroke-linejoin="round"/><circle cx="55.6" cy="617.1" r="41.6" fill="none" stroke="#1a1a1a" stroke-width="1.2"/>
<text x="53.4" y="625.5" font-size="6.9" fill="#222" stroke="#222" stroke-width="0.22" text-anchor="middle">3.82%, Drd2+</text>
<text x="53.4" y="635.1" font-size="6.9" fill="#222" stroke="#222" stroke-width="0.22" text-anchor="middle">96.18%, Drd2 -</text>
<circle cx="142" cy="617.1" r="41.6" fill="#fff"/><path d="M142 617.1L142 575.5A41.6 41.6 0 0 1 145.34 575.63Z" fill="#2fd02f" stroke="#1a1a1a" stroke-width="1.2" stroke-linejoin="round"/><circle cx="142" cy="617.1" r="41.6" fill="none" stroke="#1a1a1a" stroke-width="1.2"/>
<text x="146" y="626.4" font-size="6.9" fill="#222" stroke="#222" stroke-width="0.22" text-anchor="middle">1.28%, Drd1+</text>
<text x="144.5" y="635.6" font-size="6.9" fill="#222" stroke="#222" stroke-width="0.22" text-anchor="middle">98.72%, Drd1-</text>
<text x="7.3" y="583.1" font-size="13.8" fill="#111" font-weight="bold">e</text>
<circle cx="446.9" cy="618" r="43.8" fill="#fff"/><path d="M446.9 618L446.9 574.2A43.8 43.8 0 0 1 448.94 574.25Z" fill="#5a2c2c" stroke="#1a1a1a" stroke-width="1.2" stroke-linejoin="round"/><path d="M446.9 618L448.94 574.25A43.8 43.8 0 0 1 452.74 574.59Z" fill="#2fd02f" stroke="#1a1a1a" stroke-width="1.2" stroke-linejoin="round"/><path d="M446.9 618L452.74 574.59A43.8 43.8 0 0 1 456.43 575.25Z" fill="#5a5ac6" stroke="#1a1a1a" stroke-width="1.2" stroke-linejoin="round"/><circle cx="446.9" cy="618" r="43.8" fill="none" stroke="#1a1a1a" stroke-width="1.2"/>
<text x="408.8" y="621.5" font-size="7.3" fill="#222" stroke="#222" stroke-width="0.22">0.74%, Chrm1+/Chrm2+</text>
<text x="408.8" y="630.9" font-size="7.3" fill="#222" stroke="#222" stroke-width="0.22">1.39%, Chrm1+</text>
<text x="408.8" y="641" font-size="7.3" fill="#222" stroke="#222" stroke-width="0.22">1.36%, Chrm2+</text>
<text x="420.4" y="651.4" font-size="7.3" fill="#222" stroke="#222" stroke-width="0.22">96.51%, -/-</text>
<text x="394.8" y="581.8" font-size="13.8" fill="#111" font-weight="bold">g</text>
</g>
<g id="images">
<defs><filter id="b03" x="-5%" y="-5%" width="110%" height="110%"><feGaussianBlur stdDeviation="0.5"/></filter><filter id="b05" x="-5%" y="-5%" width="110%" height="110%"><feGaussianBlur stdDeviation="0.6"/></filter><filter id="b1" x="-10%" y="-10%" width="120%" height="120%"><feGaussianBlur stdDeviation="1.2"/></filter><filter id="b2" x="-20%" y="-20%" width="140%" height="140%"><feGaussianBlur stdDeviation="2.4"/></filter><filter id="b4" x="-30%" y="-30%" width="160%" height="160%"><feGaussianBlur stdDeviation="4"/></filter><filter id="nzG" x="0" y="0" width="100%" height="100%" color-interpolation-filters="sRGB"><feTurbulence type="fractalNoise" baseFrequency="0.3" numOctaves="2" seed="3"/><feColorMatrix type="matrix" values="0 0 0 0 0.24 0 0 0 0 0.39 0 0 0 0 0.13 1.6 0 0 0 -0.78"/></filter><filter id="nzY" x="0" y="0" width="100%" height="100%" color-interpolation-filters="sRGB"><feTurbulence type="fractalNoise" baseFrequency="0.28" numOctaves="2" seed="9"/><feColorMatrix type="matrix" values="0 0 0 0 0.43 0 0 0 0 0.33 0 0 0 0 0.1 1.6 0 0 0 -0.75"/></filter><filter id="nzB" x="0" y="0" width="100%" height="100%" color-interpolation-filters="sRGB"><feTurbulence type="fractalNoise" baseFrequency="0.32" numOctaves="2" seed="5"/><feColorMatrix type="matrix" values="0 0 0 0 0.24 0 0 0 0 0.2 0 0 0 0 0.57 2.3 0 0 0 -1.15"/></filter><filter id="nzB2" x="0" y="0" width="100%" height="100%" color-interpolation-filters="sRGB"><feTurbulence type="fractalNoise" baseFrequency="0.32" numOctaves="2" seed="12"/><feColorMatrix type="matrix" values="0 0 0 0 0.23 0 0 0 0 0.19 0 0 0 0 0.55 2.3 0 0 0 -1.15"/></filter><filter id="nzK" x="0" y="0" width="100%" height="100%" color-interpolation-filters="sRGB"><feTurbulence type="fractalNoise" baseFrequency="0.22" numOctaves="2" seed="21"/><feColorMatrix type="matrix" values="0 0 0 0 0 0 0 0 0 0 0 0 0 0 0 1.5 0 0 0 -0.66"/></filter><clipPath id="tc1"><path d="M0 0H103V20.5C95 28 82 38.5 74.5 46.7C69 55 64 72 59.7 81L50 101.6H0Z"/></clipPath><clipPath id="clp1"><rect x="0" y="0" width="103" height="101.6"/></clipPath><clipPath id="tc2"><path d="M0 0H103V20.5C95 28 82 38.5 74.5 46.7C69 55 64 72 59.7 81L50 101.6H0Z"/></clipPath><clipPath id="clp2"><rect x="0" y="0" width="102.3" height="101.6"/></clipPath><clipPath id="tc3"><path d="M0 0H103.2V30.3C99 40 90 56 83.5 67C76 77 62 87 49 93L39 101.6H0Z"/></clipPath><clipPath id="clp3"><rect x="0" y="0" width="103.2" height="101.6"/></clipPath><clipPath id="tc4"><path d="M0 0H103.2V30.3C99 40 90 56 83.5 67C76 77 62 87 49 93L39 101.6H0Z"/></clipPath><clipPath id="clp4"><rect x="0" y="0" width="102.6" height="101.6"/></clipPath><clipPath id="tc5"><polygon points="0,0 39.3,0 39.8,30 39.5,46 34,56 29,63 26,72 12,70 0,73"/><polygon points="43,0 55,3 67,7 78,13 86.7,19.5 86.7,86.5 60,86.5 57,74 52,63 46,55 42.6,46 42.3,30"/></clipPath><clipPath id="clp5"><rect x="0" y="0" width="86.7" height="86.5"/></clipPath><clipPath id="tc6"><polygon points="0,26 36,30 40,50 48,50 54,38 86.7,36 86.7,60 70,66 56,72 44,76 32,72 20,64 0,66"/></clipPath><clipPath id="clp6"><rect x="0" y="0" width="86.7" height="86.5"/></clipPath><clipPath id="tc7"><polygon points="0,0 86.7,0 86.7,86.5 14,86.5 10,72 0,66"/></clipPath><clipPath id="clp7"><rect x="0" y="0" width="86.7" height="86.5"/></clipPath><clipPath id="tc8"><polygon points="0,34 40,26 50,40 87.6,24 87.6,86.5 0,86.5"/></clipPath><clipPath id="clp8"><rect x="0" y="0" width="87.6" height="86.5"/></clipPath></defs>
<g transform="translate(149.1 451.1)"><g clip-path="url(#clp1)"><rect width="103" height="101.6" fill="#050503"/><path d="M0 0H103V20.5C95 28 82 38.5 74.5 46.7C69 55 64 72 59.7 81L50 101.6H0Z" fill="#23270f" stroke="#23270f" stroke-width="9" opacity="0.55" filter="url(#b1)"/><path d="M0 0H103V20.5C95 28 82 38.5 74.5 46.7C69 55 64 72 59.7 81L50 101.6H0Z" fill="#23270f" filter="url(#b05)"/><polygon points="0,0 56,0 50,4 36,6 26,12 12,18 0,24" fill="#1c210d" opacity="0.7" filter="url(#b1)"/><g clip-path="url(#tc1)"><rect width="103" height="101.6" filter="url(#nzG)"/><rect width="103" height="101.6" filter="url(#nzK)"/></g><polygon points="27,11 36,5.5 50,3.2 52,8 41,10.8 31,15.5" fill="#050503" filter="url(#b05)"/><polygon points="0,23 12,18.5 24,13.5 29,11 31,14 25,18.5 14,24 0,30" fill="#050604" opacity="0.9" filter="url(#b05)"/><path d="M103 20.5C95 28 82 38.5 74.5 46.7C69 55 64 72 59.7 81L50 101.6" fill="none" stroke="#3a5520" stroke-width="1.3" opacity="0.8" filter="url(#b05)"/><g filter="url(#b03)"><g fill="#ffa020"><ellipse cx="73.1" cy="18.1" rx="1.18" ry="1.92"/><ellipse cx="89.9" cy="0.7" rx="1.47" ry="0.9"/><ellipse cx="77.3" cy="22" rx="1.23" ry="0.76"/><circle cx="74" cy="23.4" r="0.94"/><circle cx="75.3" cy="9" r="1.3"/><circle cx="77.5" cy="15.3" r="1.23"/><circle cx="77.1" cy="19.9" r="1.3"/><ellipse cx="52.6" cy="46.8" rx="1.05" ry="1.71"/><circle cx="60.5" cy="48.4" r="1.05"/><circle cx="55" cy="54.9" r="1.19"/><circle cx="61.1" cy="50.1" r="1.42"/><ellipse cx="44" cy="42.5" rx="1.18" ry="0.73"/><circle cx="55.1" cy="53.7" r="1.51"/><ellipse cx="49.5" cy="54.2" rx="1.85" ry="1.14"/></g><g fill="#ff7a14"><circle cx="73.6" cy="28.5" r="1.04"/><circle cx="68.4" cy="28.1" r="1.06"/><ellipse cx="71" cy="18.5" rx="1.12" ry="0.69"/><circle cx="76.5" cy="7.6" r="1.09"/><ellipse cx="72.4" cy="12.3" rx="1.49" ry="0.92"/><ellipse cx="78.5" cy="16.3" rx="0.82" ry="1.34"/><ellipse cx="66.1" cy="24.4" rx="1.33" ry="0.82"/><circle cx="58.7" cy="58.3" r="1.5"/><circle cx="47.3" cy="47.1" r="0.89"/><ellipse cx="62.4" cy="43.6" rx="1.16" ry="1.89"/></g><g fill="#ff8a18"><ellipse cx="69.3" cy="29.5" rx="0.81" ry="1.32"/><ellipse cx="72.8" cy="22.9" rx="0.92" ry="1.5"/><circle cx="74.6" cy="38.7" r="1.18"/><circle cx="81.1" cy="17.9" r="0.89"/><circle cx="61.4" cy="47.1" r="1.54"/></g><g fill="#ff5a10"><circle cx="76.1" cy="8.9" r="1.42"/><ellipse cx="74" cy="25.6" rx="1.73" ry="1.07"/><circle cx="82.4" cy="8.7" r="1.43"/><ellipse cx="70.7" cy="27.7" rx="1.24" ry="0.76"/><circle cx="77" cy="15.3" r="1.13"/><circle cx="75.4" cy="7.1" r="1.47"/><circle cx="50.5" cy="38.8" r="1.54"/><ellipse cx="65.9" cy="63.7" rx="1.82" ry="1.12"/><ellipse cx="50.9" cy="64.1" rx="0.94" ry="1.53"/><ellipse cx="57.2" cy="41.5" rx="1.81" ry="1.12"/></g><g fill="#ff6a10"><circle cx="75.1" cy="21" r="0.9"/><circle cx="68.2" cy="16.2" r="1.14"/><ellipse cx="69" cy="15.2" rx="0.86" ry="1.4"/><ellipse cx="86.9" cy="23.7" rx="0.85" ry="1.37"/><ellipse cx="71.9" cy="35.5" rx="1.23" ry="0.76"/><ellipse cx="91.5" cy="11.9" rx="1" ry="1.63"/><ellipse cx="65.6" cy="46.7" rx="0.75" ry="1.23"/><ellipse cx="70.5" cy="43.4" rx="1.11" ry="1.8"/><circle cx="62.8" cy="49.9" r="1.32"/></g><g fill="#f8b428"><ellipse cx="74.9" cy="23.5" rx="0.89" ry="1.44"/><ellipse cx="74.1" cy="16.7" rx="0.92" ry="1.49"/><ellipse cx="65.1" cy="57.7" rx="1.48" ry="0.91"/><circle cx="47.2" cy="47.3" r="0.99"/><ellipse cx="56.7" cy="45.8" rx="1.74" ry="1.07"/><ellipse cx="45.5" cy="48.7" rx="1.54" ry="0.95"/></g><g fill="#ff5512"><ellipse cx="59.6" cy="49.5" rx="1.03" ry="1.67"/><circle cx="68.2" cy="43.3" r="1.39"/><ellipse cx="62" cy="58.9" rx="1.13" ry="1.83"/><ellipse cx="56.6" cy="38.6" rx="1.03" ry="1.67"/><ellipse cx="48.7" cy="56.3" rx="1.55" ry="0.95"/><ellipse cx="50" cy="66.7" rx="1.92" ry="1.18"/><circle cx="41.7" cy="61.3" r="1.23"/><ellipse cx="36.6" cy="79.6" rx="1.01" ry="1.63"/><ellipse cx="39.8" cy="57.7" rx="1.57" ry="0.96"/><circle cx="45.1" cy="49" r="1.26"/><circle cx="49.1" cy="47.4" r="1.17"/><ellipse cx="27" cy="85.2" rx="1.98" ry="1.22"/><circle cx="28.8" cy="84.8" r="1.52"/><circle cx="33.3" cy="49.7" r="1.28"/><circle cx="24.2" cy="85.5" r="1.23"/><circle cx="6.1" cy="70.4" r="1.39"/></g><g fill="#e8300c"><circle cx="60.8" cy="56.5" r="1.35"/><ellipse cx="48.7" cy="54" rx="1.24" ry="0.76"/><circle cx="57.3" cy="38.8" r="1.03"/><ellipse cx="73.4" cy="44.9" rx="1.16" ry="0.71"/><circle cx="50.5" cy="44.3" r="1.25"/><ellipse cx="63.5" cy="48.6" rx="1.2" ry="1.96"/><ellipse cx="32.4" cy="61.4" rx="1.94" ry="1.2"/><ellipse cx="41.4" cy="68.3" rx="0.88" ry="1.44"/><ellipse cx="51.3" cy="61.6" rx="1.05" ry="1.71"/><circle cx="46.1" cy="57.9" r="1.08"/><circle cx="41" cy="56.4" r="1.14"/><circle cx="10.3" cy="68.4" r="1.45"/><ellipse cx="28.1" cy="76.3" rx="0.98" ry="1.59"/><circle cx="19.6" cy="82.9" r="1.35"/><ellipse cx="44.2" cy="87" rx="0.83" ry="1.35"/><ellipse cx="8.2" cy="34.6" rx="0.85" ry="1.38"/><ellipse cx="45.5" cy="52.9" rx="1.63" ry="1"/><circle cx="18.9" cy="46.9" r="1.52"/><circle cx="18.8" cy="71.1" r="1.51"/><ellipse cx="11.3" cy="99.1" rx="1.2" ry="1.95"/><circle cx="27.3" cy="42.1" r="0.96"/></g><g fill="#ff4a18"><circle cx="46.5" cy="50.5" r="1.46"/><ellipse cx="43.1" cy="65.4" rx="1.83" ry="1.12"/><circle cx="43.9" cy="67.6" r="1.06"/><ellipse cx="45.4" cy="68.4" rx="1.12" ry="0.69"/><ellipse cx="41.7" cy="71" rx="1.18" ry="0.73"/><ellipse cx="25.3" cy="80.8" rx="1.28" ry="0.79"/><circle cx="15.1" cy="44.2" r="1.11"/><ellipse cx="10.5" cy="86.9" rx="0.7" ry="1.14"/><circle cx="43.6" cy="45.9" r="1.02"/><circle cx="44.9" cy="66.5" r="1.02"/><circle cx="31.6" cy="99" r="1.16"/><circle cx="30" cy="99.5" r="1.26"/></g><g fill="#ff3a10"><ellipse cx="66.7" cy="48.3" rx="1.99" ry="1.22"/><ellipse cx="55.2" cy="34.2" rx="1.36" ry="0.84"/><ellipse cx="64" cy="40.8" rx="1.85" ry="1.14"/><ellipse cx="46.8" cy="64.4" rx="1.16" ry="1.88"/><circle cx="62.2" cy="44.4" r="0.92"/><circle cx="52.1" cy="71" r="1.1"/><circle cx="41" cy="67.2" r="1"/><circle cx="30.6" cy="55.8" r="1.45"/><ellipse cx="39" cy="61" rx="1.22" ry="1.98"/><circle cx="30.2" cy="70.6" r="1.44"/><ellipse cx="6" cy="47.5" rx="0.82" ry="1.34"/><ellipse cx="45.8" cy="80.1" rx="1.46" ry="0.9"/><ellipse cx="36.8" cy="89.8" rx="1.22" ry="0.75"/><circle cx="5.1" cy="62.8" r="1.05"/><ellipse cx="32.3" cy="95.1" rx="0.93" ry="1.52"/><ellipse cx="14.1" cy="68.3" rx="1.22" ry="0.75"/></g><g fill="#f03010"><ellipse cx="53.3" cy="40.9" rx="0.81" ry="1.32"/><circle cx="60.6" cy="30.3" r="1.45"/><ellipse cx="42.9" cy="58.4" rx="1.81" ry="1.12"/><circle cx="47" cy="78.7" r="1.24"/><circle cx="38.5" cy="67.9" r="0.9"/><circle cx="29.4" cy="90.4" r="0.99"/><circle cx="52.2" cy="71.5" r="1.07"/><circle cx="37.2" cy="76.2" r="0.91"/><circle cx="24.5" cy="75.9" r="1.12"/><circle cx="33.3" cy="55.9" r="0.96"/><circle cx="2.3" cy="85.8" r="1.49"/><circle cx="28.8" cy="80.8" r="1.44"/><ellipse cx="25" cy="41.4" rx="1.55" ry="0.96"/><circle cx="11.3" cy="56.6" r="1.3"/><circle cx="3.6" cy="99.9" r="1.12"/><circle cx="1.2" cy="62.5" r="1.09"/><ellipse cx="27.8" cy="66.3" rx="0.79" ry="1.28"/></g><g fill="#4a8c2c" opacity="0.8"><ellipse cx="33.4" cy="74" rx="0.33" ry="0.54"/><circle cx="33" cy="37.9" r="0.51"/><circle cx="59.9" cy="65.1" r="0.5"/><circle cx="6" cy="63.8" r="0.64"/><ellipse cx="26.2" cy="87.5" rx="0.3" ry="0.48"/><circle cx="24.1" cy="6.7" r="0.42"/><circle cx="65.1" cy="48.4" r="0.61"/><ellipse cx="30.7" cy="84.6" rx="0.43" ry="0.71"/><ellipse cx="53.2" cy="50.7" rx="0.53" ry="0.33"/><circle cx="64.9" cy="45.1" r="0.35"/><ellipse cx="41.5" cy="22.6" rx="0.35" ry="0.56"/><circle cx="35" cy="21.5" r="0.59"/><circle cx="22.9" cy="59.9" r="0.37"/><circle cx="33.7" cy="86.4" r="0.38"/><ellipse cx="91.8" cy="22.2" rx="0.45" ry="0.74"/><circle cx="58.3" cy="43" r="0.41"/><circle cx="10.1" cy="57.8" r="0.48"/><circle cx="19.2" cy="32.8" r="0.48"/><circle cx="62.6" cy="10" r="0.45"/><ellipse cx="80" cy="23.3" rx="0.5" ry="0.3"/><ellipse cx="95" cy="14.1" rx="0.49" ry="0.3"/><circle cx="57.6" cy="68.5" r="0.43"/><ellipse cx="74.9" cy="29.5" rx="0.43" ry="0.7"/><circle cx="32.6" cy="53.6" r="0.53"/><ellipse cx="40.5" cy="56.5" rx="0.57" ry="0.35"/><circle cx="7.3" cy="5" r="0.45"/><circle cx="19" cy="53" r="0.61"/></g><g fill="#3f7a26" opacity="0.8"><ellipse cx="53.2" cy="53.8" rx="0.6" ry="0.37"/><ellipse cx="75.6" cy="40.8" rx="0.5" ry="0.82"/><ellipse cx="23.1" cy="22.4" rx="0.47" ry="0.76"/><ellipse cx="64.2" cy="4.7" rx="0.54" ry="0.33"/><ellipse cx="49.2" cy="80.1" rx="0.78" ry="0.48"/><circle cx="10.8" cy="73.9" r="0.36"/><ellipse cx="95.9" cy="6.6" rx="0.49" ry="0.3"/><circle cx="18.6" cy="24.4" r="0.6"/><ellipse cx="18.9" cy="43.4" rx="0.46" ry="0.28"/><ellipse cx="8.6" cy="79.8" rx="0.51" ry="0.31"/><ellipse cx="55.4" cy="22.8" rx="0.48" ry="0.77"/><circle cx="43.6" cy="82.6" r="0.45"/><ellipse cx="71.4" cy="47" rx="0.84" ry="0.52"/></g></g></g><text x="3.9" y="8.9" font-size="10.6" fill="#25ad45" stroke="#25ad45" stroke-width="0.12">Drd1</text><text x="3.7" y="22" font-size="10.6" fill="#e6281c" stroke="#e6281c" stroke-width="0.12">SST</text><rect x="75.6" y="96" width="12.8" height="1.5" fill="#fff"/><text x="84" y="93.6" font-size="7.4" fill="#fff" text-anchor="middle">100µm</text></g>
<g transform="translate(254.1 451.1)"><g clip-path="url(#clp2)"><rect width="102.3" height="101.6" fill="#050503"/><path d="M0 0H103V20.5C95 28 82 38.5 74.5 46.7C69 55 64 72 59.7 81L50 101.6H0Z" fill="#130915" stroke="#130915" stroke-width="9" opacity="0.55" filter="url(#b1)"/><path d="M0 0H103V20.5C95 28 82 38.5 74.5 46.7C69 55 64 72 59.7 81L50 101.6H0Z" fill="#130915" filter="url(#b05)"/><polygon points="0,0 56,0 50,4 36,6 26,12 12,18 0,24" fill="#0f0812" opacity="0.7" filter="url(#b1)"/><g clip-path="url(#tc2)"><rect width="102.3" height="101.6" filter="url(#nzB)"/><rect width="102.3" height="101.6" filter="url(#nzK)"/></g><polygon points="27,11 36,5.5 50,3.2 52,8 41,10.8 31,15.5" fill="#050503" filter="url(#b05)"/><polygon points="0,23 12,18.5 24,13.5 29,11 31,14 25,18.5 14,24 0,30" fill="#050604" opacity="0.9" filter="url(#b05)"/><path d="M103 20.5C95 28 82 38.5 74.5 46.7C69 55 64 72 59.7 81L50 101.6" fill="none" stroke="#241a46" stroke-width="1.3" opacity="0.8" filter="url(#b05)"/><g filter="url(#b03)"><g fill="#ff2040"><ellipse cx="75.7" cy="33.5" rx="0.77" ry="1.25"/><circle cx="66.7" cy="25" r="1.4"/><ellipse cx="70.4" cy="25.5" rx="1.68" ry="1.04"/><circle cx="75.1" cy="15.9" r="1.12"/><ellipse cx="83.4" cy="2.1" rx="1.68" ry="1.03"/><ellipse cx="83.3" cy="21.4" rx="0.93" ry="1.51"/><circle cx="75" cy="28.6" r="0.91"/><circle cx="74.7" cy="2.9" r="1.35"/><circle cx="47.5" cy="53.8" r="1.27"/><ellipse cx="61.6" cy="38" rx="1.68" ry="1.04"/><circle cx="64.3" cy="44.8" r="1.44"/><ellipse cx="56.3" cy="52.5" rx="1.81" ry="1.12"/><circle cx="52" cy="46.3" r="1.28"/><ellipse cx="58.7" cy="37.5" rx="1.18" ry="1.92"/><ellipse cx="44.4" cy="75.9" rx="2.01" ry="1.24"/><ellipse cx="48.5" cy="84.6" rx="1.12" ry="1.82"/><circle cx="54.2" cy="71.5" r="1.22"/><circle cx="22" cy="73.8" r="1.55"/><ellipse cx="9" cy="75.8" rx="0.89" ry="1.44"/><ellipse cx="36.3" cy="53.1" rx="0.75" ry="1.22"/><ellipse cx="34.9" cy="88.5" rx="2.03" ry="1.25"/><circle cx="30.1" cy="71.3" r="1.14"/><circle cx="41.2" cy="98.5" r="1.18"/></g><g fill="#ff3078"><circle cx="74" cy="20.4" r="1.19"/><ellipse cx="73.3" cy="37.8" rx="0.91" ry="1.48"/><circle cx="76.5" cy="9.7" r="1.14"/><circle cx="61.2" cy="21.6" r="1.14"/><circle cx="65" cy="28.9" r="1.24"/><circle cx="80.1" cy="17.7" r="1.36"/><circle cx="78.6" cy="22.7" r="0.91"/><circle cx="76.5" cy="21.9" r="1.18"/><circle cx="52.4" cy="41.8" r="0.91"/><ellipse cx="55.9" cy="46.9" rx="1.82" ry="1.12"/><ellipse cx="60.2" cy="54" rx="1.19" ry="0.73"/></g><g fill="#f01858"><circle cx="77.5" cy="10.9" r="1.17"/><ellipse cx="63.2" cy="12" rx="1.55" ry="0.95"/><circle cx="73.9" cy="26" r="0.96"/><ellipse cx="78.3" cy="20.6" rx="1.05" ry="1.7"/><ellipse cx="59.8" cy="46.5" rx="1.53" ry="0.94"/><ellipse cx="62.7" cy="43" rx="0.98" ry="1.59"/><circle cx="72.2" cy="34.9" r="1.49"/><circle cx="53.9" cy="49.6" r="1.5"/></g><g fill="#ff2060"><ellipse cx="75.3" cy="15.4" rx="1.18" ry="0.73"/><circle cx="66.1" cy="24.2" r="1.43"/><circle cx="47.3" cy="54.3" r="1.15"/><ellipse cx="50.2" cy="56.7" rx="0.98" ry="1.6"/><circle cx="52.3" cy="37.1" r="1.06"/></g><g fill="#ff3050"><ellipse cx="74.8" cy="27.9" rx="0.99" ry="1.6"/><ellipse cx="74.4" cy="21.5" rx="1.31" ry="0.81"/><circle cx="82.2" cy="9.2" r="1.02"/><circle cx="66.3" cy="48.1" r="1.55"/><circle cx="59.7" cy="52.3" r="1.33"/><ellipse cx="52.2" cy="42.9" rx="1.69" ry="1.04"/><circle cx="47.4" cy="38.2" r="1.45"/><ellipse cx="63.2" cy="58" rx="1.96" ry="1.21"/><circle cx="49.9" cy="71.9" r="1.47"/><circle cx="40.4" cy="76.4" r="1.27"/><ellipse cx="39.7" cy="51.5" rx="1.33" ry="0.82"/><ellipse cx="40.4" cy="64.1" rx="0.9" ry="1.46"/><ellipse cx="29.8" cy="59.3" rx="1.29" ry="0.79"/><ellipse cx="48.7" cy="66.8" rx="1.22" ry="0.75"/><circle cx="37.6" cy="67" r="1.5"/><ellipse cx="34.2" cy="43" rx="1.36" ry="0.83"/><circle cx="1.1" cy="67.1" r="1.21"/></g><g fill="#e82070"><ellipse cx="75.4" cy="30.7" rx="1.37" ry="0.85"/><circle cx="80.4" cy="21.4" r="0.94"/><circle cx="67.1" cy="55.2" r="1.09"/><circle cx="55" cy="35.7" r="1.39"/><circle cx="48.2" cy="25.2" r="1.53"/><circle cx="57.9" cy="46.5" r="1.37"/></g><g fill="#e80c28"><ellipse cx="74.1" cy="29.5" rx="1.73" ry="1.07"/><circle cx="82.5" cy="7.1" r="1.22"/><circle cx="71.8" cy="35.2" r="1.31"/><circle cx="80" cy="3.7" r="0.89"/><ellipse cx="56" cy="53.5" rx="1.51" ry="0.93"/><ellipse cx="54.1" cy="23.2" rx="1.97" ry="1.21"/><circle cx="53.5" cy="68.1" r="1.33"/><ellipse cx="62.2" cy="42.8" rx="1.78" ry="1.09"/><ellipse cx="52.2" cy="40.8" rx="1.84" ry="1.13"/><circle cx="74" cy="45.6" r="1.4"/><circle cx="60.7" cy="39" r="1.33"/><circle cx="28.2" cy="67.4" r="1.49"/><ellipse cx="26.2" cy="73.2" rx="1.17" ry="0.72"/><circle cx="42.3" cy="75.6" r="0.96"/><circle cx="24.9" cy="57.2" r="1.3"/><circle cx="43.4" cy="78.8" r="0.97"/><ellipse cx="41.6" cy="73.8" rx="1.24" ry="2.01"/><circle cx="42.5" cy="60.5" r="1.13"/><ellipse cx="33.9" cy="64.8" rx="0.8" ry="1.3"/><ellipse cx="32.8" cy="74" rx="1.52" ry="0.94"/><ellipse cx="42.5" cy="59.2" rx="0.74" ry="1.2"/><circle cx="33.5" cy="44.9" r="0.88"/><circle cx="40.2" cy="86.2" r="1.58"/></g><g fill="#f01030"><ellipse cx="73.5" cy="20.1" rx="1.04" ry="1.69"/><circle cx="66.5" cy="51.1" r="1.08"/><ellipse cx="76" cy="36.7" rx="1.49" ry="0.92"/><ellipse cx="58.4" cy="46.6" rx="1.73" ry="1.07"/><ellipse cx="40.5" cy="41.5" rx="1.22" ry="1.98"/><ellipse cx="53.9" cy="42.1" rx="1.37" ry="0.84"/><ellipse cx="59.8" cy="71" rx="0.91" ry="1.48"/><ellipse cx="39.2" cy="69.3" rx="1.11" ry="1.8"/><ellipse cx="36.9" cy="61.9" rx="0.92" ry="1.5"/><circle cx="26.6" cy="47.7" r="1.05"/><circle cx="54.5" cy="77.6" r="1.37"/><circle cx="23.5" cy="73.8" r="1.22"/><circle cx="4.4" cy="60" r="1.26"/><circle cx="25.2" cy="78.6" r="1.28"/><ellipse cx="12.4" cy="91.8" rx="1.6" ry="0.98"/><circle cx="40.7" cy="35.3" r="0.95"/><circle cx="36.5" cy="57.7" r="1.28"/><circle cx="10.3" cy="59" r="1.5"/><ellipse cx="27.1" cy="92.8" rx="0.72" ry="1.17"/><ellipse cx="25.5" cy="66.7" rx="1.13" ry="0.7"/></g><g fill="#ff1428"><ellipse cx="46.8" cy="47.6" rx="1.84" ry="1.13"/><circle cx="66.1" cy="52.2" r="1.42"/><circle cx="50.5" cy="53" r="0.87"/><ellipse cx="41" cy="48.1" rx="1.17" ry="1.91"/><circle cx="24.8" cy="58.1" r="0.96"/><circle cx="49" cy="83.3" r="1"/><ellipse cx="23.1" cy="66.6" rx="1.06" ry="1.73"/><circle cx="42.8" cy="76.2" r="1.22"/><circle cx="46.5" cy="65.3" r="1.41"/><circle cx="39.8" cy="78.4" r="1.3"/><circle cx="8.8" cy="66.5" r="0.99"/><circle cx="28.3" cy="87" r="1.43"/><ellipse cx="12" cy="39.7" rx="1.44" ry="0.89"/><circle cx="0.4" cy="58.7" r="0.93"/><circle cx="15.9" cy="37.1" r="1.07"/><circle cx="0.2" cy="84.4" r="0.95"/><ellipse cx="7.3" cy="93.9" rx="1.27" ry="2.07"/><circle cx="25.8" cy="67.2" r="0.91"/><circle cx="2.6" cy="74.2" r="1.44"/><ellipse cx="28.2" cy="55.2" rx="1.4" ry="0.86"/><circle cx="1.3" cy="39.6" r="1.07"/><circle cx="33.8" cy="63.1" r="1.42"/><ellipse cx="19.3" cy="79.7" rx="1.26" ry="2.06"/></g><g fill="#5048c0" opacity="0.45"><ellipse cx="10.6" cy="73" rx="1.43" ry="0.88"/><ellipse cx="71.5" cy="20.9" rx="1.34" ry="0.82"/><circle cx="56.6" cy="36.8" r="0.91"/><ellipse cx="15" cy="69" rx="1.52" ry="0.94"/><circle cx="25.6" cy="9.1" r="1.11"/><circle cx="18.6" cy="60.1" r="1.18"/><circle cx="46.6" cy="13.1" r="0.9"/><circle cx="35.6" cy="84.5" r="1.28"/><circle cx="24.4" cy="17.6" r="1.3"/><circle cx="14.3" cy="59" r="1.23"/></g><g fill="#342c88" opacity="0.45"><circle cx="13.3" cy="42.8" r="0.9"/><circle cx="3.5" cy="22.2" r="1.11"/><ellipse cx="18.1" cy="71.4" rx="1.02" ry="1.66"/><circle cx="67.8" cy="42.8" r="1.15"/><ellipse cx="16.9" cy="2.1" rx="1.44" ry="0.88"/><circle cx="1.5" cy="67.9" r="1.01"/><ellipse cx="51.3" cy="45.3" rx="0.89" ry="1.45"/><circle cx="42.8" cy="94" r="1.09"/><circle cx="23.8" cy="27.1" r="1.1"/><circle cx="9.6" cy="98.4" r="0.76"/><ellipse cx="28.1" cy="33.8" rx="1.22" ry="0.75"/><circle cx="26.1" cy="67" r="0.77"/><ellipse cx="20" cy="74.6" rx="1.54" ry="0.95"/><ellipse cx="30.3" cy="78.9" rx="0.67" ry="1.09"/><circle cx="34.1" cy="60.5" r="1"/><circle cx="58.3" cy="65.8" r="0.84"/></g><g fill="#3c34a0" opacity="0.45"><circle cx="86.4" cy="12.6" r="1.03"/><circle cx="36.8" cy="48.9" r="1.08"/><ellipse cx="19" cy="49.1" rx="1.18" ry="0.73"/><circle cx="66.4" cy="2.1" r="1.15"/><circle cx="98.6" cy="2.2" r="1.18"/><ellipse cx="7" cy="8.4" rx="1.65" ry="1.02"/><circle cx="63.3" cy="7.6" r="0.99"/><circle cx="10.3" cy="39.9" r="1.23"/><ellipse cx="79.6" cy="39.7" rx="1.45" ry="0.89"/><circle cx="23.4" cy="65.7" r="1.13"/><ellipse cx="33" cy="21.1" rx="0.69" ry="1.12"/><circle cx="47.6" cy="86.7" r="0.7"/><ellipse cx="28.7" cy="88.3" rx="1.32" ry="0.81"/><circle cx="62.5" cy="52.8" r="0.71"/><circle cx="41.7" cy="38.4" r="0.75"/><ellipse cx="52.5" cy="56.9" rx="0.65" ry="1.05"/><circle cx="68.8" cy="51.3" r="1.02"/><ellipse cx="37.3" cy="83.8" rx="1.57" ry="0.97"/><ellipse cx="3.1" cy="91.5" rx="1.2" ry="0.74"/><ellipse cx="71.1" cy="26.8" rx="0.76" ry="1.24"/><circle cx="44.3" cy="89.4" r="1.23"/><circle cx="62.9" cy="6.9" r="0.8"/><ellipse cx="63.3" cy="51.1" rx="0.97" ry="0.6"/><circle cx="58.4" cy="47.8" r="1.07"/></g><g fill="#40389c" opacity="0.45"><ellipse cx="13.6" cy="17.2" rx="1.02" ry="1.65"/><ellipse cx="73.2" cy="41.9" rx="1.03" ry="1.67"/><circle cx="45" cy="19.4" r="1.25"/><ellipse cx="19" cy="90.7" rx="1.66" ry="1.02"/><ellipse cx="47.1" cy="1.9" rx="0.59" ry="0.96"/><circle cx="9.6" cy="70.8" r="0.92"/><circle cx="50.4" cy="61.8" r="0.77"/><ellipse cx="78.8" cy="30.6" rx="0.99" ry="1.62"/><ellipse cx="6.7" cy="85.2" rx="1.35" ry="0.83"/><ellipse cx="51.5" cy="86.3" rx="1.01" ry="0.62"/><ellipse cx="82.4" cy="23.9" rx="0.59" ry="0.96"/><ellipse cx="75.3" cy="2.6" rx="1.56" ry="0.96"/><ellipse cx="5.3" cy="38" rx="1.17" ry="0.72"/></g><g fill="#4840b8" opacity="0.45"><circle cx="35.1" cy="28.2" r="0.93"/><circle cx="30.9" cy="33.7" r="1.06"/><ellipse cx="16" cy="28.7" rx="0.95" ry="1.55"/><ellipse cx="88" cy="7.9" rx="0.99" ry="0.61"/><circle cx="82.7" cy="10.8" r="0.98"/><ellipse cx="45.8" cy="99.2" rx="1.46" ry="0.9"/><circle cx="43.7" cy="60.4" r="0.94"/><ellipse cx="28.5" cy="3.4" rx="1.68" ry="1.03"/><ellipse cx="73.5" cy="3.1" rx="1.44" ry="0.89"/><circle cx="71.2" cy="29.3" r="1.15"/><circle cx="31.2" cy="73.1" r="1.01"/><ellipse cx="41.7" cy="40.5" rx="1.53" ry="0.94"/></g></g></g><text x="3.5" y="8.9" font-size="10.6" fill="#2f80d0" stroke="#2f80d0" stroke-width="0.12">Drd2</text><text x="3.3" y="22" font-size="10.6" fill="#e6281c" stroke="#e6281c" stroke-width="0.12">SST</text><rect x="75.2" y="96" width="12.8" height="1.5" fill="#fff"/><text x="83.6" y="93.6" font-size="7.4" fill="#fff" text-anchor="middle">100µm</text></g>
<g transform="translate(476.9 450.9)"><g clip-path="url(#clp3)"><rect width="103.2" height="101.6" fill="#050503"/><path d="M0 0H103.2V30.3C99 40 90 56 83.5 67C76 77 62 87 49 93L39 101.6H0Z" fill="#20240c" stroke="#20240c" stroke-width="7" opacity="0.5" filter="url(#b1)"/><path d="M0 0H103.2V30.3C99 40 90 56 83.5 67C76 77 62 87 49 93L39 101.6H0Z" fill="#20240c" filter="url(#b05)"/><g clip-path="url(#tc3)"><rect width="103.2" height="101.6" filter="url(#nzG)"/><rect width="103.2" height="101.6" filter="url(#nzY)"/><rect width="103.2" height="101.6" filter="url(#nzK)"/></g><path d="M103.2 30.3C99 40 90 56 83.5 67C76 77 62 87 49 93L39 101.6" fill="none" stroke="#2c5019" stroke-width="2.2" opacity="0.75" filter="url(#b05)"/><g filter="url(#b03)"><g fill="#ff8a18"><ellipse cx="94.9" cy="26.2" rx="0.89" ry="1.44"/><ellipse cx="83.5" cy="24.8" rx="1.05" ry="1.71"/><circle cx="85.5" cy="21" r="1.24"/><ellipse cx="74.7" cy="32.8" rx="1.05" ry="0.65"/><ellipse cx="71.7" cy="36.4" rx="1.72" ry="1.06"/><circle cx="72.6" cy="48" r="1.02"/><circle cx="72.2" cy="41.6" r="0.75"/><circle cx="71" cy="38.7" r="0.79"/><ellipse cx="56.9" cy="51.5" rx="1.46" ry="0.9"/><circle cx="61.8" cy="52.9" r="1.29"/><circle cx="36.8" cy="79.9" r="1.35"/><ellipse cx="32" cy="73.7" rx="0.62" ry="1"/><ellipse cx="47.1" cy="69.4" rx="1.71" ry="1.05"/><circle cx="20.8" cy="74.9" r="1.49"/><ellipse cx="21.1" cy="78" rx="1.2" ry="0.74"/></g><g fill="#ff6a10"><circle cx="90.2" cy="20.4" r="0.89"/><ellipse cx="84.6" cy="22.9" rx="1.03" ry="1.68"/><ellipse cx="84.1" cy="19" rx="1.5" ry="0.92"/><ellipse cx="92.3" cy="16.5" rx="0.98" ry="1.6"/><circle cx="69.4" cy="39.4" r="1.03"/><circle cx="79.3" cy="37.5" r="1.34"/><ellipse cx="83" cy="23.6" rx="1.02" ry="0.63"/><circle cx="70.8" cy="43" r="0.92"/><ellipse cx="70" cy="47.9" rx="1.12" ry="1.82"/><ellipse cx="67.3" cy="42.3" rx="0.97" ry="1.57"/><circle cx="58.2" cy="51.8" r="0.91"/><ellipse cx="74.9" cy="28" rx="0.62" ry="1"/><ellipse cx="79.7" cy="35" rx="0.67" ry="1.09"/><circle cx="45.3" cy="64.8" r="0.94"/><ellipse cx="59.5" cy="60.2" rx="0.97" ry="1.58"/><ellipse cx="9.6" cy="78.7" rx="1.86" ry="1.14"/><ellipse cx="25" cy="93.5" rx="1.87" ry="1.15"/><circle cx="20.4" cy="75.6" r="1.35"/><ellipse cx="10.8" cy="90.2" rx="1.38" ry="0.85"/></g><g fill="#ff5a10"><ellipse cx="91.7" cy="17.1" rx="0.88" ry="1.43"/><ellipse cx="80.7" cy="26.1" rx="1.74" ry="1.07"/><circle cx="84.2" cy="13.5" r="1.1"/><ellipse cx="61.5" cy="52.1" rx="1.35" ry="0.83"/><ellipse cx="65.6" cy="51.9" rx="1.13" ry="1.84"/><circle cx="70.2" cy="37" r="1"/><ellipse cx="81.7" cy="39.4" rx="1.09" ry="1.76"/><circle cx="69.9" cy="42.5" r="1.13"/><circle cx="66.2" cy="38.2" r="0.85"/><ellipse cx="76.1" cy="32" rx="1.56" ry="0.96"/><circle cx="73.5" cy="42.7" r="1.33"/><circle cx="78.1" cy="30" r="0.89"/><ellipse cx="52.3" cy="68" rx="1.23" ry="0.76"/><circle cx="52.4" cy="52.5" r="0.8"/><circle cx="39.9" cy="63.5" r="1.33"/><circle cx="54.7" cy="63.1" r="1.11"/><ellipse cx="49.8" cy="60.1" rx="1.38" ry="0.85"/><ellipse cx="16.8" cy="79.2" rx="1.48" ry="0.91"/><circle cx="19.5" cy="81.1" r="0.98"/></g><g fill="#ffa020"><circle cx="85.4" cy="22.9" r="1.11"/><circle cx="98.7" cy="17" r="1.34"/><ellipse cx="89.7" cy="18.7" rx="0.67" ry="1.1"/><ellipse cx="60.9" cy="37.9" rx="1.86" ry="1.15"/><circle cx="78.9" cy="48.7" r="0.83"/><circle cx="75.2" cy="51.5" r="1.11"/><ellipse cx="65.9" cy="42" rx="0.7" ry="1.14"/><ellipse cx="68" cy="46.8" rx="0.68" ry="1.1"/><circle cx="37.7" cy="70.2" r="0.89"/><circle cx="54.3" cy="46.8" r="1.1"/><circle cx="54.3" cy="59.7" r="1.15"/><ellipse cx="27.7" cy="72.6" rx="1.51" ry="0.93"/><circle cx="16.5" cy="87.7" r="0.91"/><circle cx="17.5" cy="82.3" r="0.82"/></g><g fill="#f8b428"><ellipse cx="94.9" cy="28.5" rx="1.06" ry="1.72"/><ellipse cx="85.6" cy="25.1" rx="0.97" ry="1.58"/><ellipse cx="82.8" cy="21.7" rx="1.14" ry="0.7"/><ellipse cx="60.1" cy="54.4" rx="1.44" ry="0.89"/><ellipse cx="20.7" cy="74.5" rx="1.37" ry="0.84"/><ellipse cx="46.8" cy="75.5" rx="1.65" ry="1.02"/></g><g fill="#ff7a14"><ellipse cx="71.3" cy="34.9" rx="1.16" ry="1.89"/><circle cx="62.3" cy="53.3" r="1.15"/><ellipse cx="74.4" cy="40.1" rx="1.28" ry="0.79"/><ellipse cx="73.5" cy="41.1" rx="0.95" ry="1.55"/><ellipse cx="78.1" cy="39.4" rx="0.78" ry="1.27"/><circle cx="72.8" cy="40.3" r="1.06"/><ellipse cx="43.8" cy="67.1" rx="1.44" ry="0.88"/><circle cx="53.3" cy="59.3" r="1"/><circle cx="53" cy="64.4" r="1.16"/><ellipse cx="49.4" cy="69.1" rx="0.62" ry="1.01"/><circle cx="7.4" cy="61.8" r="1.38"/><ellipse cx="20.8" cy="78.5" rx="1.4" ry="0.86"/></g><g fill="#e8300c"><circle cx="25.5" cy="88.6" r="1.2"/><circle cx="44.3" cy="69.7" r="0.97"/><ellipse cx="35.1" cy="77.9" rx="1.02" ry="1.65"/><circle cx="16.1" cy="75.1" r="1.26"/><circle cx="15.6" cy="76.2" r="1.25"/><circle cx="11.6" cy="90.6" r="1.42"/></g><g fill="#ff5512"><circle cx="46.5" cy="73.3" r="0.98"/><ellipse cx="33.3" cy="71.9" rx="1.76" ry="1.09"/><ellipse cx="43.9" cy="57.4" rx="0.72" ry="1.17"/><circle cx="54.9" cy="51.4" r="1.15"/><ellipse cx="12.5" cy="91.7" rx="0.77" ry="1.25"/><circle cx="2.9" cy="75.5" r="1.14"/></g><g fill="#ff3a10"><ellipse cx="53.5" cy="69.8" rx="1.19" ry="0.73"/><ellipse cx="47.6" cy="42" rx="0.67" ry="1.09"/><circle cx="37.9" cy="57.3" r="1.22"/><ellipse cx="20" cy="70.3" rx="0.95" ry="1.55"/><ellipse cx="10.1" cy="84.8" rx="0.98" ry="1.59"/><ellipse cx="32.7" cy="27.7" rx="1.01" ry="0.62"/><ellipse cx="46.1" cy="12.9" rx="0.71" ry="1.15"/><circle cx="47.8" cy="7.1" r="0.9"/></g><g fill="#ff4a18"><ellipse cx="50.9" cy="57.9" rx="0.65" ry="1.05"/><ellipse cx="55.1" cy="69.1" rx="0.74" ry="1.2"/><circle cx="23.1" cy="72.7" r="1.31"/><ellipse cx="24.6" cy="69.6" rx="1.06" ry="0.65"/><circle cx="8.3" cy="92.3" r="1.48"/><ellipse cx="47.1" cy="28.5" rx="1.05" ry="0.64"/></g><g fill="#f03010"><circle cx="42" cy="68.3" r="1.32"/><ellipse cx="49.4" cy="62" rx="1.68" ry="1.03"/><circle cx="19.2" cy="79.2" r="0.88"/><circle cx="21.3" cy="70.2" r="1.31"/><ellipse cx="1.3" cy="82.1" rx="1.3" ry="0.8"/></g><g fill="#38d838" opacity="0.9"><ellipse cx="32.9" cy="38.8" rx="0.94" ry="0.58"/><ellipse cx="36.8" cy="49.5" rx="0.52" ry="0.84"/><circle cx="34.2" cy="11.2" r="0.54"/><ellipse cx="35.4" cy="43.9" rx="1.07" ry="0.66"/><ellipse cx="47" cy="28.2" rx="0.52" ry="0.85"/><circle cx="65.9" cy="54.2" r="0.57"/></g><g fill="#50e040" opacity="0.9"><ellipse cx="75.5" cy="38.3" rx="0.41" ry="0.66"/><circle cx="71" cy="45.5" r="0.56"/><circle cx="61.5" cy="27.5" r="0.87"/><circle cx="53.3" cy="16.7" r="0.52"/><circle cx="61.2" cy="53.5" r="0.51"/><ellipse cx="30" cy="40.3" rx="0.84" ry="0.52"/><circle cx="49" cy="16" r="0.59"/></g><g fill="#30c030" opacity="0.9"><circle cx="30.8" cy="6.1" r="0.65"/><ellipse cx="64.8" cy="29.5" rx="0.97" ry="0.6"/><circle cx="32.5" cy="41.8" r="0.79"/><circle cx="58" cy="53.3" r="0.75"/><ellipse cx="37.7" cy="36.4" rx="0.48" ry="0.79"/></g><g fill="#4a8c2c" opacity="0.8"><circle cx="7.4" cy="9.4" r="0.53"/><circle cx="29.3" cy="7.1" r="0.44"/><ellipse cx="93.4" cy="5.9" rx="0.53" ry="0.32"/><circle cx="32.1" cy="48.9" r="0.6"/><circle cx="94.1" cy="7.9" r="0.5"/><circle cx="69.5" cy="59.6" r="0.64"/><ellipse cx="25.7" cy="3.8" rx="0.41" ry="0.66"/><circle cx="59.3" cy="34.5" r="0.5"/><circle cx="94.3" cy="7.5" r="0.46"/><circle cx="57.9" cy="23" r="0.58"/><circle cx="44.6" cy="66.2" r="0.56"/><circle cx="49.3" cy="80.6" r="0.49"/><circle cx="98.3" cy="23" r="0.55"/><circle cx="24.9" cy="31.9" r="0.6"/><circle cx="37.1" cy="45.8" r="0.64"/><circle cx="17.8" cy="40.9" r="0.53"/><ellipse cx="6.9" cy="95.6" rx="0.45" ry="0.73"/><ellipse cx="45.9" cy="20.2" rx="0.28" ry="0.46"/><ellipse cx="67.6" cy="35.4" rx="0.64" ry="0.39"/></g><g fill="#3f7a26" opacity="0.8"><ellipse cx="65.1" cy="6.9" rx="0.84" ry="0.51"/><circle cx="38.6" cy="78.1" r="0.37"/><ellipse cx="43.2" cy="71.3" rx="0.37" ry="0.6"/><circle cx="37.6" cy="56" r="0.4"/><ellipse cx="58" cy="28.2" rx="0.51" ry="0.83"/><circle cx="40.6" cy="36.1" r="0.49"/><circle cx="3.2" cy="93.7" r="0.44"/><ellipse cx="71.1" cy="22.7" rx="0.42" ry="0.69"/><ellipse cx="64.3" cy="1.4" rx="0.51" ry="0.31"/><circle cx="20.4" cy="96.6" r="0.43"/><ellipse cx="29.7" cy="16.3" rx="0.76" ry="0.47"/><circle cx="71.8" cy="67.8" r="0.5"/><ellipse cx="41.8" cy="68.7" rx="0.41" ry="0.66"/><ellipse cx="71.8" cy="18.2" rx="0.42" ry="0.68"/><ellipse cx="11.5" cy="30.9" rx="0.37" ry="0.61"/><ellipse cx="81.1" cy="11.4" rx="0.46" ry="0.75"/><circle cx="27.3" cy="61.1" r="0.62"/><ellipse cx="69.1" cy="57" rx="0.59" ry="0.37"/><ellipse cx="3.4" cy="99.5" rx="0.36" ry="0.58"/><circle cx="74.4" cy="45" r="0.39"/><circle cx="7.2" cy="34.2" r="0.44"/></g></g></g><text x="-0.4" y="9.2" font-size="10.6" fill="#2db86c" stroke="#2db86c" stroke-width="0.12">Chrm1</text><text x="10.6" y="22.4" font-size="10.6" fill="#e6281c" stroke="#e6281c" stroke-width="0.12">SST</text><rect x="79.4" y="94.6" width="13.6" height="1.5" fill="#fff"/><text x="88" y="92.5" font-size="7.4" fill="#fff" text-anchor="middle">100µm</text></g>
<g transform="translate(582.4 450.9)"><g clip-path="url(#clp4)"><rect width="102.6" height="101.6" fill="#050503"/><path d="M0 0H103.2V30.3C99 40 90 56 83.5 67C76 77 62 87 49 93L39 101.6H0Z" fill="#140a18" stroke="#140a18" stroke-width="7" opacity="0.5" filter="url(#b1)"/><path d="M0 0H103.2V30.3C99 40 90 56 83.5 67C76 77 62 87 49 93L39 101.6H0Z" fill="#140a18" filter="url(#b05)"/><ellipse cx="22" cy="22" rx="30" ry="22" fill="#2a1858" opacity="0.45" filter="url(#b4)"/><g clip-path="url(#tc4)"><rect width="102.6" height="101.6" filter="url(#nzB)"/><rect width="102.6" height="101.6" filter="url(#nzK)"/></g><path d="M103.2 30.3C99 40 90 56 83.5 67C76 77 62 87 49 93L39 101.6" fill="none" stroke="#1c183e" stroke-width="2.2" opacity="0.75" filter="url(#b05)"/><g filter="url(#b03)"><g fill="#ff2040"><ellipse cx="84.1" cy="22.3" rx="0.88" ry="1.43"/><circle cx="78.8" cy="8.2" r="1.27"/><circle cx="95.4" cy="16.7" r="1.22"/><circle cx="79.1" cy="27.5" r="1.21"/><ellipse cx="61.2" cy="52.3" rx="1.14" ry="0.7"/><ellipse cx="67.1" cy="45.5" rx="0.66" ry="1.07"/><ellipse cx="70.4" cy="42.6" rx="1.13" ry="1.83"/><ellipse cx="59" cy="50.2" rx="0.96" ry="1.55"/><circle cx="82.7" cy="34.3" r="0.83"/><ellipse cx="58.9" cy="47" rx="1.15" ry="1.86"/><circle cx="68" cy="34.5" r="1.05"/><ellipse cx="45.1" cy="66.5" rx="0.66" ry="1.08"/><ellipse cx="49.5" cy="53.4" rx="1.12" ry="0.69"/><ellipse cx="33.7" cy="74" rx="1.01" ry="1.65"/><ellipse cx="35.5" cy="74.6" rx="0.62" ry="1.01"/><circle cx="53.7" cy="67.4" r="1.25"/><ellipse cx="32.5" cy="82.5" rx="1.69" ry="1.04"/><circle cx="32.7" cy="78.3" r="1.41"/><ellipse cx="35.8" cy="74.9" rx="1.33" ry="0.82"/><circle cx="20" cy="77.5" r="1.27"/><ellipse cx="20.9" cy="71.7" rx="1.38" ry="0.85"/></g><g fill="#f01858"><ellipse cx="91.6" cy="25" rx="1.23" ry="0.76"/><circle cx="94.8" cy="18.9" r="0.91"/><ellipse cx="77.2" cy="23.8" rx="0.97" ry="1.57"/><circle cx="89.3" cy="29.9" r="1.2"/><ellipse cx="74" cy="31.5" rx="1.1" ry="1.78"/><ellipse cx="70.7" cy="46.6" rx="1.68" ry="1.03"/></g><g fill="#ff3050"><ellipse cx="87.5" cy="30.8" rx="1.13" ry="0.7"/><ellipse cx="82.3" cy="24.9" rx="1.54" ry="0.95"/><ellipse cx="69.1" cy="48.6" rx="1" ry="1.63"/><circle cx="62.7" cy="51.8" r="1.49"/><ellipse cx="51.8" cy="70.9" rx="1.56" ry="0.96"/><circle cx="50.8" cy="56.5" r="1.14"/><ellipse cx="55.2" cy="64.5" rx="1.85" ry="1.14"/><circle cx="45.3" cy="56.7" r="0.77"/><circle cx="51" cy="70.3" r="1.31"/><circle cx="53.2" cy="63.4" r="0.93"/><ellipse cx="21.6" cy="77.3" rx="1.91" ry="1.17"/><circle cx="25.2" cy="85.5" r="1.18"/><ellipse cx="8.7" cy="77.3" rx="1.01" ry="1.64"/><circle cx="17" cy="87.8" r="1.31"/><circle cx="5.7" cy="86.3" r="0.97"/><ellipse cx="18.8" cy="75.5" rx="1.11" ry="0.68"/><ellipse cx="8.8" cy="83.5" rx="0.69" ry="1.13"/></g><g fill="#ff3078"><ellipse cx="85.8" cy="19.7" rx="1.71" ry="1.05"/><circle cx="81.5" cy="17.3" r="1.16"/><circle cx="64.8" cy="47.4" r="0.99"/><ellipse cx="62.4" cy="44.8" rx="1.03" ry="1.67"/><circle cx="63.3" cy="45.9" r="1.4"/><circle cx="60.3" cy="58.1" r="1.49"/><ellipse cx="65.3" cy="45.8" rx="1.9" ry="1.17"/><circle cx="65.3" cy="58.2" r="0.99"/><circle cx="69.7" cy="46.3" r="0.97"/><ellipse cx="62.9" cy="46.5" rx="1.2" ry="1.94"/><circle cx="85.9" cy="40" r="0.76"/></g><g fill="#ff2060"><ellipse cx="91.5" cy="17.5" rx="1.32" ry="0.81"/><circle cx="73.9" cy="35.9" r="1.32"/><ellipse cx="69.7" cy="41.1" rx="0.64" ry="1.04"/><circle cx="78.2" cy="29.9" r="0.93"/></g><g fill="#e82070"><circle cx="92.4" cy="18.8" r="1.1"/></g><g fill="#f01030"><ellipse cx="78.1" cy="28.9" rx="1.08" ry="1.75"/><ellipse cx="88.6" cy="25.1" rx="1.68" ry="1.03"/><circle cx="76.2" cy="29.4" r="0.9"/><ellipse cx="68.7" cy="36.9" rx="1.46" ry="0.9"/><circle cx="59.1" cy="61.6" r="1.28"/><circle cx="30.7" cy="72" r="1.17"/><circle cx="58.8" cy="67.3" r="0.95"/><circle cx="52.2" cy="63.4" r="0.83"/><ellipse cx="45.8" cy="73.9" rx="1.29" ry="0.8"/><ellipse cx="49.6" cy="69.2" rx="0.85" ry="1.38"/><circle cx="5.9" cy="78.3" r="1.3"/><ellipse cx="13.8" cy="90.1" rx="1.64" ry="1.01"/><circle cx="17.5" cy="69.5" r="1.16"/><ellipse cx="8.5" cy="73.2" rx="0.9" ry="1.47"/><ellipse cx="12" cy="71.1" rx="0.89" ry="1.45"/></g><g fill="#e80c28"><circle cx="71.3" cy="37.3" r="1.23"/><ellipse cx="75.6" cy="38.8" rx="0.81" ry="1.32"/><ellipse cx="63.8" cy="36.4" rx="1.65" ry="1.02"/><ellipse cx="57" cy="57.4" rx="1.15" ry="1.87"/><circle cx="58.6" cy="54.3" r="1.22"/><ellipse cx="70.6" cy="42.8" rx="0.96" ry="1.56"/><circle cx="40.5" cy="62.6" r="0.85"/><ellipse cx="41.5" cy="65.1" rx="0.89" ry="1.45"/><circle cx="54" cy="52.7" r="1.28"/><circle cx="40.2" cy="74.2" r="1.08"/><ellipse cx="40.1" cy="70.2" rx="0.73" ry="1.18"/><circle cx="58.9" cy="61.7" r="1.03"/><circle cx="31.7" cy="76.7" r="1.07"/><circle cx="9.4" cy="84.6" r="1.46"/><ellipse cx="13.1" cy="84.5" rx="1.68" ry="1.04"/></g><g fill="#ff1428"><ellipse cx="80.2" cy="27.1" rx="1.1" ry="1.78"/><ellipse cx="68.8" cy="56.5" rx="0.81" ry="1.32"/><circle cx="65.4" cy="46.5" r="0.79"/><circle cx="60.3" cy="33.7" r="1.42"/><circle cx="78.3" cy="49.1" r="1.42"/><ellipse cx="34.4" cy="57.4" rx="1.06" ry="0.66"/><circle cx="44.7" cy="71.3" r="1.26"/><ellipse cx="47.9" cy="59.6" rx="1.66" ry="1.02"/><ellipse cx="51" cy="73.4" rx="1.71" ry="1.05"/><ellipse cx="53" cy="66.5" rx="0.67" ry="1.09"/><ellipse cx="51.1" cy="53.1" rx="1.01" ry="1.64"/><ellipse cx="35.1" cy="72.1" rx="1.63" ry="1.01"/><circle cx="31.3" cy="70.2" r="1.17"/><ellipse cx="18.8" cy="93.8" rx="0.76" ry="1.24"/><circle cx="8.8" cy="90.9" r="1.25"/><circle cx="5.6" cy="85.1" r="1.16"/><ellipse cx="12.5" cy="71.4" rx="1.16" ry="1.89"/><circle cx="10.5" cy="76.9" r="1.11"/><circle cx="20" cy="76.9" r="1.12"/><ellipse cx="27" cy="70.3" rx="1.87" ry="1.15"/><circle cx="17.6" cy="72.3" r="1.07"/><circle cx="22.8" cy="87.7" r="1.35"/></g><g fill="#3c34a0" opacity="0.4"><ellipse cx="57.9" cy="58.2" rx="0.73" ry="1.19"/><ellipse cx="12.2" cy="43.4" rx="1.22" ry="0.75"/><ellipse cx="54.5" cy="17.7" rx="1.22" ry="0.75"/><circle cx="51.3" cy="79.2" r="0.79"/><circle cx="79.1" cy="24.5" r="0.79"/><circle cx="5.2" cy="3.6" r="1.03"/><ellipse cx="85.5" cy="52.9" rx="0.83" ry="1.35"/><circle cx="6.4" cy="63.4" r="0.72"/><ellipse cx="91.1" cy="22.6" rx="0.73" ry="1.19"/><ellipse cx="57.4" cy="32.9" rx="1.36" ry="0.84"/><circle cx="82.4" cy="61.6" r="1.07"/><circle cx="20.4" cy="36.1" r="1.11"/><circle cx="19.5" cy="72.1" r="0.9"/><circle cx="2.3" cy="24.3" r="0.77"/><ellipse cx="37.8" cy="46.3" rx="1.34" ry="0.82"/><circle cx="79.8" cy="5.5" r="0.91"/></g><g fill="#5048c0" opacity="0.4"><circle cx="76.4" cy="52" r="1.21"/><ellipse cx="52.7" cy="23.4" rx="1.24" ry="0.76"/><ellipse cx="29" cy="76" rx="0.98" ry="0.6"/><circle cx="49.9" cy="0.8" r="0.76"/><ellipse cx="49.5" cy="12.3" rx="1.58" ry="0.97"/><circle cx="55.4" cy="41.7" r="0.91"/><ellipse cx="18.7" cy="66.9" rx="0.83" ry="1.35"/><circle cx="51.9" cy="36.5" r="1.14"/><circle cx="29.5" cy="74.4" r="1.17"/><ellipse cx="15.2" cy="78.9" rx="1.42" ry="0.87"/><circle cx="87.5" cy="5.7" r="0.72"/><ellipse cx="82.3" cy="23.2" rx="0.79" ry="1.28"/><circle cx="19.2" cy="17.7" r="1.07"/><ellipse cx="51.6" cy="26.4" rx="0.7" ry="1.14"/></g><g fill="#4840b8" opacity="0.4"><circle cx="27.7" cy="77.6" r="0.76"/><circle cx="90.6" cy="15.2" r="1"/><circle cx="39.7" cy="68.9" r="0.79"/><circle cx="38.6" cy="49" r="0.75"/><ellipse cx="89.6" cy="49.4" rx="1.35" ry="0.83"/><circle cx="65.4" cy="80.9" r="1.17"/><circle cx="89.1" cy="22.6" r="0.86"/><ellipse cx="71.4" cy="68.7" rx="1.47" ry="0.9"/><ellipse cx="29.8" cy="29.8" rx="0.72" ry="1.16"/><ellipse cx="12.1" cy="70.2" rx="1.37" ry="0.84"/><ellipse cx="98.8" cy="10.8" rx="0.57" ry="0.93"/><ellipse cx="9.1" cy="7.4" rx="1.23" ry="0.75"/><ellipse cx="81.7" cy="58.2" rx="1.03" ry="1.67"/><ellipse cx="60.3" cy="6.3" rx="0.85" ry="1.37"/></g><g fill="#342c88" opacity="0.4"><circle cx="38.1" cy="67.8" r="1.03"/><ellipse cx="73.3" cy="38.3" rx="1.04" ry="0.64"/><ellipse cx="0.7" cy="12.8" rx="1.38" ry="0.85"/><circle cx="7.6" cy="34" r="0.82"/><ellipse cx="91.5" cy="35.8" rx="1" ry="0.62"/><ellipse cx="17.8" cy="68.2" rx="0.59" ry="0.95"/><ellipse cx="99.2" cy="7.6" rx="0.81" ry="1.31"/><circle cx="48.2" cy="73.7" r="0.77"/><ellipse cx="43.2" cy="29.6" rx="0.57" ry="0.92"/><ellipse cx="22.9" cy="8.7" rx="0.77" ry="1.25"/></g><g fill="#40389c" opacity="0.4"><circle cx="49.7" cy="43.9" r="1.27"/><circle cx="2.6" cy="53.6" r="0.99"/><ellipse cx="9.5" cy="36" rx="1.11" ry="0.69"/><ellipse cx="60.1" cy="77.2" rx="1.25" ry="0.77"/><ellipse cx="17.7" cy="82.8" rx="0.95" ry="1.54"/><circle cx="70.2" cy="70.5" r="1.05"/><ellipse cx="80.5" cy="55.3" rx="1.64" ry="1.01"/><ellipse cx="72" cy="56.1" rx="1.03" ry="0.64"/><circle cx="52.2" cy="23.6" r="1.17"/><ellipse cx="28.3" cy="48.8" rx="0.81" ry="1.32"/><ellipse cx="19.5" cy="2.1" rx="1.4" ry="0.86"/><circle cx="18.9" cy="43.9" r="1.2"/><ellipse cx="50.7" cy="22.5" rx="0.95" ry="1.55"/><ellipse cx="81.1" cy="36.9" rx="0.75" ry="1.22"/><ellipse cx="55" cy="65.6" rx="1.08" ry="0.66"/><circle cx="8.3" cy="16.6" r="1.22"/></g></g></g><text x="-0.2" y="9.2" font-size="10.6" fill="#2f80d0" stroke="#2f80d0" stroke-width="0.12">Chrm2</text><text x="11.1" y="22.4" font-size="10.6" fill="#e6281c" stroke="#e6281c" stroke-width="0.12">SST</text><rect x="78.5" y="94.6" width="13.6" height="1.5" fill="#fff"/><text x="87.2" y="92.5" font-size="7.4" fill="#fff" text-anchor="middle">100µm</text></g>
<g transform="translate(200.3 585.5)"><g clip-path="url(#clp5)"><rect width="86.7" height="86.5" fill="#050503"/><polygon points="0,0 39.3,0 39.8,30 39.5,46 34,56 29,63 26,72 12,70 0,73" fill="#161b0a" filter="url(#b1)"/><polygon points="43,0 55,3 67,7 78,13 86.7,19.5 86.7,86.5 60,86.5 57,74 52,63 46,55 42.6,46 42.3,30" fill="#121708" filter="url(#b1)"/><path d="M28 86.5L28.5 73Q31 64.5 41 63Q52 64.5 55.5 73L58 86.5Z" fill="#0f1408" filter="url(#b05)"/><path d="M27.5 86.5L28.5 73Q31 64.5 41 63Q52 64.5 55.5 73L58 86.5" fill="none" stroke="#203a16" stroke-width="3" opacity="0.85" filter="url(#b1)"/><path d="M0 72Q6 66.5 12 67Q20 70.5 27.5 77" fill="none" stroke="#1f3814" stroke-width="3.4" opacity="0.85" filter="url(#b1)"/><g clip-path="url(#tc5)"><rect width="86.7" height="86.5" filter="url(#nzG)"/><rect width="86.7" height="86.5" filter="url(#nzK)"/></g><path d="M43 0Q56 2.5 67 7T86.7 19.5" fill="none" stroke="#35622a" stroke-width="0.9" opacity="0.8" filter="url(#b03)"/><g filter="url(#b03)"><g fill="#ff4a18"><circle cx="10.1" cy="70.1" r="1.07"/><circle cx="16.8" cy="64" r="1.13"/><circle cx="12" cy="62.4" r="0.91"/><ellipse cx="3.5" cy="66.2" rx="1.07" ry="0.66"/><ellipse cx="7" cy="63.2" rx="0.63" ry="1.03"/><ellipse cx="24.7" cy="54.7" rx="0.94" ry="1.53"/><ellipse cx="16.3" cy="54.7" rx="1.38" ry="0.85"/><ellipse cx="11.1" cy="60.4" rx="0.74" ry="1.2"/><circle cx="8.8" cy="66.7" r="0.87"/><circle cx="14.8" cy="54.2" r="1.21"/><circle cx="12.9" cy="56.9" r="1.42"/><circle cx="8.1" cy="65.6" r="1.26"/><circle cx="5.3" cy="61.5" r="1.19"/><circle cx="20.8" cy="52.5" r="1.21"/><circle cx="25.1" cy="49.9" r="1.04"/><circle cx="21.4" cy="50.6" r="0.89"/><ellipse cx="9.3" cy="55.2" rx="1.38" ry="0.85"/><circle cx="15.6" cy="38.9" r="1.26"/><ellipse cx="18.6" cy="52.4" rx="0.66" ry="1.08"/><circle cx="12.7" cy="45.6" r="1.18"/><ellipse cx="18.7" cy="53.8" rx="0.72" ry="1.16"/><circle cx="28.2" cy="50.7" r="0.64"/><circle cx="30.3" cy="54.6" r="1.12"/><ellipse cx="71.8" cy="62.6" rx="0.99" ry="1.6"/><ellipse cx="58.7" cy="60.4" rx="0.76" ry="1.24"/><ellipse cx="49.9" cy="58" rx="1.16" ry="1.88"/><ellipse cx="62.6" cy="65.6" rx="1.81" ry="1.11"/><circle cx="53.7" cy="60.4" r="1.05"/><circle cx="75.6" cy="65.6" r="1.43"/><circle cx="67.2" cy="69.2" r="1.42"/><circle cx="62.6" cy="62.6" r="1.38"/><ellipse cx="57.2" cy="64.1" rx="1.31" ry="0.8"/><ellipse cx="58.8" cy="64.5" rx="0.85" ry="1.38"/><ellipse cx="67.2" cy="69.5" rx="0.92" ry="1.5"/><circle cx="57.3" cy="61.5" r="0.79"/><ellipse cx="61.1" cy="68.2" rx="1.13" ry="0.7"/><ellipse cx="66.7" cy="69.4" rx="1.54" ry="0.95"/><circle cx="49.1" cy="42.1" r="1.2"/><ellipse cx="71.2" cy="55.4" rx="1.04" ry="0.64"/><circle cx="73.1" cy="46.9" r="0.76"/><ellipse cx="66.8" cy="49.4" rx="1.16" ry="0.71"/><ellipse cx="72.5" cy="41.9" rx="1.48" ry="0.91"/></g><g fill="#ff5512"><circle cx="24.5" cy="55.1" r="0.79"/><ellipse cx="15.8" cy="56.1" rx="1.24" ry="0.77"/><ellipse cx="16.2" cy="69" rx="1.08" ry="0.67"/><circle cx="11.6" cy="61.4" r="1.16"/><ellipse cx="17.8" cy="63.1" rx="1.05" ry="1.71"/><circle cx="14.9" cy="61.1" r="1.24"/><circle cx="18.6" cy="62" r="1.25"/><circle cx="24" cy="60.9" r="1.17"/><ellipse cx="12.5" cy="57.6" rx="0.76" ry="1.24"/><circle cx="9" cy="66.5" r="0.99"/><ellipse cx="15.3" cy="64.3" rx="0.9" ry="1.47"/><ellipse cx="21.1" cy="57.1" rx="0.93" ry="1.51"/><circle cx="2.8" cy="71" r="1.39"/><ellipse cx="13.8" cy="69.7" rx="1.13" ry="1.84"/><ellipse cx="11.3" cy="65.5" rx="1.15" ry="1.86"/><ellipse cx="24" cy="59" rx="0.68" ry="1.1"/><circle cx="16.6" cy="55" r="1.32"/><circle cx="12.9" cy="64" r="0.88"/><circle cx="17" cy="57.3" r="1.17"/><circle cx="0.3" cy="49.5" r="0.75"/><circle cx="7.2" cy="44.6" r="1.04"/><ellipse cx="7.6" cy="57.8" rx="0.69" ry="1.13"/><ellipse cx="9.3" cy="45.6" rx="0.86" ry="0.53"/><ellipse cx="17.6" cy="61.1" rx="0.84" ry="0.52"/><circle cx="29.6" cy="58.3" r="1.12"/><ellipse cx="32.9" cy="49" rx="0.99" ry="0.61"/><circle cx="59.8" cy="63.3" r="1.3"/><ellipse cx="54.7" cy="63.6" rx="1.75" ry="1.08"/><ellipse cx="52.3" cy="61.9" rx="1.34" ry="0.83"/><circle cx="59.9" cy="64.2" r="1.42"/><ellipse cx="59.7" cy="62" rx="1.72" ry="1.06"/><ellipse cx="61.4" cy="60.2" rx="0.85" ry="1.39"/><circle cx="71.6" cy="63" r="1.24"/><circle cx="63" cy="62.1" r="1.14"/><circle cx="72.5" cy="64.2" r="1.07"/><ellipse cx="60.6" cy="61.9" rx="0.96" ry="0.59"/><ellipse cx="65.9" cy="59.4" rx="1.85" ry="1.14"/><circle cx="62.4" cy="67.1" r="0.75"/><circle cx="58.1" cy="64.6" r="0.78"/><circle cx="68.9" cy="66.1" r="0.78"/><circle cx="61" cy="39.1" r="1.1"/><circle cx="73.3" cy="53.8" r="1.15"/><ellipse cx="65.3" cy="39.4" rx="0.62" ry="1"/><circle cx="71.9" cy="60" r="1.1"/><ellipse cx="79" cy="50.3" rx="0.85" ry="1.38"/><ellipse cx="55.4" cy="47.9" rx="1.1" ry="0.68"/><ellipse cx="72.9" cy="46.6" rx="0.83" ry="1.34"/></g><g fill="#f03010"><ellipse cx="27.7" cy="63.4" rx="1.16" ry="1.88"/><circle cx="15.1" cy="57.4" r="1.12"/><ellipse cx="32.6" cy="55.2" rx="1.71" ry="1.05"/><circle cx="19.2" cy="62" r="1.04"/><ellipse cx="28.9" cy="57.3" rx="0.81" ry="1.31"/><ellipse cx="16.5" cy="64.2" rx="1.26" ry="0.77"/><circle cx="23.7" cy="67.2" r="0.94"/><circle cx="14" cy="53.7" r="0.93"/><circle cx="23.6" cy="54" r="0.71"/><circle cx="16.1" cy="60.2" r="1.29"/><circle cx="12.7" cy="63.1" r="1.38"/><circle cx="25.2" cy="67.6" r="1.19"/><circle cx="27.1" cy="58.3" r="1.37"/><circle cx="10.8" cy="69.5" r="0.95"/><circle cx="11.5" cy="58.9" r="1.2"/><circle cx="23.6" cy="64.8" r="1.05"/><circle cx="18.9" cy="50.9" r="1.31"/><ellipse cx="18.6" cy="62.5" rx="1.1" ry="1.79"/><ellipse cx="8.1" cy="64.6" rx="0.69" ry="1.13"/><circle cx="21.9" cy="66.3" r="0.88"/><circle cx="12.5" cy="61.7" r="0.78"/><circle cx="19.2" cy="62.4" r="1.22"/><circle cx="13" cy="48.2" r="1.29"/><ellipse cx="61.2" cy="62.8" rx="1.47" ry="0.9"/><circle cx="62.3" cy="64.6" r="1.44"/><circle cx="65.8" cy="62.8" r="0.97"/><circle cx="61.1" cy="67.7" r="1.41"/><circle cx="63.2" cy="63" r="0.94"/><circle cx="66.9" cy="61.9" r="1.28"/><circle cx="80.3" cy="66.7" r="1.03"/><circle cx="54.1" cy="60.4" r="1.12"/><circle cx="72" cy="68.2" r="1.31"/><ellipse cx="69.7" cy="69.9" rx="0.66" ry="1.07"/><circle cx="59" cy="64.5" r="1.16"/><ellipse cx="59.1" cy="42.3" rx="0.93" ry="0.57"/><circle cx="58.6" cy="48.8" r="0.89"/><circle cx="76.5" cy="54.3" r="1.11"/><circle cx="78.7" cy="42.7" r="1.14"/><ellipse cx="83.8" cy="41.6" rx="0.96" ry="0.59"/><circle cx="60.2" cy="41.1" r="0.9"/><circle cx="51" cy="52.6" r="1.29"/><circle cx="58.6" cy="27.1" r="0.92"/></g><g fill="#ff3a10"><circle cx="22.4" cy="67.4" r="1.04"/><ellipse cx="26.9" cy="54.6" rx="1.58" ry="0.97"/><ellipse cx="14.7" cy="64.9" rx="0.84" ry="1.36"/><circle cx="15.3" cy="60.1" r="1.3"/><circle cx="28.3" cy="61" r="0.91"/><ellipse cx="20.1" cy="55.7" rx="1.57" ry="0.97"/><ellipse cx="18.6" cy="53.1" rx="1.4" ry="0.86"/><circle cx="20.7" cy="64.4" r="0.75"/><circle cx="13.4" cy="60.8" r="0.92"/><ellipse cx="16.6" cy="62.7" rx="1.78" ry="1.1"/><circle cx="18.7" cy="67.5" r="1.23"/><circle cx="4.2" cy="58.4" r="0.86"/><circle cx="16" cy="61.7" r="1.36"/><ellipse cx="8.5" cy="58.1" rx="1.04" ry="0.64"/><ellipse cx="20.3" cy="61.8" rx="0.6" ry="0.98"/><ellipse cx="18.9" cy="60.4" rx="1.07" ry="1.75"/><circle cx="14.5" cy="63.2" r="1.36"/><circle cx="17.6" cy="61.2" r="1.17"/><circle cx="24.8" cy="54.3" r="0.73"/><circle cx="17.1" cy="54" r="1.33"/><ellipse cx="13.6" cy="41.7" rx="0.88" ry="1.43"/><ellipse cx="7.6" cy="47.5" rx="0.88" ry="1.43"/><ellipse cx="12.7" cy="47" rx="1.55" ry="0.95"/><ellipse cx="10.3" cy="57.5" rx="0.95" ry="1.54"/><ellipse cx="8.1" cy="44.5" rx="0.73" ry="1.18"/><ellipse cx="19.7" cy="41.5" rx="0.97" ry="0.6"/><ellipse cx="27.9" cy="38.1" rx="0.8" ry="1.3"/><circle cx="24.4" cy="55.7" r="0.71"/><circle cx="56.1" cy="63.4" r="1.03"/><circle cx="65.7" cy="65.5" r="1.35"/><ellipse cx="69" cy="72.6" rx="0.96" ry="0.59"/><circle cx="66.2" cy="62.7" r="0.9"/><ellipse cx="59.8" cy="65.7" rx="0.86" ry="1.39"/><ellipse cx="69.6" cy="67.5" rx="0.85" ry="1.38"/><circle cx="64.6" cy="62.7" r="1.06"/><ellipse cx="66.3" cy="63.7" rx="0.66" ry="1.07"/><circle cx="63.9" cy="69.6" r="1"/><ellipse cx="56" cy="64.8" rx="1.1" ry="1.78"/><circle cx="72.7" cy="62.9" r="1.42"/><ellipse cx="57.1" cy="45.3" rx="0.8" ry="1.3"/><circle cx="77.7" cy="38.8" r="0.78"/><ellipse cx="55.1" cy="52.1" rx="0.61" ry="0.99"/><ellipse cx="60.8" cy="46" rx="1.5" ry="0.92"/><circle cx="59.4" cy="26.9" r="1.22"/></g><g fill="#e8300c"><ellipse cx="15" cy="54.9" rx="1.5" ry="0.93"/><circle cx="22.6" cy="60.8" r="0.85"/><circle cx="22.5" cy="59.6" r="0.9"/><circle cx="0.1" cy="56.4" r="0.99"/><ellipse cx="16.5" cy="55.9" rx="1.83" ry="1.13"/><circle cx="21.9" cy="59.6" r="0.92"/><ellipse cx="17.7" cy="50.9" rx="0.89" ry="1.45"/><circle cx="17" cy="63.4" r="1.36"/><ellipse cx="6.6" cy="65.4" rx="1.51" ry="0.93"/><circle cx="17.5" cy="65.2" r="0.85"/><circle cx="16.4" cy="58.3" r="1.31"/><circle cx="16.2" cy="69.6" r="1.45"/><ellipse cx="17.8" cy="63.8" rx="0.95" ry="1.54"/><ellipse cx="20" cy="59.6" rx="0.72" ry="1.17"/><circle cx="14.6" cy="60.2" r="1.01"/><ellipse cx="16.4" cy="66.1" rx="1.45" ry="0.9"/><ellipse cx="14.3" cy="55.4" rx="0.92" ry="0.56"/><ellipse cx="9.5" cy="63.3" rx="0.77" ry="1.26"/><ellipse cx="10.4" cy="66.6" rx="0.94" ry="1.53"/><ellipse cx="4.6" cy="54.6" rx="0.99" ry="0.61"/><circle cx="9.4" cy="60.3" r="0.84"/><ellipse cx="6.2" cy="53.9" rx="0.87" ry="1.41"/><ellipse cx="32.2" cy="56.9" rx="0.71" ry="1.15"/><ellipse cx="27.4" cy="49.7" rx="0.54" ry="0.88"/><ellipse cx="32.7" cy="48.9" rx="1.12" ry="0.69"/><ellipse cx="66.8" cy="62.6" rx="1.44" ry="0.88"/><circle cx="61.4" cy="63.3" r="1.25"/><ellipse cx="60.4" cy="61.4" rx="1.55" ry="0.95"/><circle cx="67.4" cy="70.1" r="1.04"/><circle cx="65.1" cy="62.9" r="1.41"/><ellipse cx="59.3" cy="58.7" rx="1.41" ry="0.87"/><ellipse cx="71.2" cy="67.7" rx="0.91" ry="1.47"/><ellipse cx="58.6" cy="65.2" rx="1.76" ry="1.08"/><circle cx="82.7" cy="74.7" r="0.91"/><ellipse cx="56.9" cy="61.7" rx="1.64" ry="1.01"/><circle cx="59.4" cy="67.1" r="1.39"/><ellipse cx="72.4" cy="61.9" rx="1.66" ry="1.02"/><ellipse cx="67.1" cy="61.4" rx="1.42" ry="0.88"/><circle cx="65.7" cy="68.1" r="0.98"/><ellipse cx="71.4" cy="67.1" rx="1.1" ry="1.78"/><ellipse cx="55.3" cy="41.1" rx="1.24" ry="0.76"/><circle cx="73.5" cy="58.5" r="1.17"/><circle cx="56.7" cy="49.5" r="0.75"/></g><g fill="#4a8c2c" opacity="0.8"><ellipse cx="85" cy="42.6" rx="0.39" ry="0.24"/><ellipse cx="14.1" cy="50.3" rx="0.6" ry="0.37"/><circle cx="77.4" cy="32.8" r="0.32"/><circle cx="31.6" cy="21.9" r="0.47"/><ellipse cx="75.6" cy="16.3" rx="0.31" ry="0.5"/><circle cx="68.9" cy="72.9" r="0.36"/><ellipse cx="85.8" cy="22.4" rx="0.65" ry="0.4"/><circle cx="62.5" cy="15" r="0.55"/><circle cx="26.4" cy="51.8" r="0.53"/><ellipse cx="3.1" cy="59.9" rx="0.69" ry="0.42"/></g><g fill="#3f7a26" opacity="0.8"><ellipse cx="84.6" cy="55.8" rx="0.39" ry="0.63"/><circle cx="69.7" cy="76.3" r="0.4"/><ellipse cx="60.6" cy="44.3" rx="0.44" ry="0.71"/><circle cx="45.4" cy="37.6" r="0.54"/><ellipse cx="19.1" cy="48.7" rx="0.52" ry="0.32"/><ellipse cx="2.1" cy="61.2" rx="0.3" ry="0.49"/><circle cx="70.7" cy="66.2" r="0.34"/><ellipse cx="59.1" cy="23.2" rx="0.27" ry="0.44"/><ellipse cx="28" cy="16.3" rx="0.32" ry="0.51"/><circle cx="34.5" cy="46.9" r="0.32"/><ellipse cx="82" cy="68.1" rx="0.64" ry="0.39"/><ellipse cx="53.2" cy="54" rx="0.52" ry="0.32"/><ellipse cx="68.1" cy="75.4" rx="0.32" ry="0.52"/><circle cx="36.3" cy="4" r="0.38"/><circle cx="10.3" cy="41.7" r="0.47"/><ellipse cx="82.7" cy="33.2" rx="0.35" ry="0.57"/><circle cx="32.9" cy="32.5" r="0.35"/><ellipse cx="37.1" cy="33.6" rx="0.65" ry="0.4"/><ellipse cx="7.2" cy="4.1" rx="0.48" ry="0.29"/><ellipse cx="44.8" cy="46.8" rx="0.67" ry="0.41"/></g></g></g><text x="6.9" y="8.8" font-size="10.5" fill="#2fae62" stroke="#2fae62" stroke-width="0.12">Drd1</text><text x="7.2" y="21.3" font-size="10.8" fill="#e6281c" stroke="#e6281c" stroke-width="0.12">AgRP</text><rect x="66.8" y="81.6" width="12.8" height="1.5" fill="#fff"/><text x="75.4" y="79.5" font-size="7.6" fill="#fff" text-anchor="middle">100µm</text></g>
<g transform="translate(290.3 585.5)"><g clip-path="url(#clp6)"><rect width="86.7" height="86.5" fill="#050503"/><polygon points="0,0 86.7,0 86.7,60 70,66 56,72 44,76 32,72 20,64 0,66" fill="#090612" filter="url(#b1)"/><path d="M0 52Q22 56 40 66Q60 60 86.7 48" fill="none" stroke="#17134a" stroke-width="14" opacity="0.75" filter="url(#b2)"/><g clip-path="url(#tc6)"><rect width="86.7" height="86.5" filter="url(#nzB2)"/><rect width="86.7" height="86.5" filter="url(#nzK)"/></g><polygon points="38,0 52,0 50,20 47,40 44,48 41,40 39,20" fill="#050410" opacity="0.85" filter="url(#b2)"/><polygon points="48,8 86.7,4 86.7,34 60,34 50,26" fill="#04030c" opacity="0.7" filter="url(#b2)"/><g filter="url(#b03)"><g fill="#e81c1c"><circle cx="34.8" cy="43.7" r="0.93"/><ellipse cx="29.6" cy="36.6" rx="0.57" ry="0.93"/><ellipse cx="4" cy="60.7" rx="0.81" ry="0.5"/><circle cx="11.3" cy="33.7" r="1.02"/><circle cx="30.7" cy="30.1" r="0.83"/><circle cx="20.6" cy="63" r="0.61"/><circle cx="27.8" cy="34.8" r="0.83"/><circle cx="4.5" cy="23.1" r="0.81"/><circle cx="24.2" cy="53.9" r="1.33"/><ellipse cx="30.6" cy="57.5" rx="1.66" ry="1.02"/><ellipse cx="29.4" cy="52.6" rx="0.57" ry="0.92"/><circle cx="30.2" cy="62" r="0.94"/><circle cx="30" cy="64.2" r="1.07"/><ellipse cx="31.1" cy="65.4" rx="1.06" ry="1.73"/><ellipse cx="27.7" cy="62.2" rx="1.41" ry="0.87"/><ellipse cx="30.2" cy="46.9" rx="1.42" ry="0.88"/><circle cx="23.6" cy="60.9" r="0.89"/><ellipse cx="28.3" cy="49.2" rx="0.99" ry="0.61"/><circle cx="31.8" cy="57" r="1.39"/><circle cx="32.1" cy="63.7" r="1.31"/><ellipse cx="13.2" cy="51" rx="1.18" ry="0.72"/><circle cx="8.1" cy="54.4" r="1.01"/><circle cx="15.7" cy="60.3" r="1.01"/><ellipse cx="7" cy="59.9" rx="0.81" ry="1.32"/><ellipse cx="15.3" cy="53.6" rx="0.68" ry="1.1"/><ellipse cx="11.5" cy="61.6" rx="0.94" ry="1.53"/><ellipse cx="46.6" cy="48.7" rx="0.64" ry="1.04"/><ellipse cx="70.9" cy="53.2" rx="0.89" ry="1.44"/><circle cx="59.1" cy="58.3" r="1.07"/><circle cx="53.2" cy="62" r="1.21"/><ellipse cx="56.7" cy="54.6" rx="0.61" ry="0.99"/><ellipse cx="63.8" cy="57.6" rx="1.8" ry="1.11"/><circle cx="51.4" cy="54.8" r="1.1"/><circle cx="51.7" cy="61.2" r="1.12"/><circle cx="55.2" cy="58.9" r="0.85"/><ellipse cx="50.2" cy="54.4" rx="0.92" ry="0.57"/><ellipse cx="45.6" cy="53.7" rx="1.01" ry="1.63"/><ellipse cx="50.6" cy="63.3" rx="0.84" ry="1.36"/><ellipse cx="55" cy="57.8" rx="0.73" ry="1.18"/><ellipse cx="60.1" cy="52.7" rx="1.71" ry="1.05"/><circle cx="67.8" cy="64.8" r="0.78"/></g><g fill="#f02420"><circle cx="5.8" cy="48.9" r="0.62"/><ellipse cx="30.7" cy="44" rx="1.38" ry="0.85"/><ellipse cx="20.6" cy="60.9" rx="0.81" ry="1.31"/><circle cx="9.2" cy="54.4" r="0.82"/><circle cx="2" cy="35.7" r="0.88"/><circle cx="25" cy="25.2" r="0.67"/><circle cx="9.5" cy="54.7" r="0.64"/><ellipse cx="23.7" cy="23.3" rx="0.63" ry="1.02"/><circle cx="29.5" cy="50.5" r="1.18"/><circle cx="32.4" cy="64.1" r="0.76"/><circle cx="24" cy="64.7" r="1.25"/><circle cx="35.4" cy="55.5" r="1.32"/><circle cx="29.1" cy="67.1" r="1.13"/><ellipse cx="32.1" cy="56.3" rx="0.58" ry="0.94"/><circle cx="23.9" cy="56" r="0.82"/><ellipse cx="27.9" cy="54.5" rx="1.01" ry="0.62"/><circle cx="21.1" cy="62.1" r="0.75"/><ellipse cx="31.6" cy="58.8" rx="1.41" ry="0.86"/><circle cx="57.2" cy="56.8" r="0.7"/><circle cx="59.3" cy="56.1" r="1.36"/><ellipse cx="60.8" cy="56.8" rx="0.74" ry="1.2"/><ellipse cx="55.6" cy="58.8" rx="1.02" ry="1.65"/><circle cx="53.6" cy="58.6" r="0.78"/><ellipse cx="56.9" cy="53.8" rx="1.07" ry="1.74"/><ellipse cx="52.5" cy="59.5" rx="0.57" ry="0.93"/><ellipse cx="56" cy="50.8" rx="0.7" ry="1.13"/><circle cx="48" cy="58.4" r="0.89"/><ellipse cx="66.2" cy="57.4" rx="1.01" ry="0.62"/><circle cx="57.8" cy="56.9" r="0.96"/><circle cx="50.3" cy="39.3" r="0.93"/><circle cx="76.8" cy="62.6" r="0.62"/><ellipse cx="62.2" cy="43.6" rx="1.25" ry="0.77"/><ellipse cx="77.1" cy="33" rx="0.85" ry="1.38"/><ellipse cx="78.6" cy="58.7" rx="1.06" ry="0.65"/><circle cx="60.2" cy="60.9" r="0.89"/></g><g fill="#ff2a1c"><circle cx="19" cy="22.4" r="1.16"/><circle cx="26.1" cy="32" r="1.08"/><circle cx="34.6" cy="25.6" r="1.13"/><circle cx="25.4" cy="49" r="0.85"/><circle cx="32.1" cy="57.1" r="1.13"/><ellipse cx="9.5" cy="50.1" rx="0.6" ry="0.98"/><circle cx="5.2" cy="49.1" r="0.96"/><circle cx="18.5" cy="59.4" r="0.79"/><circle cx="25.1" cy="57.5" r="1.08"/><circle cx="32.6" cy="58.7" r="1.07"/><ellipse cx="20.5" cy="58.5" rx="1.49" ry="0.91"/><circle cx="37.3" cy="51.6" r="0.99"/><ellipse cx="27.6" cy="57.7" rx="0.85" ry="1.38"/><ellipse cx="30.2" cy="53" rx="1.21" ry="0.75"/><circle cx="41.5" cy="61.7" r="1.38"/><ellipse cx="35.3" cy="67.6" rx="0.57" ry="0.92"/><circle cx="27.1" cy="60.8" r="1.08"/><circle cx="31.5" cy="63.3" r="0.85"/><circle cx="23.2" cy="62.8" r="1.1"/><circle cx="36.6" cy="68.3" r="1.17"/><ellipse cx="4.4" cy="52.3" rx="0.96" ry="0.59"/><circle cx="9.4" cy="62.8" r="0.79"/><circle cx="12.9" cy="57.4" r="1.03"/><circle cx="59" cy="53.3" r="1.2"/><circle cx="57.5" cy="60.5" r="1.21"/><circle cx="64.2" cy="61.8" r="1.1"/><ellipse cx="66.5" cy="52.3" rx="0.97" ry="0.6"/><ellipse cx="65.5" cy="50.4" rx="0.95" ry="1.54"/><circle cx="55.7" cy="55.3" r="1.11"/><circle cx="60" cy="51.7" r="1.35"/><ellipse cx="61.4" cy="62.1" rx="1.52" ry="0.94"/><ellipse cx="68.6" cy="58.2" rx="0.71" ry="1.15"/><circle cx="51.1" cy="64.2" r="1.21"/><ellipse cx="55.1" cy="56.5" rx="0.98" ry="1.6"/><ellipse cx="76.4" cy="55" rx="0.73" ry="1.19"/><ellipse cx="77.5" cy="50.8" rx="0.93" ry="0.57"/><ellipse cx="58.9" cy="36.2" rx="0.84" ry="1.37"/><circle cx="72.4" cy="34.4" r="0.93"/><ellipse cx="71" cy="49.6" rx="0.69" ry="1.13"/><ellipse cx="69.5" cy="30.3" rx="1.42" ry="0.88"/><ellipse cx="66.7" cy="54.6" rx="1.23" ry="0.76"/></g><g fill="#ff3828"><circle cx="34.4" cy="36.6" r="1.12"/><circle cx="34.3" cy="39.3" r="1.06"/><circle cx="5" cy="53.5" r="0.72"/><ellipse cx="25.7" cy="60.9" rx="0.85" ry="1.38"/><circle cx="25.6" cy="30.7" r="1.12"/><ellipse cx="17.6" cy="61.3" rx="0.53" ry="0.86"/><ellipse cx="12.6" cy="47.4" rx="1.3" ry="0.8"/><ellipse cx="27" cy="52.3" rx="0.71" ry="1.15"/><circle cx="28.5" cy="35.5" r="1"/><ellipse cx="30.4" cy="23" rx="0.91" ry="1.47"/><circle cx="20.2" cy="48.8" r="0.78"/><ellipse cx="22.3" cy="44.1" rx="0.63" ry="1.02"/><ellipse cx="31.6" cy="27.6" rx="0.69" ry="1.12"/><ellipse cx="35.1" cy="57.6" rx="1" ry="0.62"/><ellipse cx="27.3" cy="61.9" rx="1.33" ry="0.82"/><circle cx="34.6" cy="57.3" r="1.04"/><ellipse cx="30.8" cy="63.5" rx="1.49" ry="0.92"/><circle cx="23" cy="60.1" r="1.07"/><circle cx="31" cy="55.6" r="1.32"/><ellipse cx="22.3" cy="46.5" rx="0.81" ry="1.32"/><ellipse cx="30.5" cy="55.8" rx="1.48" ry="0.91"/><ellipse cx="31.5" cy="62.6" rx="1.66" ry="1.02"/><circle cx="30.6" cy="62.3" r="0.88"/><ellipse cx="24.8" cy="58.8" rx="0.66" ry="1.07"/><circle cx="24" cy="58.2" r="1.02"/><ellipse cx="22.6" cy="64.7" rx="1" ry="1.63"/><circle cx="6.5" cy="64" r="0.83"/><circle cx="18.2" cy="61.8" r="1.18"/><circle cx="9.9" cy="56" r="0.68"/><ellipse cx="10.5" cy="62.2" rx="1.39" ry="0.85"/><ellipse cx="16.3" cy="61.8" rx="0.7" ry="1.14"/><circle cx="60.1" cy="51.6" r="0.81"/><ellipse cx="53.7" cy="69.8" rx="0.67" ry="1.09"/><circle cx="49.8" cy="60.7" r="1.06"/><ellipse cx="54.5" cy="63.4" rx="1.17" ry="0.72"/><ellipse cx="65.7" cy="47.5" rx="1.47" ry="0.9"/><circle cx="60.3" cy="57.4" r="0.74"/><ellipse cx="51.6" cy="44.9" rx="1.75" ry="1.07"/><circle cx="55.4" cy="51.8" r="0.86"/><circle cx="49.6" cy="73.2" r="1.31"/><ellipse cx="56" cy="52.4" rx="1.33" ry="0.82"/><circle cx="44.9" cy="58.4" r="1.16"/><ellipse cx="60.5" cy="34.7" rx="0.74" ry="1.21"/><circle cx="57.8" cy="50.4" r="0.87"/></g><g fill="#ff2030"><circle cx="2.4" cy="40.8" r="1.17"/><circle cx="18.2" cy="32.7" r="0.89"/><circle cx="3.9" cy="38.9" r="1.11"/><ellipse cx="17.9" cy="47.1" rx="1.06" ry="0.65"/><circle cx="18.3" cy="31.5" r="0.72"/><circle cx="16.3" cy="34" r="0.87"/><ellipse cx="8.4" cy="62.5" rx="0.86" ry="1.39"/><circle cx="23.2" cy="39.6" r="0.94"/><circle cx="36.2" cy="59.5" r="1.01"/><circle cx="21.8" cy="62.1" r="1.29"/><ellipse cx="27.8" cy="63.6" rx="1.65" ry="1.02"/><circle cx="32" cy="60.8" r="0.91"/><ellipse cx="29.2" cy="44.4" rx="0.85" ry="1.38"/><ellipse cx="29.6" cy="56.5" rx="1.12" ry="0.69"/><circle cx="37" cy="55.4" r="1.22"/><ellipse cx="28" cy="62.2" rx="1.19" ry="0.73"/><circle cx="32.8" cy="69.5" r="0.96"/><ellipse cx="13.6" cy="63.3" rx="0.83" ry="1.35"/><circle cx="13.2" cy="55.5" r="0.9"/><ellipse cx="19.2" cy="59" rx="1.18" ry="0.73"/><ellipse cx="4.6" cy="58.4" rx="1.39" ry="0.85"/><ellipse cx="11.7" cy="57.5" rx="0.82" ry="0.51"/><ellipse cx="20.5" cy="55" rx="1" ry="0.62"/><circle cx="6.1" cy="56.6" r="0.87"/><circle cx="9.1" cy="48.2" r="0.82"/><ellipse cx="48.8" cy="57.6" rx="0.99" ry="1.61"/><circle cx="53.6" cy="52.4" r="0.82"/><ellipse cx="64.8" cy="56.8" rx="1.64" ry="1.01"/><ellipse cx="70" cy="53.1" rx="1.11" ry="1.8"/><circle cx="45" cy="60.6" r="0.77"/><circle cx="41.8" cy="56.9" r="1.02"/><ellipse cx="49.6" cy="57.8" rx="1.06" ry="1.72"/><ellipse cx="51" cy="58.6" rx="0.59" ry="0.96"/><circle cx="53.7" cy="62.8" r="0.9"/><ellipse cx="64" cy="60.5" rx="0.76" ry="1.24"/><ellipse cx="45.7" cy="58.7" rx="0.58" ry="0.94"/><circle cx="50.5" cy="52.4" r="1.16"/><circle cx="70.6" cy="57.7" r="0.79"/><circle cx="65.4" cy="64.4" r="1.09"/><circle cx="48" cy="45" r="0.81"/><circle cx="68.2" cy="49.3" r="0.87"/><circle cx="45.4" cy="45" r="0.97"/></g><g fill="#4840b8" opacity="0.6"><circle cx="38" cy="39.1" r="0.7"/><ellipse cx="48.2" cy="49.7" rx="0.53" ry="0.86"/><circle cx="26.8" cy="50.7" r="0.54"/><circle cx="30.9" cy="33.7" r="0.57"/><circle cx="13.2" cy="43.8" r="1"/><circle cx="12.2" cy="58.5" r="0.68"/><ellipse cx="25.3" cy="30.7" rx="0.72" ry="0.45"/><ellipse cx="49.8" cy="36.1" rx="0.84" ry="0.52"/><ellipse cx="40.4" cy="65.6" rx="0.95" ry="0.58"/><ellipse cx="26.9" cy="46.6" rx="0.53" ry="0.86"/><ellipse cx="5" cy="61.5" rx="1.28" ry="0.79"/><ellipse cx="66.1" cy="32.8" rx="1.19" ry="0.73"/></g><g fill="#5048c0" opacity="0.6"><circle cx="25.4" cy="31.9" r="0.76"/><ellipse cx="62.8" cy="47.4" rx="1.04" ry="0.64"/><circle cx="20" cy="59" r="0.63"/><circle cx="31.6" cy="57.3" r="0.88"/><ellipse cx="55.9" cy="61.6" rx="0.76" ry="0.47"/><circle cx="60" cy="49.2" r="0.96"/></g><g fill="#40389c" opacity="0.6"><circle cx="30.6" cy="64.4" r="0.9"/><circle cx="8.4" cy="50.7" r="0.58"/><circle cx="40.2" cy="69" r="0.73"/><circle cx="27.4" cy="48.3" r="0.61"/><ellipse cx="42.9" cy="42.9" rx="0.64" ry="1.04"/><circle cx="85.9" cy="30.5" r="0.59"/><circle cx="1.7" cy="49.7" r="0.69"/><circle cx="64.8" cy="63.2" r="0.91"/><circle cx="8.4" cy="51.6" r="0.63"/></g><g fill="#342c88" opacity="0.6"><circle cx="55.2" cy="68.5" r="0.69"/><circle cx="24.5" cy="48.5" r="0.52"/><circle cx="31.9" cy="62.3" r="0.5"/><circle cx="7.7" cy="58.3" r="0.74"/><circle cx="12.1" cy="50.4" r="0.59"/><ellipse cx="27.2" cy="62.6" rx="1.08" ry="0.66"/><ellipse cx="68.8" cy="41.9" rx="1" ry="0.61"/><circle cx="66.9" cy="42.7" r="0.95"/><circle cx="4.1" cy="57.3" r="0.72"/><ellipse cx="34.5" cy="30.7" rx="1" ry="0.62"/><circle cx="58.3" cy="46.9" r="0.96"/></g><g fill="#3c34a0" opacity="0.6"><circle cx="69.5" cy="56.9" r="0.76"/><ellipse cx="53.3" cy="37.5" rx="1.13" ry="0.69"/><circle cx="43.7" cy="34.2" r="0.58"/><ellipse cx="86" cy="47.2" rx="0.65" ry="1.06"/><ellipse cx="53.2" cy="64.6" rx="0.72" ry="0.44"/><ellipse cx="72.3" cy="37.2" rx="0.68" ry="0.42"/><circle cx="34.9" cy="37.3" r="0.92"/></g></g></g><text x="6.8" y="9.5" font-size="10.5" fill="#2f80d0" stroke="#2f80d0" stroke-width="0.12">Drd2</text><text x="6.4" y="19.5" font-size="10.8" fill="#e6281c" stroke="#e6281c" stroke-width="0.12">AgRP</text><rect x="65.6" y="81.6" width="13" height="1.5" fill="#fff"/><text x="74.6" y="79.3" font-size="7.6" fill="#fff" text-anchor="middle">100µm</text></g>
<g transform="translate(505.3 585.5)"><g clip-path="url(#clp7)"><rect width="86.7" height="86.5" fill="#050503"/><polygon points="0,0 86.7,0 86.7,86.5 14,86.5 10,72 0,66" fill="#1a1b0a" filter="url(#b1)"/><ellipse cx="19" cy="54" rx="20" ry="12" fill="#5e2a10" opacity="0.55" filter="url(#b4)"/><ellipse cx="66" cy="58" rx="16" ry="13" fill="#5e2a10" opacity="0.5" filter="url(#b4)"/><path d="M22 78Q38 62 52 70Q56 80 58 86.5" fill="none" stroke="#2a4517" stroke-width="8" opacity="0.8" filter="url(#b2)"/><g clip-path="url(#tc7)"><rect width="86.7" height="86.5" filter="url(#nzG)"/><rect width="86.7" height="86.5" filter="url(#nzK)"/></g><path d="M68 40Q70 52 64 64" fill="none" stroke="#0a0c04" stroke-width="3.5" opacity="0.8" filter="url(#b1)"/><polygon points="40,86.5 44,76 52,74 56,86.5" fill="#080a04" opacity="0.8" filter="url(#b1)"/><g filter="url(#b05)"><g fill="#e85a24" opacity="0.72"><circle cx="8.6" cy="55.4" r="1.18"/><ellipse cx="24.7" cy="58.7" rx="0.61" ry="0.99"/><ellipse cx="6.8" cy="46.1" rx="1.13" ry="0.69"/><ellipse cx="3.5" cy="57.4" rx="1.08" ry="0.67"/><ellipse cx="33.2" cy="46.2" rx="1.4" ry="0.86"/><circle cx="19.6" cy="56.8" r="0.62"/><circle cx="21.6" cy="61.3" r="1.1"/><ellipse cx="12.4" cy="51.4" rx="0.59" ry="0.96"/><ellipse cx="23.4" cy="49" rx="1.55" ry="0.95"/><circle cx="34.9" cy="48" r="0.6"/><ellipse cx="7.5" cy="58.3" rx="0.88" ry="0.54"/><ellipse cx="12.9" cy="65.6" rx="1.56" ry="0.96"/><circle cx="8.7" cy="53" r="1.12"/><ellipse cx="23.3" cy="60.2" rx="0.81" ry="1.32"/><ellipse cx="28.4" cy="52.2" rx="0.84" ry="0.52"/><ellipse cx="0" cy="56.3" rx="0.78" ry="1.26"/><ellipse cx="15.9" cy="49.7" rx="1.57" ry="0.96"/><circle cx="9.5" cy="58" r="0.86"/><ellipse cx="8.2" cy="56.8" rx="0.56" ry="0.92"/><circle cx="24.7" cy="33.5" r="1.08"/><circle cx="22.9" cy="58.2" r="0.9"/><circle cx="32.4" cy="47.1" r="0.83"/><circle cx="34.4" cy="32.5" r="0.87"/><ellipse cx="30.5" cy="41.8" rx="0.73" ry="1.18"/><circle cx="30.4" cy="43.5" r="0.93"/><ellipse cx="24.9" cy="35.4" rx="0.9" ry="0.55"/><ellipse cx="60.6" cy="49.1" rx="0.95" ry="1.54"/><circle cx="57.3" cy="52.9" r="0.66"/><circle cx="55" cy="48.7" r="0.67"/><ellipse cx="63.4" cy="64" rx="1.49" ry="0.92"/><circle cx="59.9" cy="39.8" r="0.62"/><circle cx="61.7" cy="42.5" r="0.69"/><circle cx="59.6" cy="60.7" r="1.14"/><circle cx="61.7" cy="56.7" r="1.24"/><circle cx="56.2" cy="58.4" r="1.29"/><ellipse cx="50.4" cy="48.8" rx="0.83" ry="1.34"/><circle cx="64.2" cy="45.1" r="1.27"/><circle cx="81.2" cy="64.7" r="0.94"/><ellipse cx="67.4" cy="59.1" rx="0.7" ry="1.15"/><ellipse cx="77.4" cy="65.5" rx="0.82" ry="0.5"/><ellipse cx="82.3" cy="66.3" rx="0.84" ry="0.51"/><circle cx="80.3" cy="84.9" r="0.83"/><ellipse cx="78" cy="52.2" rx="0.85" ry="1.39"/><ellipse cx="74.5" cy="62.3" rx="0.92" ry="1.5"/><circle cx="75.2" cy="56" r="0.88"/><ellipse cx="73.6" cy="60.6" rx="0.74" ry="1.21"/></g><g fill="#c03612" opacity="0.72"><ellipse cx="2" cy="64.9" rx="0.58" ry="0.95"/><circle cx="10.8" cy="61.4" r="0.61"/><ellipse cx="4.2" cy="50.4" rx="1.34" ry="0.83"/><circle cx="15" cy="60.6" r="0.96"/><circle cx="14.9" cy="54.3" r="1.11"/><ellipse cx="37.1" cy="50.8" rx="0.77" ry="1.26"/><ellipse cx="37.7" cy="53.2" rx="0.69" ry="1.13"/><circle cx="23.6" cy="49" r="1.18"/><ellipse cx="26.2" cy="64.1" rx="1.62" ry="1"/><ellipse cx="19.7" cy="53.1" rx="1.59" ry="0.98"/><circle cx="21.3" cy="56.5" r="1.07"/><ellipse cx="21" cy="48.7" rx="0.7" ry="1.13"/><circle cx="12.5" cy="51.1" r="0.84"/><ellipse cx="29.6" cy="53.1" rx="1.12" ry="0.69"/><circle cx="14.1" cy="57" r="1.27"/><ellipse cx="13.5" cy="58.9" rx="0.88" ry="1.43"/><circle cx="4" cy="56.4" r="0.83"/><circle cx="6.8" cy="57.1" r="1.22"/><circle cx="30.1" cy="46.1" r="0.63"/><ellipse cx="18.8" cy="59.8" rx="0.89" ry="1.44"/><circle cx="16.3" cy="50.9" r="0.69"/><ellipse cx="28.6" cy="51.6" rx="0.8" ry="1.31"/><circle cx="9.3" cy="49.5" r="0.82"/><ellipse cx="8.7" cy="54.7" rx="0.9" ry="0.55"/><ellipse cx="29.7" cy="44.3" rx="1.48" ry="0.91"/><ellipse cx="32.7" cy="42.5" rx="0.93" ry="1.51"/><circle cx="29.7" cy="32.6" r="1.1"/><circle cx="21.7" cy="33.5" r="1.02"/><ellipse cx="26" cy="33.3" rx="1.47" ry="0.9"/><ellipse cx="62.6" cy="51.3" rx="0.77" ry="1.25"/><ellipse cx="62.6" cy="55.8" rx="0.94" ry="1.52"/><circle cx="60.1" cy="43.9" r="1"/><ellipse cx="58.5" cy="66.9" rx="0.89" ry="1.44"/><circle cx="57.7" cy="45.9" r="0.94"/><ellipse cx="61.2" cy="61.8" rx="1.19" ry="0.73"/><ellipse cx="54.8" cy="58.4" rx="1.21" ry="0.74"/><ellipse cx="67" cy="67.5" rx="0.73" ry="1.18"/><ellipse cx="75.6" cy="68.3" rx="1.18" ry="0.73"/><ellipse cx="65" cy="64.3" rx="0.84" ry="1.36"/><circle cx="83" cy="66.1" r="1"/><circle cx="81" cy="56.5" r="0.92"/><circle cx="74.3" cy="54.7" r="0.91"/><ellipse cx="77" cy="67.6" rx="0.92" ry="0.56"/><ellipse cx="80.1" cy="56.7" rx="0.91" ry="0.56"/><ellipse cx="78.9" cy="60.9" rx="0.82" ry="0.5"/><circle cx="78.3" cy="56.5" r="1.04"/><circle cx="75.6" cy="52.2" r="0.96"/><circle cx="79.4" cy="56.6" r="1.1"/><circle cx="74.9" cy="61.5" r="1.06"/><circle cx="71.2" cy="55.3" r="0.84"/></g><g fill="#d84418" opacity="0.72"><circle cx="16.2" cy="52.3" r="1.13"/><ellipse cx="31.1" cy="52.8" rx="1.02" ry="1.66"/><circle cx="14.2" cy="59.1" r="1.09"/><circle cx="6.1" cy="52.3" r="1.27"/><ellipse cx="10" cy="48" rx="0.79" ry="0.48"/><ellipse cx="8.6" cy="53.2" rx="1" ry="0.61"/><ellipse cx="24.5" cy="58.6" rx="0.95" ry="1.54"/><circle cx="20" cy="46.4" r="0.93"/><circle cx="34.6" cy="49.4" r="0.64"/><circle cx="8.2" cy="54.6" r="0.67"/><ellipse cx="21.4" cy="40.2" rx="0.58" ry="0.95"/><circle cx="19.8" cy="52.9" r="1.2"/><circle cx="20.5" cy="50.1" r="1.19"/><circle cx="13.6" cy="59.6" r="0.77"/><ellipse cx="15.5" cy="55.3" rx="0.69" ry="1.13"/><ellipse cx="10.7" cy="56.7" rx="1.16" ry="0.71"/><ellipse cx="17.8" cy="56.5" rx="0.91" ry="1.47"/><circle cx="32.7" cy="56.8" r="0.71"/><circle cx="28.6" cy="32" r="1.15"/><circle cx="32.5" cy="36.7" r="1.11"/><circle cx="25.8" cy="37.6" r="0.98"/><ellipse cx="26.6" cy="47.5" rx="0.72" ry="1.18"/><circle cx="24.7" cy="29" r="1.01"/><circle cx="12.8" cy="38.9" r="0.98"/><circle cx="20.5" cy="39.3" r="0.81"/><circle cx="28" cy="41.7" r="1.14"/><ellipse cx="59.5" cy="67" rx="1.58" ry="0.97"/><circle cx="57.1" cy="46.5" r="0.77"/><ellipse cx="53.9" cy="45.3" rx="0.96" ry="0.59"/><circle cx="55" cy="45.7" r="1.02"/><ellipse cx="53.9" cy="56" rx="1.03" ry="1.67"/><ellipse cx="60" cy="57.5" rx="1.64" ry="1.01"/><circle cx="64" cy="62.2" r="0.92"/><circle cx="65" cy="61.5" r="1.11"/><circle cx="56.8" cy="54.1" r="1.02"/><ellipse cx="51.2" cy="26.7" rx="0.92" ry="0.56"/><ellipse cx="57.6" cy="56.8" rx="1.45" ry="0.89"/><ellipse cx="59.1" cy="51.6" rx="0.56" ry="0.91"/><circle cx="62.3" cy="44.8" r="0.65"/><ellipse cx="68.3" cy="75.8" rx="0.78" ry="1.27"/><circle cx="57.5" cy="66.7" r="0.73"/><circle cx="76.4" cy="80.9" r="1.05"/><ellipse cx="84.5" cy="64" rx="0.73" ry="1.19"/><circle cx="80.3" cy="63.9" r="0.8"/><ellipse cx="80" cy="64" rx="0.64" ry="1.04"/><circle cx="83.7" cy="59.1" r="0.66"/><ellipse cx="75.4" cy="68.5" rx="0.83" ry="1.35"/><ellipse cx="76.8" cy="56.9" rx="1.22" ry="0.75"/></g><g fill="#cc3a14" opacity="0.72"><ellipse cx="29" cy="57.6" rx="0.72" ry="1.17"/><circle cx="20.9" cy="53.5" r="1.17"/><ellipse cx="7.8" cy="67.6" rx="0.87" ry="0.53"/><ellipse cx="16.7" cy="63" rx="1.02" ry="1.66"/><ellipse cx="39.7" cy="48.5" rx="1.04" ry="0.64"/><circle cx="5" cy="62.6" r="1.06"/><ellipse cx="25.1" cy="61.4" rx="0.98" ry="0.6"/><ellipse cx="4.1" cy="59.8" rx="1.66" ry="1.02"/><circle cx="17.3" cy="57" r="0.99"/><circle cx="22.8" cy="52.7" r="0.72"/><circle cx="11.4" cy="58.2" r="1.28"/><ellipse cx="5" cy="51.4" rx="0.97" ry="1.57"/><circle cx="22.4" cy="56.1" r="1.1"/><ellipse cx="35.4" cy="57.6" rx="0.65" ry="1.06"/><circle cx="21.2" cy="45.4" r="1.3"/><circle cx="14.4" cy="63.1" r="0.98"/><circle cx="18.4" cy="54.7" r="0.7"/><circle cx="26" cy="49.7" r="1.07"/><ellipse cx="24.9" cy="41.8" rx="1.24" ry="0.76"/><ellipse cx="35.6" cy="44.3" rx="1.24" ry="0.76"/><circle cx="23.6" cy="32.3" r="0.94"/><ellipse cx="27.6" cy="49.2" rx="1.2" ry="0.74"/><circle cx="29.8" cy="47.8" r="0.8"/><circle cx="31.7" cy="32.6" r="1.13"/><ellipse cx="59.2" cy="51.1" rx="0.62" ry="1"/><circle cx="57.6" cy="47.4" r="0.7"/><circle cx="61.5" cy="52.1" r="0.75"/><ellipse cx="52.2" cy="54.1" rx="1.01" ry="0.62"/><ellipse cx="63.9" cy="49.8" rx="0.78" ry="1.27"/><ellipse cx="59.1" cy="67.5" rx="0.92" ry="0.56"/><circle cx="65.4" cy="60.5" r="0.95"/><ellipse cx="52.1" cy="40.9" rx="1.26" ry="0.78"/><ellipse cx="53.3" cy="52.5" rx="0.7" ry="1.14"/><circle cx="55.8" cy="55.5" r="0.95"/><ellipse cx="55.2" cy="47.4" rx="0.88" ry="1.42"/><circle cx="62.7" cy="62" r="0.94"/><circle cx="59.2" cy="50.3" r="0.8"/><ellipse cx="55" cy="45.9" rx="1" ry="1.63"/><ellipse cx="55" cy="51.7" rx="1.52" ry="0.94"/><ellipse cx="86.3" cy="65.3" rx="1.08" ry="0.67"/><ellipse cx="76.8" cy="68.3" rx="1.3" ry="0.8"/><circle cx="77.2" cy="53.2" r="1.09"/></g><g fill="#e05020" opacity="0.72"><circle cx="20.3" cy="49.1" r="0.97"/><ellipse cx="12.1" cy="51.2" rx="0.95" ry="0.59"/><ellipse cx="22.3" cy="56.8" rx="0.65" ry="1.05"/><ellipse cx="8.9" cy="55.3" rx="0.99" ry="1.61"/><ellipse cx="33.3" cy="45.1" rx="0.78" ry="1.27"/><circle cx="10.9" cy="62.6" r="1.01"/><circle cx="22.3" cy="52.1" r="1.11"/><ellipse cx="5.3" cy="56.3" rx="1" ry="1.62"/><ellipse cx="12.4" cy="55.9" rx="1.4" ry="0.86"/><circle cx="12.8" cy="61.1" r="1.16"/><circle cx="20.3" cy="54.2" r="0.63"/><ellipse cx="23" cy="29.1" rx="0.49" ry="0.79"/><circle cx="21.2" cy="38.7" r="0.6"/><circle cx="62.9" cy="62.4" r="0.71"/><ellipse cx="58.1" cy="38.8" rx="0.54" ry="0.88"/><circle cx="58.3" cy="67.5" r="0.88"/><circle cx="58.7" cy="56.2" r="0.72"/><circle cx="54.1" cy="43.8" r="1.2"/><ellipse cx="64.5" cy="47.3" rx="1.62" ry="1"/><circle cx="58.1" cy="53.5" r="1.08"/><ellipse cx="54.8" cy="47.5" rx="1.08" ry="0.67"/><ellipse cx="52.8" cy="48.4" rx="1" ry="0.61"/><circle cx="65.9" cy="54.2" r="1.3"/><circle cx="63.8" cy="59.9" r="1.01"/><ellipse cx="69.9" cy="65.4" rx="0.91" ry="0.56"/><ellipse cx="85" cy="57.3" rx="0.79" ry="1.28"/><circle cx="74.6" cy="69.8" r="1.09"/><ellipse cx="71.4" cy="57.2" rx="0.7" ry="1.14"/><ellipse cx="70.2" cy="69.9" rx="1" ry="0.61"/><circle cx="86.1" cy="61.9" r="0.61"/><circle cx="80.1" cy="66.3" r="0.9"/><circle cx="73.4" cy="66" r="0.78"/></g><g fill="#cc3a14" opacity="0.8"><ellipse cx="59.2" cy="13.1" rx="0.95" ry="0.58"/><ellipse cx="64.5" cy="10.1" rx="0.74" ry="1.2"/></g><g fill="#c03612" opacity="0.8"><circle cx="53.5" cy="25.5" r="0.66"/></g><g fill="#e85a24" opacity="0.8"><circle cx="71.8" cy="33.3" r="0.82"/><ellipse cx="59.4" cy="22.1" rx="1.2" ry="0.74"/><circle cx="86" cy="29" r="0.71"/></g><g fill="#d84418" opacity="0.8"><circle cx="82.1" cy="8.4" r="0.99"/></g><g fill="#e05020" opacity="0.8"><circle cx="61.7" cy="23.1" r="0.94"/></g><g fill="#60c038" opacity="0.8"><ellipse cx="73.2" cy="79.8" rx="0.46" ry="0.75"/><ellipse cx="44.9" cy="25.7" rx="0.33" ry="0.54"/><circle cx="64.5" cy="8.4" r="0.3"/><ellipse cx="74.5" cy="44.8" rx="0.44" ry="0.27"/><circle cx="12.6" cy="43.9" r="0.5"/><ellipse cx="17" cy="24.2" rx="0.53" ry="0.32"/><ellipse cx="28.7" cy="9.6" rx="0.62" ry="0.38"/><ellipse cx="74" cy="39.5" rx="0.63" ry="0.39"/><ellipse cx="24.4" cy="24.3" rx="0.55" ry="0.34"/><circle cx="40.1" cy="60.6" r="0.35"/><ellipse cx="14.5" cy="30.4" rx="0.48" ry="0.78"/></g><g fill="#50a030" opacity="0.8"><ellipse cx="60.4" cy="32" rx="0.61" ry="0.37"/><circle cx="3.5" cy="48.7" r="0.51"/><ellipse cx="76.8" cy="12" rx="0.68" ry="0.42"/><ellipse cx="83.4" cy="41" rx="0.48" ry="0.3"/><ellipse cx="58.2" cy="85" rx="0.42" ry="0.67"/><circle cx="14.9" cy="59.7" r="0.36"/><ellipse cx="50.9" cy="61" rx="0.27" ry="0.44"/><circle cx="61.7" cy="11.1" r="0.37"/><circle cx="19.4" cy="76.8" r="0.39"/><circle cx="3.9" cy="48.9" r="0.4"/><circle cx="74.8" cy="49.8" r="0.46"/><ellipse cx="56.2" cy="26.3" rx="0.24" ry="0.39"/><ellipse cx="6.1" cy="43.5" rx="0.35" ry="0.58"/><ellipse cx="74.8" cy="74.4" rx="0.32" ry="0.52"/><ellipse cx="56.3" cy="13.3" rx="0.31" ry="0.5"/><ellipse cx="4" cy="48.8" rx="0.49" ry="0.3"/><ellipse cx="52.9" cy="40.5" rx="0.33" ry="0.53"/><ellipse cx="12.3" cy="14.5" rx="0.46" ry="0.75"/><ellipse cx="76" cy="20.7" rx="0.3" ry="0.49"/><ellipse cx="4.9" cy="49.3" rx="0.39" ry="0.64"/><circle cx="62.7" cy="26" r="0.45"/><ellipse cx="40.8" cy="58" rx="0.24" ry="0.4"/><circle cx="70.9" cy="74.4" r="0.43"/><ellipse cx="65" cy="51.1" rx="0.63" ry="0.39"/></g></g></g><text x="5.6" y="9.5" font-size="10.5" fill="#2db86c" stroke="#2db86c" stroke-width="0.12">Chrm1</text><text x="6.2" y="22.3" font-size="10.8" fill="#e6281c" stroke="#e6281c" stroke-width="0.12">AgRP</text><rect x="65.6" y="81.6" width="13" height="1.5" fill="#fff"/><text x="73.6" y="79.3" font-size="7.6" fill="#fff" text-anchor="middle">100µm</text></g>
<g transform="translate(596.9 585.5)"><g clip-path="url(#clp8)"><rect width="87.6" height="86.5" fill="#050503"/><rect width="87.6" height="86.5" fill="#090615"/><path d="M0 84Q20 80 40 72Q50 84 60 78Q74 84 87.6 74" fill="none" stroke="#2a2480" stroke-width="9" opacity="0.7" filter="url(#b2)"/><ellipse cx="72" cy="68" rx="17" ry="16" fill="#34186a" opacity="0.55" filter="url(#b4)"/><ellipse cx="30" cy="60" rx="20" ry="20" fill="#1c1448" opacity="0.5" filter="url(#b4)"/><g opacity="0.6"><g clip-path="url(#tc8)"><rect width="87.6" height="86.5" filter="url(#nzB2)"/><rect width="87.6" height="86.5" filter="url(#nzK)"/></g></g><path d="M45 0Q48 40 44 86" fill="none" stroke="#05040e" stroke-width="7" opacity="0.8" filter="url(#b2)"/><g filter="url(#b03)"><g fill="#e81c1c"><ellipse cx="32.8" cy="52.8" rx="1.36" ry="0.84"/><ellipse cx="28" cy="54.5" rx="0.92" ry="1.49"/><circle cx="31.9" cy="47.4" r="0.73"/><ellipse cx="34" cy="43.6" rx="0.63" ry="1.02"/><ellipse cx="22.7" cy="81.3" rx="0.85" ry="1.37"/><circle cx="38.1" cy="47.7" r="0.74"/><ellipse cx="23.8" cy="70.1" rx="0.86" ry="0.53"/><circle cx="30.8" cy="45.2" r="0.7"/><circle cx="31" cy="74.5" r="0.71"/><circle cx="31.7" cy="56.7" r="0.61"/><circle cx="26" cy="54.3" r="0.68"/><ellipse cx="19.6" cy="65.2" rx="1.27" ry="0.78"/><circle cx="28.9" cy="65.3" r="0.77"/><ellipse cx="30.4" cy="61.9" rx="0.55" ry="0.9"/><ellipse cx="32.9" cy="52.5" rx="1.15" ry="0.71"/><circle cx="31.2" cy="51.7" r="0.89"/><circle cx="22.3" cy="55.8" r="1.21"/><circle cx="41.9" cy="44.3" r="0.66"/><circle cx="36.1" cy="46.3" r="0.61"/><circle cx="4.3" cy="64.9" r="0.9"/><ellipse cx="13.6" cy="45.9" rx="0.92" ry="0.57"/><ellipse cx="6.3" cy="61.6" rx="1.27" ry="0.78"/><ellipse cx="15.7" cy="60.9" rx="0.61" ry="0.99"/><circle cx="7.4" cy="53.2" r="0.68"/><circle cx="68.4" cy="72.4" r="1.23"/><circle cx="55.6" cy="56.7" r="0.85"/><circle cx="70.9" cy="72.7" r="0.87"/><circle cx="74.5" cy="69.3" r="0.76"/><ellipse cx="77.1" cy="53.7" rx="0.8" ry="0.49"/><circle cx="76.2" cy="76.5" r="1.14"/><circle cx="69.4" cy="57.2" r="0.7"/><ellipse cx="68" cy="54.9" rx="0.88" ry="0.54"/><ellipse cx="73.7" cy="69.6" rx="1.55" ry="0.95"/><ellipse cx="71.2" cy="79" rx="1.22" ry="0.75"/><circle cx="75.9" cy="58.8" r="0.77"/><circle cx="77.7" cy="64.7" r="1.07"/><circle cx="82.2" cy="69" r="0.75"/><circle cx="64.2" cy="73.3" r="0.71"/><circle cx="66.3" cy="73" r="1.07"/><ellipse cx="71" cy="72.6" rx="0.69" ry="1.12"/><circle cx="79" cy="69.9" r="1.29"/><ellipse cx="64.1" cy="67.8" rx="0.88" ry="0.54"/><circle cx="59.5" cy="67.6" r="1.19"/><circle cx="66.1" cy="62.5" r="0.63"/><ellipse cx="73.7" cy="70.6" rx="1.59" ry="0.98"/><ellipse cx="64.2" cy="66.7" rx="0.72" ry="1.17"/><circle cx="78.5" cy="66.5" r="0.61"/><ellipse cx="76" cy="58" rx="0.61" ry="0.99"/><circle cx="74.4" cy="53.8" r="0.68"/><ellipse cx="64.1" cy="68.9" rx="1.03" ry="0.64"/><ellipse cx="82.3" cy="51.2" rx="0.73" ry="1.18"/><circle cx="63.1" cy="56.3" r="0.7"/><circle cx="25.8" cy="31.5" r="0.83"/><circle cx="25.7" cy="34" r="0.66"/><circle cx="38.8" cy="26.1" r="0.66"/><ellipse cx="13.6" cy="31.4" rx="0.53" ry="0.85"/></g><g fill="#f02420"><ellipse cx="25" cy="49.8" rx="1.36" ry="0.84"/><ellipse cx="26.5" cy="72.9" rx="0.69" ry="1.11"/><circle cx="30.8" cy="63.3" r="1.12"/><circle cx="25.1" cy="47.7" r="1.11"/><circle cx="31.7" cy="60.1" r="0.69"/><circle cx="35" cy="48.5" r="1.08"/><circle cx="37.4" cy="60.6" r="0.92"/><circle cx="27.6" cy="63.7" r="1.28"/><ellipse cx="37.4" cy="53.3" rx="1.1" ry="0.67"/><ellipse cx="24.4" cy="73.2" rx="0.68" ry="1.11"/><ellipse cx="36.8" cy="65.5" rx="0.96" ry="1.55"/><circle cx="34.5" cy="57.1" r="1.28"/><ellipse cx="40.3" cy="53.4" rx="0.67" ry="1.1"/><ellipse cx="30.6" cy="49.8" rx="1.61" ry="0.99"/><ellipse cx="23.4" cy="66.9" rx="1.3" ry="0.8"/><ellipse cx="22" cy="57" rx="1.12" ry="0.69"/><ellipse cx="26.2" cy="54.9" rx="1.08" ry="0.66"/><circle cx="38.5" cy="70" r="0.66"/><ellipse cx="41.8" cy="61.9" rx="1" ry="1.63"/><circle cx="24.8" cy="61.2" r="0.92"/><ellipse cx="20.7" cy="48.4" rx="0.45" ry="0.73"/><circle cx="15.8" cy="49.4" r="0.85"/><ellipse cx="13.7" cy="68.8" rx="0.42" ry="0.69"/><circle cx="70.1" cy="78.3" r="0.67"/><circle cx="66" cy="63.7" r="0.97"/><circle cx="71.6" cy="74.3" r="0.86"/><ellipse cx="78.7" cy="63.1" rx="0.74" ry="1.21"/><ellipse cx="74" cy="55.5" rx="0.59" ry="0.96"/><ellipse cx="61.7" cy="58.7" rx="1.29" ry="0.79"/><ellipse cx="69.5" cy="61.9" rx="0.71" ry="1.15"/><ellipse cx="64" cy="63.5" rx="1.33" ry="0.82"/><circle cx="67.5" cy="61" r="0.97"/><circle cx="54.4" cy="66.6" r="0.69"/><circle cx="74.5" cy="68.9" r="1.18"/><ellipse cx="69.1" cy="71.3" rx="0.49" ry="0.79"/><circle cx="70.2" cy="57" r="0.68"/><ellipse cx="68.6" cy="75.5" rx="0.48" ry="0.78"/><circle cx="70.8" cy="65.4" r="1.23"/><ellipse cx="73.5" cy="66.9" rx="0.8" ry="1.3"/><circle cx="66.8" cy="66.6" r="1"/><ellipse cx="63.1" cy="31.6" rx="1.26" ry="0.77"/><ellipse cx="63.1" cy="55.9" rx="0.48" ry="0.79"/><circle cx="64" cy="53.3" r="0.71"/><ellipse cx="59.6" cy="33.4" rx="1.04" ry="0.64"/><circle cx="52.6" cy="32.6" r="0.71"/><ellipse cx="64.1" cy="41.3" rx="0.61" ry="0.99"/><circle cx="21.6" cy="24.8" r="0.55"/><ellipse cx="23.5" cy="21.6" rx="1.08" ry="0.67"/><circle cx="17.4" cy="39.8" r="0.83"/></g><g fill="#ff3828"><ellipse cx="33.4" cy="51.3" rx="0.58" ry="0.94"/><ellipse cx="34" cy="44.9" rx="0.56" ry="0.92"/><circle cx="22.6" cy="54.6" r="1.09"/><ellipse cx="29.8" cy="58.9" rx="0.8" ry="1.3"/><circle cx="30.1" cy="50.1" r="1.03"/><ellipse cx="29.3" cy="49.1" rx="0.87" ry="1.41"/><circle cx="29.5" cy="69" r="1.11"/><circle cx="26.8" cy="68.4" r="1.04"/><ellipse cx="34.3" cy="64" rx="0.52" ry="0.84"/><circle cx="32.8" cy="64.5" r="1.2"/><ellipse cx="33.9" cy="43.6" rx="1.05" ry="0.65"/><circle cx="31.1" cy="45.3" r="1.27"/><ellipse cx="29.8" cy="45.4" rx="0.97" ry="0.6"/><ellipse cx="40.4" cy="67.5" rx="1.2" ry="0.74"/><ellipse cx="25.6" cy="46.5" rx="1.48" ry="0.91"/><circle cx="27.3" cy="59.7" r="1.23"/><ellipse cx="29.3" cy="61.3" rx="1.01" ry="1.65"/><circle cx="21.1" cy="63.9" r="1.14"/><ellipse cx="34.6" cy="67.5" rx="0.55" ry="0.9"/><ellipse cx="27.8" cy="57.2" rx="1.65" ry="1.02"/><circle cx="38.3" cy="59.3" r="1.14"/><ellipse cx="33.4" cy="56.8" rx="1.5" ry="0.92"/><circle cx="34.8" cy="51.5" r="0.89"/><ellipse cx="37.7" cy="50.9" rx="0.99" ry="1.61"/><ellipse cx="30.6" cy="75.3" rx="1.67" ry="1.03"/><ellipse cx="30.4" cy="35.9" rx="1.65" ry="1.01"/><ellipse cx="21.7" cy="61.8" rx="0.68" ry="1.1"/><circle cx="20.8" cy="48.5" r="0.89"/><circle cx="33.3" cy="53.8" r="0.58"/><circle cx="16.2" cy="52.2" r="0.6"/><ellipse cx="24.6" cy="51.5" rx="1.15" ry="0.71"/><circle cx="81.6" cy="63.6" r="1.26"/><circle cx="70.2" cy="58.6" r="0.86"/><circle cx="61" cy="69.9" r="1.09"/><ellipse cx="60.6" cy="57.9" rx="1.04" ry="0.64"/><ellipse cx="66.1" cy="69.3" rx="1.44" ry="0.88"/><ellipse cx="73.5" cy="70.7" rx="1.26" ry="0.78"/><ellipse cx="73.5" cy="62.9" rx="0.77" ry="1.25"/><circle cx="70.6" cy="53.8" r="1.16"/><ellipse cx="67" cy="59.3" rx="0.92" ry="1.5"/><circle cx="74.7" cy="45.6" r="0.8"/><ellipse cx="62.8" cy="60.3" rx="0.62" ry="1.01"/><ellipse cx="78.2" cy="55.2" rx="0.75" ry="1.22"/><ellipse cx="72.9" cy="66.2" rx="1.05" ry="0.64"/><circle cx="76.9" cy="61.7" r="0.99"/><circle cx="70.9" cy="67.6" r="0.73"/><ellipse cx="65.5" cy="59.8" rx="0.73" ry="1.19"/><ellipse cx="77.5" cy="62.5" rx="1.06" ry="0.65"/><circle cx="77.2" cy="60.5" r="1.29"/><circle cx="78.8" cy="56.5" r="0.7"/><ellipse cx="60.9" cy="66.3" rx="0.96" ry="1.56"/><ellipse cx="68.9" cy="61.7" rx="0.54" ry="0.88"/><circle cx="62.1" cy="62.6" r="0.78"/><circle cx="64.1" cy="57.7" r="1.04"/><ellipse cx="84.7" cy="59.8" rx="0.56" ry="0.91"/><circle cx="26" cy="20.4" r="0.82"/></g><g fill="#ff2a1c"><circle cx="24.4" cy="53" r="1.02"/><ellipse cx="29.6" cy="69" rx="0.59" ry="0.97"/><ellipse cx="34.7" cy="55.1" rx="0.53" ry="0.87"/><circle cx="29.8" cy="57.8" r="1.25"/><ellipse cx="31.3" cy="46.5" rx="1.27" ry="0.78"/><circle cx="32.1" cy="60" r="0.65"/><circle cx="40.5" cy="55.7" r="1.16"/><ellipse cx="26.7" cy="46.5" rx="0.87" ry="1.41"/><circle cx="31.5" cy="38.8" r="1.18"/><circle cx="35.5" cy="45.9" r="0.82"/><circle cx="21.5" cy="63.2" r="1.09"/><circle cx="34.8" cy="51.6" r="0.98"/><circle cx="18.4" cy="60.9" r="1.16"/><circle cx="24.1" cy="80" r="0.83"/><ellipse cx="43.3" cy="59.3" rx="1.02" ry="1.65"/><circle cx="22.1" cy="53.8" r="0.77"/><ellipse cx="36.3" cy="40.9" rx="1.08" ry="0.66"/><circle cx="37.7" cy="56.5" r="0.64"/><circle cx="27.3" cy="67.3" r="0.84"/><ellipse cx="23" cy="64.5" rx="0.74" ry="1.21"/><circle cx="33.5" cy="56.4" r="0.83"/><circle cx="24" cy="45.5" r="0.8"/><ellipse cx="26.5" cy="42.4" rx="0.98" ry="1.6"/><ellipse cx="22.4" cy="66.4" rx="0.87" ry="1.42"/><ellipse cx="28.1" cy="56.3" rx="0.89" ry="1.45"/><ellipse cx="37.6" cy="48" rx="1" ry="1.63"/><circle cx="37.8" cy="53.8" r="0.89"/><ellipse cx="29" cy="49.6" rx="1.49" ry="0.92"/><ellipse cx="38.1" cy="53.3" rx="1.46" ry="0.9"/><ellipse cx="9.6" cy="53.6" rx="0.46" ry="0.75"/><circle cx="10.2" cy="46.9" r="0.82"/><ellipse cx="25.7" cy="63.4" rx="0.74" ry="1.2"/><ellipse cx="22.1" cy="42.8" rx="0.45" ry="0.73"/><ellipse cx="59.7" cy="69.6" rx="0.75" ry="1.23"/><ellipse cx="68.2" cy="63.4" rx="1.53" ry="0.94"/><ellipse cx="69.4" cy="61.7" rx="1.6" ry="0.99"/><circle cx="79.5" cy="71.5" r="1.15"/><circle cx="68.3" cy="71.7" r="1.11"/><circle cx="70.4" cy="59.1" r="0.87"/><circle cx="79.6" cy="74.3" r="0.68"/><circle cx="58.4" cy="51.3" r="0.8"/><circle cx="69" cy="64" r="0.78"/><ellipse cx="70.2" cy="72.9" rx="1.63" ry="1"/><ellipse cx="68.1" cy="57.5" rx="0.69" ry="1.13"/><ellipse cx="56.8" cy="60.4" rx="1.1" ry="0.68"/><circle cx="67.8" cy="63.2" r="0.84"/><ellipse cx="72.4" cy="57.7" rx="1.13" ry="0.69"/><ellipse cx="56.5" cy="55.4" rx="0.96" ry="1.56"/><circle cx="82.4" cy="73.9" r="1.02"/><circle cx="72.5" cy="74.1" r="1.05"/><circle cx="73.3" cy="67.7" r="0.61"/><ellipse cx="79.8" cy="59.1" rx="1.25" ry="0.77"/><ellipse cx="63.9" cy="64.4" rx="1.08" ry="0.67"/><ellipse cx="56.8" cy="30.9" rx="0.72" ry="1.16"/><circle cx="78" cy="45.1" r="0.79"/><circle cx="82.6" cy="44.3" r="0.69"/><ellipse cx="52" cy="45.4" rx="0.77" ry="1.25"/><circle cx="72.3" cy="45.5" r="0.6"/><circle cx="63.9" cy="44.8" r="0.84"/><circle cx="64.3" cy="31.8" r="0.5"/><circle cx="52.5" cy="31.8" r="0.61"/><circle cx="77.6" cy="49.4" r="0.7"/><ellipse cx="25" cy="24.8" rx="0.57" ry="0.93"/><circle cx="25.7" cy="37.1" r="0.9"/><circle cx="35.4" cy="41" r="0.83"/></g><g fill="#ff2030"><ellipse cx="34.9" cy="49.7" rx="0.56" ry="0.91"/><ellipse cx="25.9" cy="47.5" rx="0.78" ry="0.48"/><circle cx="36" cy="24.1" r="0.64"/><ellipse cx="34.8" cy="50.5" rx="0.48" ry="0.78"/><ellipse cx="28.8" cy="67.2" rx="0.84" ry="0.52"/><ellipse cx="36.2" cy="46.4" rx="1.4" ry="0.86"/><ellipse cx="34" cy="76.1" rx="0.94" ry="0.58"/><circle cx="36" cy="56.3" r="1.22"/><circle cx="30.6" cy="61.7" r="0.63"/><ellipse cx="31.1" cy="62.4" rx="0.78" ry="1.26"/><ellipse cx="31.9" cy="53.6" rx="1" ry="0.61"/><circle cx="31.5" cy="44.2" r="0.86"/><circle cx="34.3" cy="46.1" r="0.85"/><circle cx="31.6" cy="46.8" r="0.9"/><ellipse cx="31" cy="36.7" rx="0.87" ry="1.42"/><circle cx="25.2" cy="71.8" r="0.77"/><ellipse cx="35.3" cy="31.7" rx="1.08" ry="0.66"/><ellipse cx="22.1" cy="59.2" rx="0.92" ry="1.49"/><ellipse cx="41.5" cy="36.3" rx="0.69" ry="1.12"/><circle cx="19.4" cy="61.1" r="0.66"/><ellipse cx="27.9" cy="67.7" rx="1.59" ry="0.98"/><ellipse cx="44.2" cy="76.9" rx="1.34" ry="0.83"/><circle cx="36.7" cy="42.3" r="0.96"/><ellipse cx="29.6" cy="65.7" rx="1.01" ry="1.63"/><circle cx="32.2" cy="64.8" r="0.73"/><ellipse cx="26.4" cy="68" rx="1.65" ry="1.02"/><ellipse cx="30.7" cy="46.8" rx="1.44" ry="0.89"/><ellipse cx="27.9" cy="63.8" rx="0.53" ry="0.86"/><ellipse cx="46.4" cy="50.8" rx="0.76" ry="1.23"/><circle cx="33.2" cy="45.7" r="1.22"/><circle cx="25.4" cy="64.7" r="0.69"/><ellipse cx="40.5" cy="42.4" rx="0.77" ry="1.24"/><ellipse cx="28.6" cy="61.1" rx="0.47" ry="0.76"/><ellipse cx="17.9" cy="54.3" rx="0.56" ry="0.92"/><circle cx="15.8" cy="60.4" r="0.52"/><circle cx="8.9" cy="53.5" r="0.93"/><ellipse cx="12.7" cy="58.1" rx="0.43" ry="0.7"/><ellipse cx="22.6" cy="55.2" rx="0.72" ry="0.44"/><ellipse cx="8.1" cy="60.1" rx="0.57" ry="0.93"/><ellipse cx="67.1" cy="60.2" rx="0.55" ry="0.89"/><circle cx="63" cy="63.9" r="1.29"/><ellipse cx="67.7" cy="59.9" rx="0.85" ry="0.52"/><circle cx="71.1" cy="71" r="0.69"/><ellipse cx="72.3" cy="59.3" rx="0.74" ry="1.21"/><circle cx="66.2" cy="53.2" r="1"/><circle cx="78.1" cy="73.9" r="1.17"/><ellipse cx="76.1" cy="47.1" rx="1.19" ry="0.73"/><circle cx="79.3" cy="57.8" r="0.96"/><circle cx="76.9" cy="57.8" r="0.88"/><circle cx="69.1" cy="58.7" r="1.17"/><circle cx="77.3" cy="61.8" r="0.74"/><circle cx="59.9" cy="59" r="0.66"/><circle cx="61.7" cy="62.3" r="0.89"/><ellipse cx="71.3" cy="61.2" rx="0.8" ry="0.49"/><ellipse cx="73.4" cy="67.9" rx="1.13" ry="0.69"/><circle cx="57.3" cy="63.4" r="0.63"/><circle cx="60.5" cy="65.9" r="1.03"/><circle cx="76.7" cy="68.6" r="0.8"/><ellipse cx="67.3" cy="72.5" rx="1" ry="1.62"/><circle cx="72.1" cy="54.8" r="1.29"/><ellipse cx="78.5" cy="57" rx="0.88" ry="1.43"/><circle cx="60.4" cy="69.7" r="0.68"/><circle cx="70.6" cy="61" r="1.25"/><ellipse cx="72.6" cy="35.8" rx="0.67" ry="1.09"/><circle cx="53.6" cy="49.2" r="0.51"/><ellipse cx="85.2" cy="45.1" rx="0.63" ry="1.03"/><circle cx="80.9" cy="32.4" r="0.58"/><circle cx="20.7" cy="25.1" r="0.55"/></g><g fill="#4840b8" opacity="0.5"><circle cx="11" cy="79.4" r="0.66"/><circle cx="67.8" cy="65.7" r="0.6"/><ellipse cx="17" cy="80.1" rx="0.85" ry="0.52"/><ellipse cx="27.1" cy="76.5" rx="0.68" ry="1.1"/><ellipse cx="50.9" cy="78.8" rx="0.68" ry="1.1"/><circle cx="65.3" cy="24.1" r="0.72"/></g><g fill="#3c34a0" opacity="0.5"><ellipse cx="48.7" cy="37.1" rx="0.44" ry="0.71"/><ellipse cx="43.2" cy="82.8" rx="0.63" ry="1.03"/><ellipse cx="57.9" cy="31.4" rx="0.41" ry="0.66"/><circle cx="56.8" cy="73.8" r="0.59"/><circle cx="14.1" cy="78.5" r="0.78"/></g><g fill="#342c88" opacity="0.5"><circle cx="16.2" cy="25.9" r="0.74"/><ellipse cx="9.8" cy="53.4" rx="0.7" ry="1.14"/><circle cx="62.5" cy="32.2" r="0.87"/></g><g fill="#5048c0" opacity="0.5"><circle cx="47.1" cy="65.7" r="0.65"/><circle cx="43.9" cy="59" r="0.68"/><ellipse cx="38.2" cy="37.8" rx="0.84" ry="0.52"/><ellipse cx="35.6" cy="54.7" rx="0.67" ry="1.08"/></g></g></g><text x="4.7" y="9.3" font-size="10.5" fill="#2f80d0" stroke="#2f80d0" stroke-width="0.12">Chrm2</text><text x="5" y="19.6" font-size="10.8" fill="#e6281c" stroke="#e6281c" stroke-width="0.12">AgRP</text><rect x="66.5" y="81.6" width="13" height="1.5" fill="#fff"/><text x="75" y="79.3" font-size="7.6" fill="#fff" text-anchor="middle">100µm</text></g>
</g>
</g>
</svg>
</body></html>
